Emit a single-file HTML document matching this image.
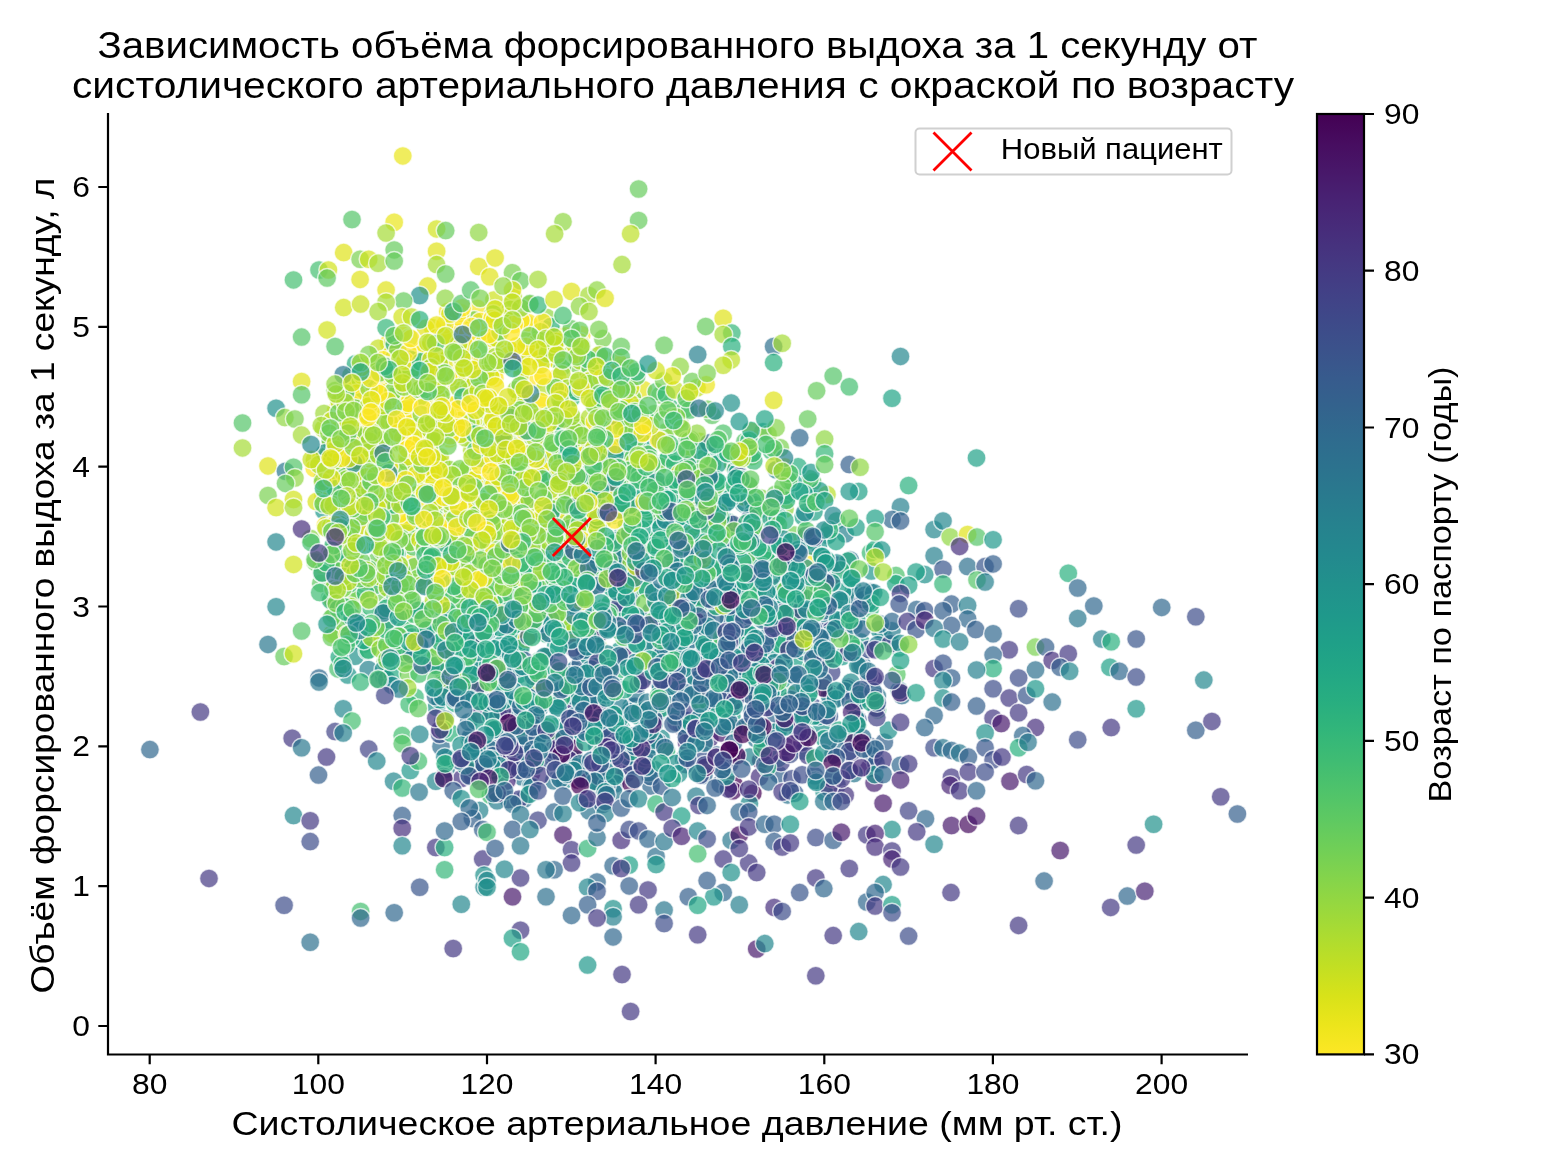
<!DOCTYPE html><html><head><meta charset="utf-8"><style>html,body{margin:0;padding:0;background:#fff}svg{display:block;will-change:transform;filter:blur(0.5px)}text{font-family:"Liberation Sans",sans-serif;fill:#000}</style></head><body>
<svg width="1560" height="1170" viewBox="0 0 1560 1170">
<rect width="1560" height="1170" fill="#fff"/>
<defs><linearGradient id="cb" x1="0" y1="0" x2="0" y2="1"><stop offset="0.0000" stop-color="#440154"/><stop offset="0.0312" stop-color="#470d60"/><stop offset="0.0625" stop-color="#48186a"/><stop offset="0.0938" stop-color="#482374"/><stop offset="0.1250" stop-color="#472d7b"/><stop offset="0.1562" stop-color="#453781"/><stop offset="0.1875" stop-color="#424086"/><stop offset="0.2188" stop-color="#3e4989"/><stop offset="0.2500" stop-color="#3b528b"/><stop offset="0.2812" stop-color="#375b8d"/><stop offset="0.3125" stop-color="#33638d"/><stop offset="0.3438" stop-color="#2f6b8e"/><stop offset="0.3750" stop-color="#2c728e"/><stop offset="0.4062" stop-color="#297a8e"/><stop offset="0.4375" stop-color="#26828e"/><stop offset="0.4688" stop-color="#23898e"/><stop offset="0.5000" stop-color="#21918c"/><stop offset="0.5312" stop-color="#1f988b"/><stop offset="0.5625" stop-color="#1fa088"/><stop offset="0.5938" stop-color="#22a785"/><stop offset="0.6250" stop-color="#28ae80"/><stop offset="0.6562" stop-color="#32b67a"/><stop offset="0.6875" stop-color="#3fbc73"/><stop offset="0.7188" stop-color="#4ec36b"/><stop offset="0.7500" stop-color="#5ec962"/><stop offset="0.7812" stop-color="#70cf57"/><stop offset="0.8125" stop-color="#84d44b"/><stop offset="0.8438" stop-color="#98d83e"/><stop offset="0.8750" stop-color="#addc30"/><stop offset="0.9062" stop-color="#c2df23"/><stop offset="0.9375" stop-color="#d8e219"/><stop offset="0.9688" stop-color="#ece51b"/><stop offset="1.0000" stop-color="#fde725"/></linearGradient></defs>
<g stroke="#fff" stroke-width="1.5" fill-opacity="0.7" stroke-opacity="0.7">
<circle cx="829.2" cy="623.2" r="9.5" fill="#287d8e"/>
<circle cx="471.2" cy="404.9" r="9.5" fill="#fde725"/>
<circle cx="560.3" cy="385.8" r="9.5" fill="#f1e51d"/>
<circle cx="597.6" cy="723.3" r="9.5" fill="#2d718e"/>
<circle cx="671.4" cy="519.4" r="9.5" fill="#21a685"/>
<circle cx="416.1" cy="442.7" r="9.5" fill="#fde725"/>
<circle cx="604.1" cy="689.0" r="9.5" fill="#2b748e"/>
<circle cx="573.5" cy="735.3" r="9.5" fill="#2c728e"/>
<circle cx="603.6" cy="607.7" r="9.5" fill="#1f988b"/>
<circle cx="592.8" cy="706.7" r="9.5" fill="#404588"/>
<circle cx="436.3" cy="522.9" r="9.5" fill="#d5e21a"/>
<circle cx="512.9" cy="652.6" r="9.5" fill="#3d4e8a"/>
<circle cx="377.9" cy="648.4" r="9.5" fill="#a5db36"/>
<circle cx="600.9" cy="704.5" r="9.5" fill="#21918c"/>
<circle cx="812.6" cy="648.5" r="9.5" fill="#297a8e"/>
<circle cx="682.4" cy="727.2" r="9.5" fill="#460a5d"/>
<circle cx="746.5" cy="609.1" r="9.5" fill="#3f4889"/>
<circle cx="599.6" cy="459.8" r="9.5" fill="#58c765"/>
<circle cx="656.4" cy="595.9" r="9.5" fill="#2cb17e"/>
<circle cx="524.2" cy="799.0" r="9.5" fill="#2d708e"/>
<circle cx="483.7" cy="454.9" r="9.5" fill="#cae11f"/>
<circle cx="519.1" cy="394.2" r="9.5" fill="#bddf26"/>
<circle cx="705.5" cy="647.4" r="9.5" fill="#20928c"/>
<circle cx="533.6" cy="470.2" r="9.5" fill="#5ec962"/>
<circle cx="341.7" cy="476.1" r="9.5" fill="#b2dd2d"/>
<circle cx="469.5" cy="739.4" r="9.5" fill="#1f998a"/>
<circle cx="829.5" cy="565.8" r="9.5" fill="#38588c"/>
<circle cx="372.3" cy="505.0" r="9.5" fill="#fde725"/>
<circle cx="627.6" cy="743.3" r="9.5" fill="#3d4d8a"/>
<circle cx="574.5" cy="577.5" r="9.5" fill="#24aa83"/>
<circle cx="624.6" cy="521.4" r="9.5" fill="#48c16e"/>
<circle cx="752.5" cy="615.2" r="9.5" fill="#1f988b"/>
<circle cx="514.5" cy="763.9" r="9.5" fill="#24868e"/>
<circle cx="358.1" cy="480.3" r="9.5" fill="#fde725"/>
<circle cx="549.7" cy="697.5" r="9.5" fill="#31668e"/>
<circle cx="651.4" cy="443.2" r="9.5" fill="#1fa088"/>
<circle cx="761.2" cy="498.2" r="9.5" fill="#84d44b"/>
<circle cx="366.8" cy="482.2" r="9.5" fill="#f6e620"/>
<circle cx="543.9" cy="526.1" r="9.5" fill="#86d549"/>
<circle cx="778.6" cy="774.4" r="9.5" fill="#33628d"/>
<circle cx="602.9" cy="376.2" r="9.5" fill="#63cb5f"/>
<circle cx="508.9" cy="705.6" r="9.5" fill="#1f9f88"/>
<circle cx="393.6" cy="414.5" r="9.5" fill="#fde725"/>
<circle cx="498.2" cy="597.1" r="9.5" fill="#4cc26c"/>
<circle cx="494.4" cy="625.9" r="9.5" fill="#52c569"/>
<circle cx="604.5" cy="502.1" r="9.5" fill="#63cb5f"/>
<circle cx="747.1" cy="616.5" r="9.5" fill="#2db27d"/>
<circle cx="539.3" cy="708.5" r="9.5" fill="#277f8e"/>
<circle cx="786.8" cy="565.7" r="9.5" fill="#2d708e"/>
<circle cx="414.6" cy="533.6" r="9.5" fill="#aadc32"/>
<circle cx="855.5" cy="727.3" r="9.5" fill="#472f7d"/>
<circle cx="351.5" cy="390.0" r="9.5" fill="#fde725"/>
<circle cx="659.9" cy="439.2" r="9.5" fill="#32b67a"/>
<circle cx="654.2" cy="769.5" r="9.5" fill="#277f8e"/>
<circle cx="694.7" cy="686.4" r="9.5" fill="#297a8e"/>
<circle cx="473.4" cy="406.9" r="9.5" fill="#fde725"/>
<circle cx="675.1" cy="517.4" r="9.5" fill="#1e9c89"/>
<circle cx="539.2" cy="702.8" r="9.5" fill="#228d8d"/>
<circle cx="439.6" cy="559.9" r="9.5" fill="#5cc863"/>
<circle cx="437.0" cy="512.9" r="9.5" fill="#aadc32"/>
<circle cx="398.7" cy="426.5" r="9.5" fill="#fde725"/>
<circle cx="636.8" cy="441.9" r="9.5" fill="#32b67a"/>
<circle cx="618.8" cy="483.9" r="9.5" fill="#26ad81"/>
<circle cx="401.0" cy="590.4" r="9.5" fill="#6ccd5a"/>
<circle cx="784.0" cy="667.9" r="9.5" fill="#228d8d"/>
<circle cx="493.5" cy="357.7" r="9.5" fill="#a5db36"/>
<circle cx="480.5" cy="365.2" r="9.5" fill="#bade28"/>
<circle cx="351.7" cy="528.6" r="9.5" fill="#d5e21a"/>
<circle cx="477.9" cy="363.1" r="9.5" fill="#fde725"/>
<circle cx="822.4" cy="561.1" r="9.5" fill="#277f8e"/>
<circle cx="641.0" cy="621.5" r="9.5" fill="#2cb17e"/>
<circle cx="681.8" cy="638.9" r="9.5" fill="#25ac82"/>
<circle cx="341.4" cy="553.3" r="9.5" fill="#7ad151"/>
<circle cx="486.3" cy="462.6" r="9.5" fill="#c0df25"/>
<circle cx="382.3" cy="554.3" r="9.5" fill="#238a8d"/>
<circle cx="689.4" cy="560.6" r="9.5" fill="#32b67a"/>
<circle cx="415.7" cy="488.4" r="9.5" fill="#c2df23"/>
<circle cx="519.0" cy="354.8" r="9.5" fill="#fde725"/>
<circle cx="439.6" cy="668.7" r="9.5" fill="#44bf70"/>
<circle cx="567.5" cy="546.6" r="9.5" fill="#b8de29"/>
<circle cx="344.4" cy="573.5" r="9.5" fill="#48c16e"/>
<circle cx="519.8" cy="767.6" r="9.5" fill="#2a768e"/>
<circle cx="517.5" cy="733.3" r="9.5" fill="#440154"/>
<circle cx="415.9" cy="472.0" r="9.5" fill="#1f9e89"/>
<circle cx="488.0" cy="454.1" r="9.5" fill="#fde725"/>
<circle cx="329.7" cy="597.8" r="9.5" fill="#2ab07f"/>
<circle cx="363.3" cy="433.9" r="9.5" fill="#54c568"/>
<circle cx="849.8" cy="580.5" r="9.5" fill="#1f948c"/>
<circle cx="450.0" cy="511.1" r="9.5" fill="#fde725"/>
<circle cx="803.6" cy="751.0" r="9.5" fill="#2a778e"/>
<circle cx="398.4" cy="442.8" r="9.5" fill="#a8db34"/>
<circle cx="727.1" cy="638.9" r="9.5" fill="#1f988b"/>
<circle cx="737.4" cy="601.6" r="9.5" fill="#306a8e"/>
<circle cx="768.2" cy="665.2" r="9.5" fill="#1fa187"/>
<circle cx="704.1" cy="588.7" r="9.5" fill="#2cb17e"/>
<circle cx="756.3" cy="534.9" r="9.5" fill="#58c765"/>
<circle cx="448.1" cy="657.2" r="9.5" fill="#75d054"/>
<circle cx="396.6" cy="554.2" r="9.5" fill="#fde725"/>
<circle cx="733.4" cy="753.7" r="9.5" fill="#355e8d"/>
<circle cx="683.4" cy="476.9" r="9.5" fill="#1f968b"/>
<circle cx="756.5" cy="700.5" r="9.5" fill="#31678e"/>
<circle cx="621.3" cy="536.0" r="9.5" fill="#1f9e89"/>
<circle cx="524.2" cy="540.7" r="9.5" fill="#2fb47c"/>
<circle cx="624.9" cy="603.4" r="9.5" fill="#21908d"/>
<circle cx="367.5" cy="508.4" r="9.5" fill="#e5e419"/>
<circle cx="758.1" cy="700.9" r="9.5" fill="#1f978b"/>
<circle cx="338.6" cy="481.0" r="9.5" fill="#6ece58"/>
<circle cx="763.6" cy="593.9" r="9.5" fill="#26818e"/>
<circle cx="477.9" cy="393.0" r="9.5" fill="#e2e418"/>
<circle cx="732.6" cy="464.8" r="9.5" fill="#9dd93b"/>
<circle cx="435.7" cy="616.8" r="9.5" fill="#77d153"/>
<circle cx="528.3" cy="668.8" r="9.5" fill="#24878e"/>
<circle cx="359.4" cy="432.2" r="9.5" fill="#95d840"/>
<circle cx="596.8" cy="746.0" r="9.5" fill="#39558c"/>
<circle cx="358.3" cy="482.8" r="9.5" fill="#8bd646"/>
<circle cx="391.6" cy="554.9" r="9.5" fill="#75d054"/>
<circle cx="447.8" cy="614.3" r="9.5" fill="#81d34d"/>
<circle cx="611.7" cy="553.6" r="9.5" fill="#7ad151"/>
<circle cx="604.9" cy="435.1" r="9.5" fill="#c0df25"/>
<circle cx="529.2" cy="534.9" r="9.5" fill="#b2dd2d"/>
<circle cx="829.1" cy="655.3" r="9.5" fill="#443983"/>
<circle cx="366.5" cy="496.1" r="9.5" fill="#24868e"/>
<circle cx="425.7" cy="655.3" r="9.5" fill="#1f958b"/>
<circle cx="429.4" cy="624.3" r="9.5" fill="#2d718e"/>
<circle cx="470.3" cy="736.6" r="9.5" fill="#34608d"/>
<circle cx="386.2" cy="576.0" r="9.5" fill="#7cd250"/>
<circle cx="385.1" cy="480.3" r="9.5" fill="#4ac16d"/>
<circle cx="378.3" cy="584.6" r="9.5" fill="#e2e418"/>
<circle cx="603.8" cy="422.0" r="9.5" fill="#31b57b"/>
<circle cx="722.0" cy="707.8" r="9.5" fill="#2f6b8e"/>
<circle cx="553.0" cy="508.8" r="9.5" fill="#bddf26"/>
<circle cx="491.3" cy="450.0" r="9.5" fill="#a5db36"/>
<circle cx="627.2" cy="452.6" r="9.5" fill="#b5de2b"/>
<circle cx="763.7" cy="670.5" r="9.5" fill="#355f8d"/>
<circle cx="575.1" cy="467.5" r="9.5" fill="#44bf70"/>
<circle cx="609.4" cy="458.3" r="9.5" fill="#93d741"/>
<circle cx="631.2" cy="706.4" r="9.5" fill="#20928c"/>
<circle cx="565.1" cy="625.4" r="9.5" fill="#1fa187"/>
<circle cx="653.3" cy="634.2" r="9.5" fill="#1f968b"/>
<circle cx="751.8" cy="543.8" r="9.5" fill="#3c4f8a"/>
<circle cx="787.4" cy="601.7" r="9.5" fill="#22a785"/>
<circle cx="706.5" cy="519.6" r="9.5" fill="#40bd72"/>
<circle cx="683.7" cy="759.0" r="9.5" fill="#2a788e"/>
<circle cx="535.8" cy="523.9" r="9.5" fill="#3fbc73"/>
<circle cx="631.3" cy="598.9" r="9.5" fill="#2b758e"/>
<circle cx="529.5" cy="551.0" r="9.5" fill="#25ac82"/>
<circle cx="519.7" cy="647.2" r="9.5" fill="#3e4c8a"/>
<circle cx="597.0" cy="489.7" r="9.5" fill="#1f998a"/>
<circle cx="493.1" cy="685.0" r="9.5" fill="#c5e021"/>
<circle cx="561.7" cy="671.6" r="9.5" fill="#228b8d"/>
<circle cx="647.2" cy="714.0" r="9.5" fill="#277e8e"/>
<circle cx="464.6" cy="361.2" r="9.5" fill="#c8e020"/>
<circle cx="502.2" cy="687.9" r="9.5" fill="#472e7c"/>
<circle cx="517.7" cy="727.8" r="9.5" fill="#3e4c8a"/>
<circle cx="762.9" cy="431.7" r="9.5" fill="#1fa188"/>
<circle cx="515.3" cy="427.4" r="9.5" fill="#eae51a"/>
<circle cx="407.3" cy="463.0" r="9.5" fill="#fde725"/>
<circle cx="479.6" cy="481.3" r="9.5" fill="#fde725"/>
<circle cx="764.5" cy="619.1" r="9.5" fill="#2d718e"/>
<circle cx="560.4" cy="544.4" r="9.5" fill="#3c4f8a"/>
<circle cx="517.3" cy="533.4" r="9.5" fill="#56c667"/>
<circle cx="680.8" cy="681.3" r="9.5" fill="#2a788e"/>
<circle cx="443.0" cy="721.0" r="9.5" fill="#2c738e"/>
<circle cx="677.0" cy="481.2" r="9.5" fill="#20928c"/>
<circle cx="462.4" cy="654.8" r="9.5" fill="#1f958b"/>
<circle cx="323.3" cy="428.8" r="9.5" fill="#b2dd2d"/>
<circle cx="546.4" cy="742.5" r="9.5" fill="#404588"/>
<circle cx="482.7" cy="544.2" r="9.5" fill="#9dd93b"/>
<circle cx="762.7" cy="655.9" r="9.5" fill="#365d8d"/>
<circle cx="751.8" cy="456.5" r="9.5" fill="#81d34d"/>
<circle cx="682.5" cy="543.1" r="9.5" fill="#23898e"/>
<circle cx="367.6" cy="443.2" r="9.5" fill="#6ece58"/>
<circle cx="384.6" cy="549.4" r="9.5" fill="#dfe318"/>
<circle cx="778.3" cy="758.0" r="9.5" fill="#25858e"/>
<circle cx="396.5" cy="487.7" r="9.5" fill="#fde725"/>
<circle cx="536.0" cy="718.1" r="9.5" fill="#26828e"/>
<circle cx="793.6" cy="568.3" r="9.5" fill="#81d34d"/>
<circle cx="700.4" cy="688.1" r="9.5" fill="#25858e"/>
<circle cx="657.7" cy="484.1" r="9.5" fill="#81d34d"/>
<circle cx="837.1" cy="785.5" r="9.5" fill="#3a548c"/>
<circle cx="478.8" cy="535.0" r="9.5" fill="#a2da37"/>
<circle cx="802.4" cy="618.2" r="9.5" fill="#482374"/>
<circle cx="665.0" cy="517.6" r="9.5" fill="#1fa287"/>
<circle cx="706.7" cy="616.4" r="9.5" fill="#25838e"/>
<circle cx="662.4" cy="647.6" r="9.5" fill="#3d4d8a"/>
<circle cx="491.7" cy="551.4" r="9.5" fill="#46c06f"/>
<circle cx="735.4" cy="700.6" r="9.5" fill="#2f6c8e"/>
<circle cx="545.2" cy="470.5" r="9.5" fill="#c2df23"/>
<circle cx="492.3" cy="592.8" r="9.5" fill="#24aa83"/>
<circle cx="364.0" cy="579.9" r="9.5" fill="#48c16e"/>
<circle cx="471.7" cy="680.5" r="9.5" fill="#95d840"/>
<circle cx="561.8" cy="766.3" r="9.5" fill="#25848e"/>
<circle cx="534.0" cy="467.8" r="9.5" fill="#90d743"/>
<circle cx="370.4" cy="576.4" r="9.5" fill="#27ad81"/>
<circle cx="870.4" cy="592.1" r="9.5" fill="#2c728e"/>
<circle cx="362.3" cy="530.8" r="9.5" fill="#50c46a"/>
<circle cx="354.8" cy="402.7" r="9.5" fill="#addc30"/>
<circle cx="626.2" cy="451.4" r="9.5" fill="#40bd72"/>
<circle cx="453.1" cy="654.1" r="9.5" fill="#29af7f"/>
<circle cx="760.8" cy="760.3" r="9.5" fill="#46085c"/>
<circle cx="464.8" cy="486.6" r="9.5" fill="#fde725"/>
<circle cx="735.9" cy="476.8" r="9.5" fill="#22a785"/>
<circle cx="524.1" cy="525.0" r="9.5" fill="#d8e219"/>
<circle cx="329.3" cy="492.1" r="9.5" fill="#cae11f"/>
<circle cx="418.7" cy="432.6" r="9.5" fill="#c8e020"/>
<circle cx="389.5" cy="639.0" r="9.5" fill="#1f9e89"/>
<circle cx="744.6" cy="641.0" r="9.5" fill="#7cd250"/>
<circle cx="452.3" cy="409.8" r="9.5" fill="#81d34d"/>
<circle cx="599.0" cy="512.0" r="9.5" fill="#9bd93c"/>
<circle cx="578.5" cy="629.6" r="9.5" fill="#1f9f88"/>
<circle cx="608.4" cy="685.3" r="9.5" fill="#3f4788"/>
<circle cx="447.2" cy="473.6" r="9.5" fill="#efe51c"/>
<circle cx="790.9" cy="694.0" r="9.5" fill="#65cb5e"/>
<circle cx="565.4" cy="334.1" r="9.5" fill="#58c765"/>
<circle cx="481.7" cy="638.8" r="9.5" fill="#32b67a"/>
<circle cx="527.1" cy="607.6" r="9.5" fill="#3dbc74"/>
<circle cx="377.2" cy="639.5" r="9.5" fill="#28ae80"/>
<circle cx="332.4" cy="530.6" r="9.5" fill="#dae319"/>
<circle cx="644.6" cy="431.5" r="9.5" fill="#20928c"/>
<circle cx="784.7" cy="710.3" r="9.5" fill="#24aa83"/>
<circle cx="405.3" cy="584.3" r="9.5" fill="#7cd250"/>
<circle cx="623.0" cy="577.2" r="9.5" fill="#48c16e"/>
<circle cx="450.5" cy="406.0" r="9.5" fill="#d5e21a"/>
<circle cx="620.9" cy="596.8" r="9.5" fill="#33638d"/>
<circle cx="794.2" cy="676.2" r="9.5" fill="#1e9b8a"/>
<circle cx="860.7" cy="641.9" r="9.5" fill="#1f9a8a"/>
<circle cx="489.6" cy="369.3" r="9.5" fill="#b8de29"/>
<circle cx="388.5" cy="343.0" r="9.5" fill="#fde725"/>
<circle cx="586.6" cy="720.4" r="9.5" fill="#2b748e"/>
<circle cx="609.8" cy="506.8" r="9.5" fill="#1f978b"/>
<circle cx="354.0" cy="462.1" r="9.5" fill="#c0df25"/>
<circle cx="476.1" cy="390.1" r="9.5" fill="#9bd93c"/>
<circle cx="827.7" cy="535.2" r="9.5" fill="#228d8d"/>
<circle cx="382.8" cy="455.1" r="9.5" fill="#fde725"/>
<circle cx="567.0" cy="527.3" r="9.5" fill="#95d840"/>
<circle cx="696.3" cy="501.7" r="9.5" fill="#2fb47c"/>
<circle cx="384.8" cy="557.3" r="9.5" fill="#b5de2b"/>
<circle cx="368.3" cy="669.4" r="9.5" fill="#26828e"/>
<circle cx="504.7" cy="557.0" r="9.5" fill="#63cb5f"/>
<circle cx="488.8" cy="646.4" r="9.5" fill="#20a386"/>
<circle cx="754.9" cy="567.9" r="9.5" fill="#4cc26c"/>
<circle cx="441.5" cy="494.4" r="9.5" fill="#fde725"/>
<circle cx="475.9" cy="524.9" r="9.5" fill="#d2e21b"/>
<circle cx="579.4" cy="568.8" r="9.5" fill="#1f958b"/>
<circle cx="717.6" cy="522.0" r="9.5" fill="#2d708e"/>
<circle cx="379.3" cy="628.8" r="9.5" fill="#5cc863"/>
<circle cx="772.5" cy="675.3" r="9.5" fill="#2e6f8e"/>
<circle cx="447.9" cy="433.3" r="9.5" fill="#f8e621"/>
<circle cx="565.2" cy="730.2" r="9.5" fill="#1f948c"/>
<circle cx="874.5" cy="756.9" r="9.5" fill="#277f8e"/>
<circle cx="516.2" cy="584.7" r="9.5" fill="#a5db36"/>
<circle cx="755.8" cy="606.0" r="9.5" fill="#9dd93b"/>
<circle cx="471.7" cy="375.5" r="9.5" fill="#fde725"/>
<circle cx="515.8" cy="482.8" r="9.5" fill="#67cc5c"/>
<circle cx="680.3" cy="678.8" r="9.5" fill="#3dbc74"/>
<circle cx="347.8" cy="675.1" r="9.5" fill="#1f958b"/>
<circle cx="755.7" cy="520.5" r="9.5" fill="#b5de2b"/>
<circle cx="467.0" cy="756.8" r="9.5" fill="#24868e"/>
<circle cx="643.7" cy="389.8" r="9.5" fill="#e5e419"/>
<circle cx="440.0" cy="565.9" r="9.5" fill="#dde318"/>
<circle cx="499.5" cy="504.5" r="9.5" fill="#86d549"/>
<circle cx="408.0" cy="368.5" r="9.5" fill="#fbe723"/>
<circle cx="440.1" cy="390.7" r="9.5" fill="#cae11f"/>
<circle cx="658.3" cy="634.6" r="9.5" fill="#b8de29"/>
<circle cx="486.8" cy="593.2" r="9.5" fill="#d5e21a"/>
<circle cx="626.2" cy="773.5" r="9.5" fill="#46327e"/>
<circle cx="408.1" cy="422.2" r="9.5" fill="#a2da37"/>
<circle cx="434.7" cy="534.3" r="9.5" fill="#d2e21b"/>
<circle cx="680.0" cy="540.6" r="9.5" fill="#29af7f"/>
<circle cx="360.2" cy="597.0" r="9.5" fill="#60ca60"/>
<circle cx="490.0" cy="549.1" r="9.5" fill="#8bd646"/>
<circle cx="705.4" cy="718.8" r="9.5" fill="#1e9c89"/>
<circle cx="624.3" cy="736.7" r="9.5" fill="#2c738e"/>
<circle cx="444.3" cy="566.9" r="9.5" fill="#20928c"/>
<circle cx="647.2" cy="715.5" r="9.5" fill="#482677"/>
<circle cx="606.6" cy="671.2" r="9.5" fill="#32658e"/>
<circle cx="362.0" cy="389.8" r="9.5" fill="#fde725"/>
<circle cx="774.6" cy="691.9" r="9.5" fill="#31678e"/>
<circle cx="434.2" cy="582.4" r="9.5" fill="#fde725"/>
<circle cx="558.8" cy="458.8" r="9.5" fill="#2cb17e"/>
<circle cx="596.4" cy="624.1" r="9.5" fill="#1f9a8a"/>
<circle cx="597.3" cy="705.4" r="9.5" fill="#2e6f8e"/>
<circle cx="341.6" cy="562.1" r="9.5" fill="#20928c"/>
<circle cx="601.8" cy="513.8" r="9.5" fill="#d0e11c"/>
<circle cx="597.3" cy="572.9" r="9.5" fill="#22a785"/>
<circle cx="672.4" cy="537.9" r="9.5" fill="#1fa287"/>
<circle cx="794.1" cy="662.9" r="9.5" fill="#1fa287"/>
<circle cx="719.3" cy="514.7" r="9.5" fill="#1fa187"/>
<circle cx="576.6" cy="382.1" r="9.5" fill="#a2da37"/>
<circle cx="695.3" cy="561.2" r="9.5" fill="#42be71"/>
<circle cx="619.9" cy="650.4" r="9.5" fill="#1f998a"/>
<circle cx="597.1" cy="576.4" r="9.5" fill="#2e6e8e"/>
<circle cx="466.6" cy="492.4" r="9.5" fill="#bddf26"/>
<circle cx="693.1" cy="653.6" r="9.5" fill="#20938c"/>
<circle cx="849.9" cy="610.7" r="9.5" fill="#32658e"/>
<circle cx="573.0" cy="389.4" r="9.5" fill="#90d743"/>
<circle cx="862.0" cy="664.5" r="9.5" fill="#2e6f8e"/>
<circle cx="787.6" cy="495.7" r="9.5" fill="#1f9f88"/>
<circle cx="518.9" cy="391.6" r="9.5" fill="#cae11f"/>
<circle cx="324.6" cy="480.2" r="9.5" fill="#75d054"/>
<circle cx="443.1" cy="422.9" r="9.5" fill="#fde725"/>
<circle cx="342.2" cy="394.0" r="9.5" fill="#a0da39"/>
<circle cx="408.2" cy="528.5" r="9.5" fill="#52c569"/>
<circle cx="671.2" cy="489.4" r="9.5" fill="#238a8d"/>
<circle cx="608.1" cy="725.0" r="9.5" fill="#3d4e8a"/>
<circle cx="463.4" cy="385.9" r="9.5" fill="#65cb5e"/>
<circle cx="360.0" cy="619.6" r="9.5" fill="#2eb37c"/>
<circle cx="446.4" cy="582.6" r="9.5" fill="#31b57b"/>
<circle cx="365.4" cy="627.3" r="9.5" fill="#77d153"/>
<circle cx="550.3" cy="752.0" r="9.5" fill="#28ae80"/>
<circle cx="531.5" cy="773.3" r="9.5" fill="#481c6e"/>
<circle cx="652.8" cy="507.4" r="9.5" fill="#31b57b"/>
<circle cx="349.2" cy="568.8" r="9.5" fill="#6ece58"/>
<circle cx="785.8" cy="612.7" r="9.5" fill="#93d741"/>
<circle cx="676.0" cy="600.4" r="9.5" fill="#443983"/>
<circle cx="601.6" cy="385.2" r="9.5" fill="#8bd646"/>
<circle cx="352.6" cy="618.3" r="9.5" fill="#44bf70"/>
<circle cx="739.9" cy="692.6" r="9.5" fill="#228b8d"/>
<circle cx="546.9" cy="317.6" r="9.5" fill="#93d741"/>
<circle cx="541.4" cy="675.0" r="9.5" fill="#23898e"/>
<circle cx="391.2" cy="530.3" r="9.5" fill="#67cc5c"/>
<circle cx="479.5" cy="810.4" r="9.5" fill="#25858e"/>
<circle cx="511.9" cy="551.9" r="9.5" fill="#54c568"/>
<circle cx="658.9" cy="595.0" r="9.5" fill="#228d8d"/>
<circle cx="487.4" cy="557.8" r="9.5" fill="#f1e51d"/>
<circle cx="826.8" cy="636.0" r="9.5" fill="#287d8e"/>
<circle cx="690.4" cy="495.4" r="9.5" fill="#4cc26c"/>
<circle cx="751.6" cy="431.2" r="9.5" fill="#fde725"/>
<circle cx="603.2" cy="615.1" r="9.5" fill="#365c8d"/>
<circle cx="467.3" cy="647.1" r="9.5" fill="#63cb5f"/>
<circle cx="625.7" cy="526.1" r="9.5" fill="#81d34d"/>
<circle cx="818.7" cy="544.7" r="9.5" fill="#1f968b"/>
<circle cx="646.2" cy="553.6" r="9.5" fill="#bddf26"/>
<circle cx="447.8" cy="636.9" r="9.5" fill="#24aa83"/>
<circle cx="675.0" cy="680.0" r="9.5" fill="#34618d"/>
<circle cx="402.4" cy="545.4" r="9.5" fill="#c5e021"/>
<circle cx="794.3" cy="534.9" r="9.5" fill="#75d054"/>
<circle cx="602.3" cy="788.5" r="9.5" fill="#482374"/>
<circle cx="692.0" cy="618.3" r="9.5" fill="#54c568"/>
<circle cx="335.7" cy="487.4" r="9.5" fill="#e7e419"/>
<circle cx="493.2" cy="520.6" r="9.5" fill="#a5db36"/>
<circle cx="537.1" cy="428.7" r="9.5" fill="#9dd93b"/>
<circle cx="666.0" cy="748.9" r="9.5" fill="#1fa088"/>
<circle cx="724.1" cy="664.5" r="9.5" fill="#1fa287"/>
<circle cx="576.5" cy="698.3" r="9.5" fill="#24868e"/>
<circle cx="792.1" cy="778.8" r="9.5" fill="#3e4a89"/>
<circle cx="585.5" cy="573.7" r="9.5" fill="#2db27d"/>
<circle cx="360.9" cy="404.0" r="9.5" fill="#77d153"/>
<circle cx="467.6" cy="475.3" r="9.5" fill="#90d743"/>
<circle cx="335.6" cy="587.2" r="9.5" fill="#48c16e"/>
<circle cx="471.1" cy="384.9" r="9.5" fill="#dde318"/>
<circle cx="582.1" cy="570.4" r="9.5" fill="#84d44b"/>
<circle cx="682.8" cy="566.0" r="9.5" fill="#375b8d"/>
<circle cx="580.5" cy="548.0" r="9.5" fill="#f6e620"/>
<circle cx="589.7" cy="643.5" r="9.5" fill="#24aa83"/>
<circle cx="901.9" cy="695.6" r="9.5" fill="#2d718e"/>
<circle cx="335.5" cy="410.9" r="9.5" fill="#fbe723"/>
<circle cx="868.6" cy="745.5" r="9.5" fill="#365d8d"/>
<circle cx="856.5" cy="744.2" r="9.5" fill="#25838e"/>
<circle cx="730.3" cy="531.8" r="9.5" fill="#20a486"/>
<circle cx="366.9" cy="365.9" r="9.5" fill="#50c46a"/>
<circle cx="522.1" cy="725.6" r="9.5" fill="#2a768e"/>
<circle cx="459.2" cy="372.9" r="9.5" fill="#c5e021"/>
<circle cx="509.3" cy="510.9" r="9.5" fill="#56c667"/>
<circle cx="360.4" cy="426.7" r="9.5" fill="#a0da39"/>
<circle cx="594.6" cy="647.2" r="9.5" fill="#27808e"/>
<circle cx="743.1" cy="585.2" r="9.5" fill="#40bd72"/>
<circle cx="667.9" cy="666.4" r="9.5" fill="#1fa188"/>
<circle cx="388.7" cy="619.6" r="9.5" fill="#2c728e"/>
<circle cx="732.0" cy="613.8" r="9.5" fill="#1f998a"/>
<circle cx="724.9" cy="769.0" r="9.5" fill="#2b748e"/>
<circle cx="767.1" cy="567.6" r="9.5" fill="#3a538b"/>
<circle cx="569.6" cy="585.0" r="9.5" fill="#228b8d"/>
<circle cx="712.3" cy="453.0" r="9.5" fill="#20a386"/>
<circle cx="527.2" cy="462.0" r="9.5" fill="#9bd93c"/>
<circle cx="510.4" cy="612.7" r="9.5" fill="#37b878"/>
<circle cx="590.6" cy="389.0" r="9.5" fill="#84d44b"/>
<circle cx="557.2" cy="335.7" r="9.5" fill="#cde11d"/>
<circle cx="465.0" cy="661.1" r="9.5" fill="#5ac864"/>
<circle cx="669.5" cy="407.2" r="9.5" fill="#35b779"/>
<circle cx="506.4" cy="744.4" r="9.5" fill="#2a768e"/>
<circle cx="559.3" cy="537.4" r="9.5" fill="#21a585"/>
<circle cx="883.3" cy="636.1" r="9.5" fill="#25838e"/>
<circle cx="446.7" cy="558.5" r="9.5" fill="#70cf57"/>
<circle cx="600.2" cy="354.1" r="9.5" fill="#fde725"/>
<circle cx="788.6" cy="587.1" r="9.5" fill="#1f968b"/>
<circle cx="482.7" cy="514.0" r="9.5" fill="#75d054"/>
<circle cx="694.0" cy="657.9" r="9.5" fill="#21918c"/>
<circle cx="696.7" cy="724.9" r="9.5" fill="#2d718e"/>
<circle cx="621.4" cy="365.0" r="9.5" fill="#fde725"/>
<circle cx="765.3" cy="698.8" r="9.5" fill="#32658e"/>
<circle cx="519.1" cy="353.2" r="9.5" fill="#d8e219"/>
<circle cx="483.1" cy="636.6" r="9.5" fill="#89d548"/>
<circle cx="613.9" cy="515.1" r="9.5" fill="#1e9d89"/>
<circle cx="522.0" cy="524.2" r="9.5" fill="#69cd5b"/>
<circle cx="497.7" cy="528.2" r="9.5" fill="#98d83e"/>
<circle cx="662.2" cy="523.9" r="9.5" fill="#38b977"/>
<circle cx="569.4" cy="357.4" r="9.5" fill="#cde11d"/>
<circle cx="523.1" cy="757.7" r="9.5" fill="#2b748e"/>
<circle cx="670.2" cy="487.5" r="9.5" fill="#2eb37c"/>
<circle cx="591.4" cy="708.4" r="9.5" fill="#25848e"/>
<circle cx="355.0" cy="553.3" r="9.5" fill="#6ece58"/>
<circle cx="481.0" cy="640.2" r="9.5" fill="#25838e"/>
<circle cx="453.7" cy="655.1" r="9.5" fill="#21a585"/>
<circle cx="728.6" cy="618.2" r="9.5" fill="#2c728e"/>
<circle cx="508.7" cy="482.5" r="9.5" fill="#67cc5c"/>
<circle cx="777.2" cy="685.0" r="9.5" fill="#297b8e"/>
<circle cx="369.1" cy="474.0" r="9.5" fill="#93d741"/>
<circle cx="461.8" cy="554.9" r="9.5" fill="#7ad151"/>
<circle cx="745.7" cy="604.5" r="9.5" fill="#1f9e89"/>
<circle cx="513.4" cy="351.4" r="9.5" fill="#f4e61e"/>
<circle cx="559.3" cy="390.8" r="9.5" fill="#1fa088"/>
<circle cx="694.9" cy="600.2" r="9.5" fill="#1f968b"/>
<circle cx="808.0" cy="601.7" r="9.5" fill="#2a768e"/>
<circle cx="687.3" cy="607.4" r="9.5" fill="#1fa088"/>
<circle cx="398.4" cy="382.7" r="9.5" fill="#fbe723"/>
<circle cx="605.6" cy="488.9" r="9.5" fill="#fbe723"/>
<circle cx="493.0" cy="456.6" r="9.5" fill="#c2df23"/>
<circle cx="486.1" cy="437.0" r="9.5" fill="#50c46a"/>
<circle cx="378.6" cy="482.2" r="9.5" fill="#aadc32"/>
<circle cx="512.4" cy="708.1" r="9.5" fill="#21a585"/>
<circle cx="545.5" cy="342.1" r="9.5" fill="#93d741"/>
<circle cx="708.6" cy="582.6" r="9.5" fill="#24868e"/>
<circle cx="417.7" cy="477.2" r="9.5" fill="#bade28"/>
<circle cx="824.1" cy="791.9" r="9.5" fill="#20938c"/>
<circle cx="781.5" cy="624.4" r="9.5" fill="#228d8d"/>
<circle cx="557.8" cy="618.6" r="9.5" fill="#25838e"/>
<circle cx="502.7" cy="693.5" r="9.5" fill="#21908d"/>
<circle cx="472.6" cy="776.2" r="9.5" fill="#482071"/>
<circle cx="491.3" cy="597.0" r="9.5" fill="#3aba76"/>
<circle cx="424.6" cy="612.3" r="9.5" fill="#69cd5b"/>
<circle cx="549.4" cy="435.0" r="9.5" fill="#9dd93b"/>
<circle cx="404.8" cy="590.6" r="9.5" fill="#27ad81"/>
<circle cx="500.1" cy="366.4" r="9.5" fill="#fde725"/>
<circle cx="536.5" cy="339.3" r="9.5" fill="#f4e61e"/>
<circle cx="372.8" cy="508.4" r="9.5" fill="#fde725"/>
<circle cx="344.9" cy="528.1" r="9.5" fill="#86d549"/>
<circle cx="442.1" cy="480.2" r="9.5" fill="#98d83e"/>
<circle cx="587.6" cy="362.7" r="9.5" fill="#a0da39"/>
<circle cx="567.9" cy="360.0" r="9.5" fill="#ece51b"/>
<circle cx="591.5" cy="567.6" r="9.5" fill="#25ac82"/>
<circle cx="748.4" cy="725.5" r="9.5" fill="#2eb37c"/>
<circle cx="479.1" cy="690.4" r="9.5" fill="#2c728e"/>
<circle cx="557.5" cy="555.7" r="9.5" fill="#73d056"/>
<circle cx="764.9" cy="552.3" r="9.5" fill="#3a538b"/>
<circle cx="328.5" cy="448.7" r="9.5" fill="#dae319"/>
<circle cx="581.6" cy="770.9" r="9.5" fill="#481a6c"/>
<circle cx="735.9" cy="469.5" r="9.5" fill="#1f9a8a"/>
<circle cx="457.8" cy="376.0" r="9.5" fill="#b5de2b"/>
<circle cx="784.9" cy="467.1" r="9.5" fill="#dfe318"/>
<circle cx="654.3" cy="413.8" r="9.5" fill="#7cd250"/>
<circle cx="503.8" cy="735.2" r="9.5" fill="#33628d"/>
<circle cx="678.5" cy="491.4" r="9.5" fill="#75d054"/>
<circle cx="400.7" cy="358.1" r="9.5" fill="#7cd250"/>
<circle cx="367.3" cy="382.6" r="9.5" fill="#f6e620"/>
<circle cx="672.9" cy="426.1" r="9.5" fill="#90d743"/>
<circle cx="780.3" cy="586.3" r="9.5" fill="#453882"/>
<circle cx="695.9" cy="668.8" r="9.5" fill="#25848e"/>
<circle cx="681.1" cy="461.5" r="9.5" fill="#8ed645"/>
<circle cx="712.6" cy="464.5" r="9.5" fill="#56c667"/>
<circle cx="564.4" cy="580.6" r="9.5" fill="#472e7c"/>
<circle cx="616.6" cy="671.6" r="9.5" fill="#31b57b"/>
<circle cx="429.5" cy="349.0" r="9.5" fill="#d5e21a"/>
<circle cx="400.7" cy="390.5" r="9.5" fill="#b0dd2f"/>
<circle cx="482.9" cy="423.9" r="9.5" fill="#cde11d"/>
<circle cx="508.5" cy="799.5" r="9.5" fill="#3e4989"/>
<circle cx="621.3" cy="728.1" r="9.5" fill="#1fa287"/>
<circle cx="420.0" cy="520.9" r="9.5" fill="#5ac864"/>
<circle cx="483.0" cy="516.9" r="9.5" fill="#75d054"/>
<circle cx="693.2" cy="548.4" r="9.5" fill="#2b748e"/>
<circle cx="782.0" cy="657.9" r="9.5" fill="#38588c"/>
<circle cx="570.4" cy="675.2" r="9.5" fill="#32648e"/>
<circle cx="491.5" cy="679.9" r="9.5" fill="#1fa287"/>
<circle cx="384.2" cy="545.0" r="9.5" fill="#6ccd5a"/>
<circle cx="521.7" cy="624.9" r="9.5" fill="#54c568"/>
<circle cx="706.0" cy="643.9" r="9.5" fill="#2c738e"/>
<circle cx="479.0" cy="637.6" r="9.5" fill="#6ccd5a"/>
<circle cx="483.8" cy="607.3" r="9.5" fill="#20a386"/>
<circle cx="425.3" cy="438.4" r="9.5" fill="#7ad151"/>
<circle cx="631.7" cy="669.6" r="9.5" fill="#22a785"/>
<circle cx="602.9" cy="358.3" r="9.5" fill="#bade28"/>
<circle cx="382.0" cy="371.1" r="9.5" fill="#e7e419"/>
<circle cx="488.8" cy="550.1" r="9.5" fill="#fde725"/>
<circle cx="562.6" cy="735.1" r="9.5" fill="#2a768e"/>
<circle cx="522.2" cy="751.8" r="9.5" fill="#28ae80"/>
<circle cx="489.6" cy="406.6" r="9.5" fill="#fde725"/>
<circle cx="517.5" cy="565.1" r="9.5" fill="#b2dd2d"/>
<circle cx="405.0" cy="408.9" r="9.5" fill="#b8de29"/>
<circle cx="780.0" cy="727.6" r="9.5" fill="#3b528b"/>
<circle cx="700.8" cy="497.4" r="9.5" fill="#22a785"/>
<circle cx="379.6" cy="364.7" r="9.5" fill="#f4e61e"/>
<circle cx="442.8" cy="474.1" r="9.5" fill="#9bd93c"/>
<circle cx="693.3" cy="556.2" r="9.5" fill="#2d708e"/>
<circle cx="402.3" cy="526.8" r="9.5" fill="#fde725"/>
<circle cx="570.9" cy="398.9" r="9.5" fill="#32b67a"/>
<circle cx="496.8" cy="516.4" r="9.5" fill="#6ece58"/>
<circle cx="692.1" cy="578.9" r="9.5" fill="#2d718e"/>
<circle cx="711.7" cy="602.2" r="9.5" fill="#1f958b"/>
<circle cx="435.6" cy="352.9" r="9.5" fill="#f4e61e"/>
<circle cx="724.7" cy="545.1" r="9.5" fill="#472a7a"/>
<circle cx="324.0" cy="510.9" r="9.5" fill="#1f9a8a"/>
<circle cx="451.9" cy="572.1" r="9.5" fill="#fde725"/>
<circle cx="553.4" cy="540.8" r="9.5" fill="#63cb5f"/>
<circle cx="605.9" cy="691.2" r="9.5" fill="#228c8d"/>
<circle cx="555.5" cy="726.8" r="9.5" fill="#26ad81"/>
<circle cx="564.8" cy="599.9" r="9.5" fill="#2ab07f"/>
<circle cx="618.3" cy="687.5" r="9.5" fill="#21918c"/>
<circle cx="505.8" cy="612.2" r="9.5" fill="#20928c"/>
<circle cx="314.5" cy="459.8" r="9.5" fill="#b5de2b"/>
<circle cx="846.3" cy="737.2" r="9.5" fill="#3f4788"/>
<circle cx="543.3" cy="551.4" r="9.5" fill="#75d054"/>
<circle cx="603.9" cy="499.1" r="9.5" fill="#8bd646"/>
<circle cx="722.0" cy="695.4" r="9.5" fill="#34618d"/>
<circle cx="808.6" cy="540.1" r="9.5" fill="#37b878"/>
<circle cx="449.5" cy="520.0" r="9.5" fill="#d5e21a"/>
<circle cx="542.3" cy="474.7" r="9.5" fill="#98d83e"/>
<circle cx="377.3" cy="429.5" r="9.5" fill="#e2e418"/>
<circle cx="404.3" cy="546.4" r="9.5" fill="#98d83e"/>
<circle cx="739.9" cy="449.9" r="9.5" fill="#26828e"/>
<circle cx="441.0" cy="468.2" r="9.5" fill="#f8e621"/>
<circle cx="581.8" cy="334.7" r="9.5" fill="#fde725"/>
<circle cx="592.9" cy="579.2" r="9.5" fill="#24868e"/>
<circle cx="586.8" cy="584.8" r="9.5" fill="#6ccd5a"/>
<circle cx="566.3" cy="623.4" r="9.5" fill="#70cf57"/>
<circle cx="436.7" cy="358.0" r="9.5" fill="#fde725"/>
<circle cx="772.2" cy="621.1" r="9.5" fill="#1e9b8a"/>
<circle cx="352.6" cy="545.3" r="9.5" fill="#58c765"/>
<circle cx="431.7" cy="581.5" r="9.5" fill="#a0da39"/>
<circle cx="596.0" cy="440.4" r="9.5" fill="#67cc5c"/>
<circle cx="704.1" cy="485.8" r="9.5" fill="#9bd93c"/>
<circle cx="564.4" cy="741.2" r="9.5" fill="#3e4a89"/>
<circle cx="541.9" cy="743.1" r="9.5" fill="#34608d"/>
<circle cx="696.4" cy="445.6" r="9.5" fill="#67cc5c"/>
<circle cx="651.0" cy="786.1" r="9.5" fill="#31688e"/>
<circle cx="868.9" cy="768.4" r="9.5" fill="#472d7b"/>
<circle cx="528.3" cy="423.2" r="9.5" fill="#b2dd2d"/>
<circle cx="836.7" cy="520.9" r="9.5" fill="#34b679"/>
<circle cx="848.2" cy="687.2" r="9.5" fill="#481d6f"/>
<circle cx="427.4" cy="378.6" r="9.5" fill="#fde725"/>
<circle cx="564.5" cy="780.3" r="9.5" fill="#23888e"/>
<circle cx="781.0" cy="762.5" r="9.5" fill="#424186"/>
<circle cx="812.6" cy="482.1" r="9.5" fill="#5cc863"/>
<circle cx="670.0" cy="515.5" r="9.5" fill="#2d708e"/>
<circle cx="498.9" cy="418.3" r="9.5" fill="#8ed645"/>
<circle cx="636.7" cy="438.1" r="9.5" fill="#70cf57"/>
<circle cx="495.7" cy="521.8" r="9.5" fill="#aadc32"/>
<circle cx="418.0" cy="354.1" r="9.5" fill="#fde725"/>
<circle cx="341.1" cy="571.3" r="9.5" fill="#63cb5f"/>
<circle cx="804.7" cy="718.9" r="9.5" fill="#22a785"/>
<circle cx="716.3" cy="592.3" r="9.5" fill="#70cf57"/>
<circle cx="432.1" cy="384.7" r="9.5" fill="#cae11f"/>
<circle cx="464.2" cy="618.8" r="9.5" fill="#f4e61e"/>
<circle cx="506.9" cy="525.6" r="9.5" fill="#b8de29"/>
<circle cx="588.6" cy="543.0" r="9.5" fill="#2fb47c"/>
<circle cx="727.1" cy="533.1" r="9.5" fill="#7fd34e"/>
<circle cx="608.3" cy="758.5" r="9.5" fill="#46c06f"/>
<circle cx="333.4" cy="603.4" r="9.5" fill="#4cc26c"/>
<circle cx="556.4" cy="384.5" r="9.5" fill="#90d743"/>
<circle cx="732.6" cy="668.5" r="9.5" fill="#46327e"/>
<circle cx="436.1" cy="358.5" r="9.5" fill="#e5e419"/>
<circle cx="803.3" cy="651.6" r="9.5" fill="#228b8d"/>
<circle cx="489.8" cy="548.8" r="9.5" fill="#dfe318"/>
<circle cx="505.2" cy="600.9" r="9.5" fill="#21a685"/>
<circle cx="786.3" cy="746.5" r="9.5" fill="#46337f"/>
<circle cx="522.3" cy="408.7" r="9.5" fill="#d8e219"/>
<circle cx="682.4" cy="508.0" r="9.5" fill="#2ab07f"/>
<circle cx="614.7" cy="774.0" r="9.5" fill="#482878"/>
<circle cx="617.9" cy="474.1" r="9.5" fill="#6ccd5a"/>
<circle cx="873.5" cy="679.4" r="9.5" fill="#414487"/>
<circle cx="552.7" cy="752.9" r="9.5" fill="#46327e"/>
<circle cx="728.5" cy="521.9" r="9.5" fill="#2ab07f"/>
<circle cx="618.6" cy="417.5" r="9.5" fill="#a5db36"/>
<circle cx="773.7" cy="567.0" r="9.5" fill="#27ad81"/>
<circle cx="538.4" cy="632.4" r="9.5" fill="#56c667"/>
<circle cx="489.0" cy="703.2" r="9.5" fill="#3f4889"/>
<circle cx="548.9" cy="471.9" r="9.5" fill="#b8de29"/>
<circle cx="637.6" cy="715.7" r="9.5" fill="#1e9b8a"/>
<circle cx="459.6" cy="608.5" r="9.5" fill="#addc30"/>
<circle cx="655.3" cy="519.5" r="9.5" fill="#5ac864"/>
<circle cx="606.7" cy="741.8" r="9.5" fill="#2b748e"/>
<circle cx="676.7" cy="558.0" r="9.5" fill="#1f998a"/>
<circle cx="747.2" cy="680.3" r="9.5" fill="#73d056"/>
<circle cx="856.3" cy="717.9" r="9.5" fill="#3e4c8a"/>
<circle cx="683.5" cy="540.7" r="9.5" fill="#1f998a"/>
<circle cx="524.6" cy="394.9" r="9.5" fill="#8ed645"/>
<circle cx="743.6" cy="503.7" r="9.5" fill="#238a8d"/>
<circle cx="571.9" cy="344.6" r="9.5" fill="#98d83e"/>
<circle cx="752.8" cy="793.2" r="9.5" fill="#440154"/>
<circle cx="574.3" cy="669.9" r="9.5" fill="#2b758e"/>
<circle cx="798.4" cy="605.5" r="9.5" fill="#31668e"/>
<circle cx="463.7" cy="698.0" r="9.5" fill="#29af7f"/>
<circle cx="587.5" cy="526.2" r="9.5" fill="#7cd250"/>
<circle cx="471.2" cy="336.8" r="9.5" fill="#60ca60"/>
<circle cx="438.0" cy="494.7" r="9.5" fill="#81d34d"/>
<circle cx="679.5" cy="419.9" r="9.5" fill="#9bd93c"/>
<circle cx="581.7" cy="487.6" r="9.5" fill="#56c667"/>
<circle cx="853.4" cy="705.6" r="9.5" fill="#37b878"/>
<circle cx="511.5" cy="756.6" r="9.5" fill="#228d8d"/>
<circle cx="560.4" cy="577.1" r="9.5" fill="#6ece58"/>
<circle cx="391.7" cy="651.7" r="9.5" fill="#b2dd2d"/>
<circle cx="576.1" cy="582.6" r="9.5" fill="#20a486"/>
<circle cx="717.8" cy="650.1" r="9.5" fill="#2fb47c"/>
<circle cx="678.7" cy="700.8" r="9.5" fill="#24868e"/>
<circle cx="844.3" cy="632.9" r="9.5" fill="#365d8d"/>
<circle cx="559.9" cy="335.2" r="9.5" fill="#9bd93c"/>
<circle cx="782.3" cy="679.5" r="9.5" fill="#1f988b"/>
<circle cx="611.5" cy="713.5" r="9.5" fill="#218e8d"/>
<circle cx="599.0" cy="446.8" r="9.5" fill="#63cb5f"/>
<circle cx="442.5" cy="670.6" r="9.5" fill="#73d056"/>
<circle cx="641.4" cy="478.1" r="9.5" fill="#3fbc73"/>
<circle cx="426.3" cy="522.7" r="9.5" fill="#90d743"/>
<circle cx="634.9" cy="706.3" r="9.5" fill="#3d4d8a"/>
<circle cx="772.1" cy="600.8" r="9.5" fill="#238a8d"/>
<circle cx="520.9" cy="367.3" r="9.5" fill="#bddf26"/>
<circle cx="582.1" cy="503.2" r="9.5" fill="#f4e61e"/>
<circle cx="412.8" cy="382.0" r="9.5" fill="#b8de29"/>
<circle cx="533.4" cy="431.7" r="9.5" fill="#6ece58"/>
<circle cx="427.8" cy="401.9" r="9.5" fill="#c2df23"/>
<circle cx="395.8" cy="499.8" r="9.5" fill="#c8e020"/>
<circle cx="477.7" cy="308.6" r="9.5" fill="#f8e621"/>
<circle cx="686.2" cy="395.0" r="9.5" fill="#a0da39"/>
<circle cx="393.6" cy="501.1" r="9.5" fill="#b5de2b"/>
<circle cx="353.8" cy="497.7" r="9.5" fill="#fde725"/>
<circle cx="450.3" cy="607.5" r="9.5" fill="#34b679"/>
<circle cx="352.8" cy="599.3" r="9.5" fill="#77d153"/>
<circle cx="347.5" cy="634.9" r="9.5" fill="#2fb47c"/>
<circle cx="746.6" cy="628.4" r="9.5" fill="#423f85"/>
<circle cx="525.6" cy="323.0" r="9.5" fill="#d5e21a"/>
<circle cx="411.3" cy="517.3" r="9.5" fill="#fde725"/>
<circle cx="462.3" cy="651.9" r="9.5" fill="#2d718e"/>
<circle cx="348.2" cy="446.0" r="9.5" fill="#73d056"/>
<circle cx="582.2" cy="572.7" r="9.5" fill="#2db27d"/>
<circle cx="811.2" cy="689.3" r="9.5" fill="#1fa187"/>
<circle cx="749.0" cy="499.8" r="9.5" fill="#2a778e"/>
<circle cx="597.2" cy="543.6" r="9.5" fill="#2cb17e"/>
<circle cx="357.0" cy="385.1" r="9.5" fill="#d0e11c"/>
<circle cx="814.9" cy="651.4" r="9.5" fill="#1f9e89"/>
<circle cx="488.2" cy="593.5" r="9.5" fill="#5ec962"/>
<circle cx="592.7" cy="721.4" r="9.5" fill="#414487"/>
<circle cx="575.8" cy="759.3" r="9.5" fill="#238a8d"/>
<circle cx="416.7" cy="429.8" r="9.5" fill="#d2e21b"/>
<circle cx="393.5" cy="356.4" r="9.5" fill="#cae11f"/>
<circle cx="573.0" cy="496.5" r="9.5" fill="#56c667"/>
<circle cx="375.2" cy="499.6" r="9.5" fill="#69cd5b"/>
<circle cx="585.3" cy="799.1" r="9.5" fill="#38588c"/>
<circle cx="443.2" cy="530.7" r="9.5" fill="#90d743"/>
<circle cx="717.7" cy="602.0" r="9.5" fill="#25838e"/>
<circle cx="753.8" cy="504.5" r="9.5" fill="#54c568"/>
<circle cx="516.3" cy="734.1" r="9.5" fill="#35b779"/>
<circle cx="731.8" cy="716.4" r="9.5" fill="#1fa287"/>
<circle cx="493.9" cy="299.9" r="9.5" fill="#cde11d"/>
<circle cx="694.6" cy="492.5" r="9.5" fill="#3dbc74"/>
<circle cx="359.3" cy="482.7" r="9.5" fill="#1f968b"/>
<circle cx="370.4" cy="466.3" r="9.5" fill="#eae51a"/>
<circle cx="433.2" cy="527.2" r="9.5" fill="#2ab07f"/>
<circle cx="759.6" cy="776.8" r="9.5" fill="#46307e"/>
<circle cx="498.1" cy="435.7" r="9.5" fill="#d2e21b"/>
<circle cx="585.7" cy="545.7" r="9.5" fill="#8ed645"/>
<circle cx="508.6" cy="322.0" r="9.5" fill="#d5e21a"/>
<circle cx="676.0" cy="709.8" r="9.5" fill="#24878e"/>
<circle cx="766.4" cy="555.5" r="9.5" fill="#1e9c89"/>
<circle cx="510.0" cy="468.3" r="9.5" fill="#9dd93b"/>
<circle cx="869.4" cy="697.5" r="9.5" fill="#21a585"/>
<circle cx="467.3" cy="325.8" r="9.5" fill="#fde725"/>
<circle cx="378.3" cy="348.2" r="9.5" fill="#c5e021"/>
<circle cx="453.9" cy="563.2" r="9.5" fill="#fde725"/>
<circle cx="640.7" cy="738.2" r="9.5" fill="#460b5e"/>
<circle cx="484.8" cy="630.4" r="9.5" fill="#3d4d8a"/>
<circle cx="583.9" cy="672.8" r="9.5" fill="#26828e"/>
<circle cx="659.3" cy="683.8" r="9.5" fill="#32658e"/>
<circle cx="814.6" cy="775.7" r="9.5" fill="#365c8d"/>
<circle cx="760.5" cy="696.3" r="9.5" fill="#297a8e"/>
<circle cx="831.5" cy="693.9" r="9.5" fill="#2f6c8e"/>
<circle cx="320.8" cy="583.4" r="9.5" fill="#5ec962"/>
<circle cx="601.9" cy="728.3" r="9.5" fill="#48186a"/>
<circle cx="879.1" cy="629.5" r="9.5" fill="#218f8d"/>
<circle cx="737.5" cy="472.4" r="9.5" fill="#1f9a8a"/>
<circle cx="776.0" cy="628.1" r="9.5" fill="#3f4788"/>
<circle cx="654.5" cy="746.2" r="9.5" fill="#39568c"/>
<circle cx="725.2" cy="497.8" r="9.5" fill="#2cb17e"/>
<circle cx="842.6" cy="656.4" r="9.5" fill="#1e9b8a"/>
<circle cx="462.1" cy="363.4" r="9.5" fill="#f4e61e"/>
<circle cx="350.3" cy="397.3" r="9.5" fill="#fde725"/>
<circle cx="400.1" cy="364.3" r="9.5" fill="#d0e11c"/>
<circle cx="401.3" cy="466.8" r="9.5" fill="#84d44b"/>
<circle cx="818.3" cy="713.6" r="9.5" fill="#2eb37c"/>
<circle cx="748.5" cy="675.9" r="9.5" fill="#2d708e"/>
<circle cx="664.9" cy="461.8" r="9.5" fill="#44bf70"/>
<circle cx="445.8" cy="556.2" r="9.5" fill="#b5de2b"/>
<circle cx="615.7" cy="758.5" r="9.5" fill="#3d4e8a"/>
<circle cx="787.7" cy="794.9" r="9.5" fill="#2b748e"/>
<circle cx="770.7" cy="507.2" r="9.5" fill="#365c8d"/>
<circle cx="632.4" cy="398.1" r="9.5" fill="#73d056"/>
<circle cx="817.7" cy="585.3" r="9.5" fill="#1e9c89"/>
<circle cx="463.9" cy="670.4" r="9.5" fill="#20928c"/>
<circle cx="547.0" cy="555.5" r="9.5" fill="#63cb5f"/>
<circle cx="599.5" cy="632.3" r="9.5" fill="#20928c"/>
<circle cx="689.2" cy="513.6" r="9.5" fill="#84d44b"/>
<circle cx="446.2" cy="769.1" r="9.5" fill="#287c8e"/>
<circle cx="330.3" cy="445.4" r="9.5" fill="#eae51a"/>
<circle cx="574.2" cy="748.2" r="9.5" fill="#440154"/>
<circle cx="541.0" cy="552.0" r="9.5" fill="#9bd93c"/>
<circle cx="366.6" cy="431.9" r="9.5" fill="#bade28"/>
<circle cx="390.4" cy="605.9" r="9.5" fill="#1f9a8a"/>
<circle cx="668.0" cy="696.4" r="9.5" fill="#46337f"/>
<circle cx="667.4" cy="595.4" r="9.5" fill="#21a585"/>
<circle cx="812.3" cy="682.4" r="9.5" fill="#297a8e"/>
<circle cx="448.9" cy="520.1" r="9.5" fill="#7fd34e"/>
<circle cx="525.0" cy="746.0" r="9.5" fill="#25838e"/>
<circle cx="439.3" cy="347.9" r="9.5" fill="#cae11f"/>
<circle cx="392.0" cy="569.4" r="9.5" fill="#b2dd2d"/>
<circle cx="758.1" cy="577.2" r="9.5" fill="#297b8e"/>
<circle cx="421.1" cy="582.6" r="9.5" fill="#c2df23"/>
<circle cx="443.1" cy="405.6" r="9.5" fill="#4ac16d"/>
<circle cx="732.7" cy="585.3" r="9.5" fill="#2fb47c"/>
<circle cx="466.4" cy="431.2" r="9.5" fill="#cae11f"/>
<circle cx="709.7" cy="738.5" r="9.5" fill="#46307e"/>
<circle cx="503.3" cy="502.2" r="9.5" fill="#8bd646"/>
<circle cx="572.8" cy="626.7" r="9.5" fill="#b5de2b"/>
<circle cx="455.8" cy="556.8" r="9.5" fill="#5ec962"/>
<circle cx="762.0" cy="725.7" r="9.5" fill="#2e6f8e"/>
<circle cx="377.2" cy="640.1" r="9.5" fill="#29af7f"/>
<circle cx="654.2" cy="542.1" r="9.5" fill="#9dd93b"/>
<circle cx="825.7" cy="658.2" r="9.5" fill="#482475"/>
<circle cx="538.6" cy="720.7" r="9.5" fill="#31b57b"/>
<circle cx="445.6" cy="637.1" r="9.5" fill="#20938c"/>
<circle cx="526.5" cy="556.6" r="9.5" fill="#c0df25"/>
<circle cx="431.8" cy="561.9" r="9.5" fill="#eae51a"/>
<circle cx="857.9" cy="720.0" r="9.5" fill="#3b528b"/>
<circle cx="520.3" cy="559.1" r="9.5" fill="#98d83e"/>
<circle cx="636.5" cy="749.2" r="9.5" fill="#470e61"/>
<circle cx="419.9" cy="374.3" r="9.5" fill="#67cc5c"/>
<circle cx="448.8" cy="696.5" r="9.5" fill="#482173"/>
<circle cx="344.1" cy="434.9" r="9.5" fill="#dde318"/>
<circle cx="390.7" cy="593.0" r="9.5" fill="#8ed645"/>
<circle cx="626.0" cy="421.0" r="9.5" fill="#5ac864"/>
<circle cx="381.4" cy="579.6" r="9.5" fill="#60ca60"/>
<circle cx="577.2" cy="702.8" r="9.5" fill="#218f8d"/>
<circle cx="720.2" cy="784.3" r="9.5" fill="#355e8d"/>
<circle cx="637.7" cy="646.8" r="9.5" fill="#23898e"/>
<circle cx="700.6" cy="566.2" r="9.5" fill="#297a8e"/>
<circle cx="815.3" cy="780.6" r="9.5" fill="#287d8e"/>
<circle cx="535.4" cy="684.3" r="9.5" fill="#228d8d"/>
<circle cx="834.0" cy="699.1" r="9.5" fill="#39568c"/>
<circle cx="612.4" cy="456.6" r="9.5" fill="#4cc26c"/>
<circle cx="389.6" cy="661.0" r="9.5" fill="#fde725"/>
<circle cx="493.0" cy="425.1" r="9.5" fill="#93d741"/>
<circle cx="603.2" cy="369.3" r="9.5" fill="#c0df25"/>
<circle cx="403.2" cy="587.5" r="9.5" fill="#37b878"/>
<circle cx="661.9" cy="598.4" r="9.5" fill="#21a685"/>
<circle cx="530.3" cy="602.7" r="9.5" fill="#7cd250"/>
<circle cx="733.9" cy="784.2" r="9.5" fill="#440154"/>
<circle cx="438.6" cy="646.2" r="9.5" fill="#73d056"/>
<circle cx="549.4" cy="740.1" r="9.5" fill="#21a685"/>
<circle cx="599.5" cy="575.7" r="9.5" fill="#28ae80"/>
<circle cx="678.9" cy="508.1" r="9.5" fill="#1f9e89"/>
<circle cx="666.2" cy="698.3" r="9.5" fill="#1f998a"/>
<circle cx="441.8" cy="583.2" r="9.5" fill="#6ccd5a"/>
<circle cx="820.4" cy="577.8" r="9.5" fill="#37b878"/>
<circle cx="662.3" cy="629.0" r="9.5" fill="#414487"/>
<circle cx="793.6" cy="581.6" r="9.5" fill="#5ec962"/>
<circle cx="559.7" cy="427.2" r="9.5" fill="#89d548"/>
<circle cx="701.8" cy="682.3" r="9.5" fill="#34b679"/>
<circle cx="416.3" cy="441.6" r="9.5" fill="#b8de29"/>
<circle cx="729.5" cy="485.1" r="9.5" fill="#37b878"/>
<circle cx="831.5" cy="672.2" r="9.5" fill="#404688"/>
<circle cx="699.9" cy="441.5" r="9.5" fill="#a5db36"/>
<circle cx="716.6" cy="485.1" r="9.5" fill="#73d056"/>
<circle cx="606.8" cy="480.7" r="9.5" fill="#fde725"/>
<circle cx="648.9" cy="665.8" r="9.5" fill="#24aa83"/>
<circle cx="424.5" cy="632.9" r="9.5" fill="#95d840"/>
<circle cx="671.4" cy="618.6" r="9.5" fill="#1fa088"/>
<circle cx="407.0" cy="477.4" r="9.5" fill="#fde725"/>
<circle cx="545.0" cy="617.9" r="9.5" fill="#20a486"/>
<circle cx="393.0" cy="342.1" r="9.5" fill="#c8e020"/>
<circle cx="602.9" cy="780.9" r="9.5" fill="#482878"/>
<circle cx="541.5" cy="330.5" r="9.5" fill="#89d548"/>
<circle cx="627.0" cy="386.0" r="9.5" fill="#a8db34"/>
<circle cx="845.3" cy="533.8" r="9.5" fill="#26828e"/>
<circle cx="518.9" cy="799.3" r="9.5" fill="#424086"/>
<circle cx="546.3" cy="359.2" r="9.5" fill="#fde725"/>
<circle cx="703.0" cy="622.5" r="9.5" fill="#38588c"/>
<circle cx="674.2" cy="662.7" r="9.5" fill="#24aa83"/>
<circle cx="522.0" cy="373.7" r="9.5" fill="#c8e020"/>
<circle cx="539.1" cy="608.9" r="9.5" fill="#24878e"/>
<circle cx="427.6" cy="434.9" r="9.5" fill="#ece51b"/>
<circle cx="661.1" cy="629.3" r="9.5" fill="#2e6f8e"/>
<circle cx="771.3" cy="648.5" r="9.5" fill="#1f998a"/>
<circle cx="666.1" cy="518.2" r="9.5" fill="#39568c"/>
<circle cx="684.2" cy="719.7" r="9.5" fill="#3e4a89"/>
<circle cx="435.5" cy="689.9" r="9.5" fill="#23a983"/>
<circle cx="488.6" cy="464.5" r="9.5" fill="#75d054"/>
<circle cx="420.7" cy="645.6" r="9.5" fill="#2b758e"/>
<circle cx="561.6" cy="405.3" r="9.5" fill="#75d054"/>
<circle cx="625.1" cy="514.9" r="9.5" fill="#29af7f"/>
<circle cx="578.5" cy="623.9" r="9.5" fill="#32b67a"/>
<circle cx="448.5" cy="758.4" r="9.5" fill="#20928c"/>
<circle cx="579.9" cy="712.0" r="9.5" fill="#2b758e"/>
<circle cx="513.3" cy="297.4" r="9.5" fill="#b5de2b"/>
<circle cx="487.1" cy="450.4" r="9.5" fill="#fde725"/>
<circle cx="477.9" cy="489.2" r="9.5" fill="#dae319"/>
<circle cx="655.3" cy="517.4" r="9.5" fill="#32b67a"/>
<circle cx="569.2" cy="457.8" r="9.5" fill="#52c569"/>
<circle cx="899.2" cy="690.2" r="9.5" fill="#26828e"/>
<circle cx="400.6" cy="333.9" r="9.5" fill="#fde725"/>
<circle cx="610.5" cy="744.9" r="9.5" fill="#2f6c8e"/>
<circle cx="495.7" cy="604.8" r="9.5" fill="#7fd34e"/>
<circle cx="648.5" cy="772.6" r="9.5" fill="#27808e"/>
<circle cx="470.1" cy="437.7" r="9.5" fill="#addc30"/>
<circle cx="475.3" cy="435.2" r="9.5" fill="#38b977"/>
<circle cx="723.4" cy="505.4" r="9.5" fill="#2d708e"/>
<circle cx="703.2" cy="623.4" r="9.5" fill="#37b878"/>
<circle cx="413.9" cy="510.4" r="9.5" fill="#2db27d"/>
<circle cx="401.8" cy="586.2" r="9.5" fill="#ece51b"/>
<circle cx="444.3" cy="478.9" r="9.5" fill="#e5e419"/>
<circle cx="551.6" cy="732.8" r="9.5" fill="#238a8d"/>
<circle cx="695.6" cy="540.9" r="9.5" fill="#287d8e"/>
<circle cx="560.4" cy="443.6" r="9.5" fill="#bade28"/>
<circle cx="786.1" cy="574.3" r="9.5" fill="#2c728e"/>
<circle cx="557.1" cy="360.4" r="9.5" fill="#d8e219"/>
<circle cx="626.4" cy="522.7" r="9.5" fill="#4ac16d"/>
<circle cx="726.5" cy="714.9" r="9.5" fill="#218e8d"/>
<circle cx="809.6" cy="561.4" r="9.5" fill="#fbe723"/>
<circle cx="661.0" cy="738.2" r="9.5" fill="#228d8d"/>
<circle cx="730.0" cy="585.4" r="9.5" fill="#414287"/>
<circle cx="868.5" cy="649.6" r="9.5" fill="#3d4e8a"/>
<circle cx="575.4" cy="711.2" r="9.5" fill="#3c508b"/>
<circle cx="539.2" cy="687.0" r="9.5" fill="#30698e"/>
<circle cx="545.4" cy="469.1" r="9.5" fill="#a8db34"/>
<circle cx="455.0" cy="636.5" r="9.5" fill="#67cc5c"/>
<circle cx="415.0" cy="697.2" r="9.5" fill="#38b977"/>
<circle cx="382.4" cy="613.8" r="9.5" fill="#d0e11c"/>
<circle cx="342.1" cy="494.5" r="9.5" fill="#bddf26"/>
<circle cx="471.7" cy="450.6" r="9.5" fill="#b2dd2d"/>
<circle cx="405.4" cy="387.3" r="9.5" fill="#fde725"/>
<circle cx="691.8" cy="521.3" r="9.5" fill="#23a983"/>
<circle cx="480.6" cy="376.3" r="9.5" fill="#c2df23"/>
<circle cx="571.8" cy="488.7" r="9.5" fill="#b0dd2f"/>
<circle cx="588.3" cy="634.3" r="9.5" fill="#4cc26c"/>
<circle cx="344.9" cy="523.0" r="9.5" fill="#8bd646"/>
<circle cx="756.0" cy="738.8" r="9.5" fill="#2c738e"/>
<circle cx="698.8" cy="489.1" r="9.5" fill="#75d054"/>
<circle cx="463.5" cy="525.0" r="9.5" fill="#fde725"/>
<circle cx="822.5" cy="632.0" r="9.5" fill="#3d4e8a"/>
<circle cx="649.5" cy="509.2" r="9.5" fill="#1fa287"/>
<circle cx="536.3" cy="512.8" r="9.5" fill="#b0dd2f"/>
<circle cx="449.5" cy="537.6" r="9.5" fill="#dae319"/>
<circle cx="430.6" cy="387.7" r="9.5" fill="#98d83e"/>
<circle cx="560.8" cy="625.7" r="9.5" fill="#77d153"/>
<circle cx="834.8" cy="599.7" r="9.5" fill="#238a8d"/>
<circle cx="522.4" cy="448.6" r="9.5" fill="#fde725"/>
<circle cx="561.0" cy="740.2" r="9.5" fill="#31678e"/>
<circle cx="444.6" cy="563.4" r="9.5" fill="#54c568"/>
<circle cx="606.4" cy="742.1" r="9.5" fill="#424086"/>
<circle cx="519.1" cy="556.7" r="9.5" fill="#4cc26c"/>
<circle cx="646.1" cy="419.1" r="9.5" fill="#3fbc73"/>
<circle cx="564.4" cy="521.4" r="9.5" fill="#58c765"/>
<circle cx="771.4" cy="451.0" r="9.5" fill="#3aba76"/>
<circle cx="465.7" cy="619.8" r="9.5" fill="#56c667"/>
<circle cx="661.7" cy="669.4" r="9.5" fill="#42be71"/>
<circle cx="532.1" cy="353.0" r="9.5" fill="#fde725"/>
<circle cx="547.3" cy="443.8" r="9.5" fill="#8bd646"/>
<circle cx="481.1" cy="601.7" r="9.5" fill="#355f8d"/>
<circle cx="519.9" cy="399.9" r="9.5" fill="#6ccd5a"/>
<circle cx="406.1" cy="533.2" r="9.5" fill="#6ece58"/>
<circle cx="591.4" cy="625.1" r="9.5" fill="#56c667"/>
<circle cx="678.7" cy="526.3" r="9.5" fill="#1f958b"/>
<circle cx="452.8" cy="626.3" r="9.5" fill="#58c765"/>
<circle cx="474.1" cy="319.9" r="9.5" fill="#6ccd5a"/>
<circle cx="790.0" cy="754.3" r="9.5" fill="#3d4e8a"/>
<circle cx="717.7" cy="464.0" r="9.5" fill="#1f9f88"/>
<circle cx="464.9" cy="557.6" r="9.5" fill="#efe51c"/>
<circle cx="598.4" cy="646.9" r="9.5" fill="#b5de2b"/>
<circle cx="805.9" cy="625.3" r="9.5" fill="#7cd250"/>
<circle cx="516.5" cy="648.7" r="9.5" fill="#1f9e89"/>
<circle cx="708.2" cy="636.0" r="9.5" fill="#2eb37c"/>
<circle cx="535.2" cy="734.6" r="9.5" fill="#453882"/>
<circle cx="542.6" cy="439.6" r="9.5" fill="#fde725"/>
<circle cx="595.3" cy="516.1" r="9.5" fill="#34b679"/>
<circle cx="847.0" cy="688.4" r="9.5" fill="#32658e"/>
<circle cx="704.5" cy="694.0" r="9.5" fill="#1f998a"/>
<circle cx="572.8" cy="632.7" r="9.5" fill="#d8e219"/>
<circle cx="507.3" cy="564.7" r="9.5" fill="#20938c"/>
<circle cx="322.0" cy="455.8" r="9.5" fill="#d0e11c"/>
<circle cx="764.1" cy="664.4" r="9.5" fill="#38588c"/>
<circle cx="383.9" cy="676.9" r="9.5" fill="#20928c"/>
<circle cx="630.0" cy="762.2" r="9.5" fill="#365d8d"/>
<circle cx="539.9" cy="403.7" r="9.5" fill="#fde725"/>
<circle cx="533.0" cy="551.2" r="9.5" fill="#90d743"/>
<circle cx="706.2" cy="712.6" r="9.5" fill="#2e6e8e"/>
<circle cx="343.1" cy="540.3" r="9.5" fill="#48c16e"/>
<circle cx="744.5" cy="628.4" r="9.5" fill="#1fa287"/>
<circle cx="615.4" cy="571.0" r="9.5" fill="#b2dd2d"/>
<circle cx="743.9" cy="496.8" r="9.5" fill="#aadc32"/>
<circle cx="407.1" cy="506.1" r="9.5" fill="#bddf26"/>
<circle cx="610.0" cy="603.2" r="9.5" fill="#46c06f"/>
<circle cx="729.6" cy="763.9" r="9.5" fill="#3d4d8a"/>
<circle cx="593.4" cy="463.8" r="9.5" fill="#58c765"/>
<circle cx="792.2" cy="612.2" r="9.5" fill="#1f9a8a"/>
<circle cx="357.3" cy="436.3" r="9.5" fill="#fde725"/>
<circle cx="613.2" cy="500.3" r="9.5" fill="#27808e"/>
<circle cx="337.0" cy="431.0" r="9.5" fill="#a0da39"/>
<circle cx="700.3" cy="642.8" r="9.5" fill="#23888e"/>
<circle cx="691.1" cy="616.1" r="9.5" fill="#2a778e"/>
<circle cx="855.3" cy="717.9" r="9.5" fill="#218f8d"/>
<circle cx="440.5" cy="396.8" r="9.5" fill="#9dd93b"/>
<circle cx="638.9" cy="629.0" r="9.5" fill="#277f8e"/>
<circle cx="735.4" cy="630.6" r="9.5" fill="#228b8d"/>
<circle cx="473.6" cy="507.8" r="9.5" fill="#bade28"/>
<circle cx="615.3" cy="590.4" r="9.5" fill="#40bd72"/>
<circle cx="675.4" cy="562.2" r="9.5" fill="#2db27d"/>
<circle cx="407.9" cy="522.4" r="9.5" fill="#ece51b"/>
<circle cx="429.5" cy="425.7" r="9.5" fill="#7cd250"/>
<circle cx="655.4" cy="491.6" r="9.5" fill="#40bd72"/>
<circle cx="524.6" cy="501.6" r="9.5" fill="#306a8e"/>
<circle cx="518.1" cy="675.1" r="9.5" fill="#1e9c89"/>
<circle cx="735.9" cy="456.4" r="9.5" fill="#1f9a8a"/>
<circle cx="471.9" cy="652.0" r="9.5" fill="#297b8e"/>
<circle cx="356.5" cy="390.8" r="9.5" fill="#6ece58"/>
<circle cx="559.1" cy="551.5" r="9.5" fill="#b8de29"/>
<circle cx="576.3" cy="363.7" r="9.5" fill="#7cd250"/>
<circle cx="721.4" cy="569.0" r="9.5" fill="#52c569"/>
<circle cx="454.4" cy="321.1" r="9.5" fill="#5cc863"/>
<circle cx="385.5" cy="361.4" r="9.5" fill="#48c16e"/>
<circle cx="561.7" cy="612.2" r="9.5" fill="#73d056"/>
<circle cx="591.2" cy="685.4" r="9.5" fill="#277f8e"/>
<circle cx="349.4" cy="423.7" r="9.5" fill="#fde725"/>
<circle cx="770.8" cy="593.0" r="9.5" fill="#23898e"/>
<circle cx="611.4" cy="541.3" r="9.5" fill="#67cc5c"/>
<circle cx="623.6" cy="656.5" r="9.5" fill="#482475"/>
<circle cx="551.0" cy="450.5" r="9.5" fill="#46c06f"/>
<circle cx="654.2" cy="539.1" r="9.5" fill="#25ac82"/>
<circle cx="459.0" cy="626.4" r="9.5" fill="#1fa187"/>
<circle cx="532.1" cy="348.8" r="9.5" fill="#a5db36"/>
<circle cx="628.0" cy="406.6" r="9.5" fill="#d2e21b"/>
<circle cx="351.0" cy="375.5" r="9.5" fill="#70cf57"/>
<circle cx="714.9" cy="617.3" r="9.5" fill="#31668e"/>
<circle cx="781.2" cy="623.9" r="9.5" fill="#34618d"/>
<circle cx="581.7" cy="431.2" r="9.5" fill="#addc30"/>
<circle cx="806.3" cy="535.0" r="9.5" fill="#38598c"/>
<circle cx="384.3" cy="459.6" r="9.5" fill="#98d83e"/>
<circle cx="588.9" cy="358.0" r="9.5" fill="#3fbc73"/>
<circle cx="631.7" cy="768.1" r="9.5" fill="#3c4f8a"/>
<circle cx="547.3" cy="754.8" r="9.5" fill="#472d7b"/>
<circle cx="752.4" cy="653.3" r="9.5" fill="#1f958b"/>
<circle cx="475.4" cy="537.1" r="9.5" fill="#a0da39"/>
<circle cx="553.3" cy="488.7" r="9.5" fill="#fde725"/>
<circle cx="740.6" cy="728.9" r="9.5" fill="#30698e"/>
<circle cx="570.4" cy="502.2" r="9.5" fill="#dde318"/>
<circle cx="621.0" cy="731.3" r="9.5" fill="#2f6b8e"/>
<circle cx="447.7" cy="311.5" r="9.5" fill="#f6e620"/>
<circle cx="600.2" cy="787.7" r="9.5" fill="#238a8d"/>
<circle cx="387.8" cy="529.7" r="9.5" fill="#c5e021"/>
<circle cx="684.2" cy="727.3" r="9.5" fill="#228d8d"/>
<circle cx="556.1" cy="504.3" r="9.5" fill="#dfe318"/>
<circle cx="831.0" cy="582.3" r="9.5" fill="#460b5e"/>
<circle cx="512.2" cy="411.3" r="9.5" fill="#fde725"/>
<circle cx="547.1" cy="576.9" r="9.5" fill="#1f9e89"/>
<circle cx="442.5" cy="608.5" r="9.5" fill="#20a386"/>
<circle cx="523.2" cy="745.3" r="9.5" fill="#3d4d8a"/>
<circle cx="488.1" cy="406.8" r="9.5" fill="#eae51a"/>
<circle cx="510.7" cy="350.4" r="9.5" fill="#fde725"/>
<circle cx="410.6" cy="562.9" r="9.5" fill="#f4e61e"/>
<circle cx="453.7" cy="685.7" r="9.5" fill="#453781"/>
<circle cx="488.5" cy="540.5" r="9.5" fill="#f4e61e"/>
<circle cx="796.4" cy="709.3" r="9.5" fill="#228d8d"/>
<circle cx="812.3" cy="498.7" r="9.5" fill="#24aa83"/>
<circle cx="545.3" cy="329.4" r="9.5" fill="#8ed645"/>
<circle cx="596.6" cy="494.6" r="9.5" fill="#cde11d"/>
<circle cx="401.6" cy="538.4" r="9.5" fill="#67cc5c"/>
<circle cx="397.6" cy="420.5" r="9.5" fill="#fde725"/>
<circle cx="699.2" cy="565.7" r="9.5" fill="#3f4788"/>
<circle cx="687.8" cy="544.7" r="9.5" fill="#277e8e"/>
<circle cx="785.1" cy="565.5" r="9.5" fill="#25838e"/>
<circle cx="588.1" cy="382.1" r="9.5" fill="#86d549"/>
<circle cx="711.2" cy="512.8" r="9.5" fill="#63cb5f"/>
<circle cx="449.7" cy="573.9" r="9.5" fill="#f8e621"/>
<circle cx="432.6" cy="327.8" r="9.5" fill="#c8e020"/>
<circle cx="797.3" cy="627.8" r="9.5" fill="#48c16e"/>
<circle cx="832.9" cy="754.9" r="9.5" fill="#3c4f8a"/>
<circle cx="544.6" cy="527.0" r="9.5" fill="#50c46a"/>
<circle cx="837.2" cy="565.2" r="9.5" fill="#3e4989"/>
<circle cx="413.5" cy="546.7" r="9.5" fill="#54c568"/>
<circle cx="629.1" cy="471.5" r="9.5" fill="#60ca60"/>
<circle cx="705.3" cy="670.7" r="9.5" fill="#2a778e"/>
<circle cx="703.3" cy="755.0" r="9.5" fill="#3b528b"/>
<circle cx="693.3" cy="675.2" r="9.5" fill="#1fa287"/>
<circle cx="382.2" cy="601.6" r="9.5" fill="#6ece58"/>
<circle cx="600.9" cy="495.4" r="9.5" fill="#b8de29"/>
<circle cx="682.8" cy="624.0" r="9.5" fill="#287d8e"/>
<circle cx="557.4" cy="506.5" r="9.5" fill="#c5e021"/>
<circle cx="485.6" cy="410.0" r="9.5" fill="#70cf57"/>
<circle cx="578.2" cy="610.9" r="9.5" fill="#24878e"/>
<circle cx="393.2" cy="638.8" r="9.5" fill="#73d056"/>
<circle cx="573.4" cy="680.5" r="9.5" fill="#440154"/>
<circle cx="584.5" cy="649.3" r="9.5" fill="#1e9b8a"/>
<circle cx="470.1" cy="671.1" r="9.5" fill="#2a768e"/>
<circle cx="574.9" cy="448.9" r="9.5" fill="#1f978b"/>
<circle cx="498.2" cy="714.9" r="9.5" fill="#414287"/>
<circle cx="731.5" cy="704.6" r="9.5" fill="#471164"/>
<circle cx="524.0" cy="423.3" r="9.5" fill="#addc30"/>
<circle cx="436.5" cy="465.8" r="9.5" fill="#bade28"/>
<circle cx="796.2" cy="712.1" r="9.5" fill="#2b758e"/>
<circle cx="588.3" cy="444.0" r="9.5" fill="#67cc5c"/>
<circle cx="482.2" cy="683.5" r="9.5" fill="#42be71"/>
<circle cx="548.4" cy="463.0" r="9.5" fill="#42be71"/>
<circle cx="528.1" cy="520.6" r="9.5" fill="#dae319"/>
<circle cx="545.1" cy="429.4" r="9.5" fill="#fde725"/>
<circle cx="475.8" cy="564.9" r="9.5" fill="#44bf70"/>
<circle cx="386.1" cy="612.1" r="9.5" fill="#22a884"/>
<circle cx="507.9" cy="415.9" r="9.5" fill="#bade28"/>
<circle cx="385.3" cy="661.7" r="9.5" fill="#5cc863"/>
<circle cx="490.5" cy="795.2" r="9.5" fill="#3dbc74"/>
<circle cx="365.7" cy="504.9" r="9.5" fill="#42be71"/>
<circle cx="641.8" cy="766.2" r="9.5" fill="#218e8d"/>
<circle cx="489.7" cy="429.7" r="9.5" fill="#addc30"/>
<circle cx="555.7" cy="703.2" r="9.5" fill="#1f948c"/>
<circle cx="342.5" cy="579.6" r="9.5" fill="#3aba76"/>
<circle cx="605.3" cy="401.3" r="9.5" fill="#c2df23"/>
<circle cx="676.1" cy="722.2" r="9.5" fill="#424086"/>
<circle cx="512.7" cy="484.5" r="9.5" fill="#1fa187"/>
<circle cx="782.6" cy="607.3" r="9.5" fill="#1f988b"/>
<circle cx="778.6" cy="730.1" r="9.5" fill="#1f948c"/>
<circle cx="595.6" cy="620.6" r="9.5" fill="#29798e"/>
<circle cx="572.3" cy="624.3" r="9.5" fill="#98d83e"/>
<circle cx="602.9" cy="668.5" r="9.5" fill="#2b758e"/>
<circle cx="340.3" cy="663.4" r="9.5" fill="#75d054"/>
<circle cx="451.2" cy="382.1" r="9.5" fill="#eae51a"/>
<circle cx="619.4" cy="557.6" r="9.5" fill="#1f948c"/>
<circle cx="702.1" cy="644.2" r="9.5" fill="#2c738e"/>
<circle cx="407.4" cy="436.8" r="9.5" fill="#86d549"/>
<circle cx="358.8" cy="408.6" r="9.5" fill="#e5e419"/>
<circle cx="445.2" cy="352.0" r="9.5" fill="#93d741"/>
<circle cx="685.8" cy="764.6" r="9.5" fill="#404688"/>
<circle cx="617.3" cy="568.2" r="9.5" fill="#218f8d"/>
<circle cx="521.8" cy="776.8" r="9.5" fill="#2a768e"/>
<circle cx="436.7" cy="421.3" r="9.5" fill="#b8de29"/>
<circle cx="853.6" cy="589.7" r="9.5" fill="#27ad81"/>
<circle cx="600.2" cy="664.9" r="9.5" fill="#228c8d"/>
<circle cx="445.6" cy="339.9" r="9.5" fill="#eae51a"/>
<circle cx="859.8" cy="697.7" r="9.5" fill="#365d8d"/>
<circle cx="676.0" cy="630.6" r="9.5" fill="#481b6d"/>
<circle cx="853.8" cy="595.2" r="9.5" fill="#2b758e"/>
<circle cx="712.8" cy="646.0" r="9.5" fill="#25ac82"/>
<circle cx="516.9" cy="636.3" r="9.5" fill="#25ac82"/>
<circle cx="630.3" cy="711.4" r="9.5" fill="#24868e"/>
<circle cx="502.4" cy="659.2" r="9.5" fill="#6ccd5a"/>
<circle cx="437.6" cy="489.6" r="9.5" fill="#fde725"/>
<circle cx="415.4" cy="513.1" r="9.5" fill="#95d840"/>
<circle cx="374.7" cy="455.7" r="9.5" fill="#fde725"/>
<circle cx="616.8" cy="540.4" r="9.5" fill="#2a788e"/>
<circle cx="451.6" cy="498.2" r="9.5" fill="#fde725"/>
<circle cx="406.0" cy="604.1" r="9.5" fill="#73d056"/>
<circle cx="337.7" cy="493.2" r="9.5" fill="#3dbc74"/>
<circle cx="669.2" cy="497.9" r="9.5" fill="#2ab07f"/>
<circle cx="535.0" cy="538.3" r="9.5" fill="#3fbc73"/>
<circle cx="538.9" cy="479.8" r="9.5" fill="#fde725"/>
<circle cx="385.0" cy="420.5" r="9.5" fill="#e5e419"/>
<circle cx="487.6" cy="572.1" r="9.5" fill="#e5e419"/>
<circle cx="469.5" cy="751.0" r="9.5" fill="#1f968b"/>
<circle cx="382.1" cy="565.4" r="9.5" fill="#fde725"/>
<circle cx="870.2" cy="608.9" r="9.5" fill="#31b57b"/>
<circle cx="533.1" cy="723.9" r="9.5" fill="#39568c"/>
<circle cx="615.8" cy="465.0" r="9.5" fill="#c0df25"/>
<circle cx="437.7" cy="559.9" r="9.5" fill="#8ed645"/>
<circle cx="456.0" cy="593.5" r="9.5" fill="#90d743"/>
<circle cx="452.8" cy="509.0" r="9.5" fill="#fde725"/>
<circle cx="545.0" cy="741.7" r="9.5" fill="#433d84"/>
<circle cx="801.1" cy="645.9" r="9.5" fill="#1f9e89"/>
<circle cx="447.9" cy="469.8" r="9.5" fill="#6ece58"/>
<circle cx="387.2" cy="370.9" r="9.5" fill="#fde725"/>
<circle cx="423.7" cy="574.0" r="9.5" fill="#d5e21a"/>
<circle cx="330.0" cy="444.8" r="9.5" fill="#fde725"/>
<circle cx="666.2" cy="548.2" r="9.5" fill="#1f988b"/>
<circle cx="556.2" cy="512.8" r="9.5" fill="#fde725"/>
<circle cx="439.5" cy="366.0" r="9.5" fill="#ece51b"/>
<circle cx="660.7" cy="687.4" r="9.5" fill="#297b8e"/>
<circle cx="561.0" cy="676.3" r="9.5" fill="#20928c"/>
<circle cx="687.2" cy="592.1" r="9.5" fill="#228b8d"/>
<circle cx="475.2" cy="528.5" r="9.5" fill="#b5de2b"/>
<circle cx="660.3" cy="395.1" r="9.5" fill="#6ece58"/>
<circle cx="387.2" cy="575.1" r="9.5" fill="#f1e51d"/>
<circle cx="632.0" cy="432.2" r="9.5" fill="#9bd93c"/>
<circle cx="628.0" cy="756.4" r="9.5" fill="#277f8e"/>
<circle cx="785.0" cy="509.0" r="9.5" fill="#93d741"/>
<circle cx="638.5" cy="410.7" r="9.5" fill="#65cb5e"/>
<circle cx="522.0" cy="502.7" r="9.5" fill="#95d840"/>
<circle cx="896.0" cy="575.6" r="9.5" fill="#4cc26c"/>
<circle cx="643.9" cy="432.5" r="9.5" fill="#7fd34e"/>
<circle cx="392.9" cy="575.5" r="9.5" fill="#6ccd5a"/>
<circle cx="718.1" cy="681.6" r="9.5" fill="#75d054"/>
<circle cx="376.6" cy="561.0" r="9.5" fill="#6ccd5a"/>
<circle cx="800.0" cy="592.0" r="9.5" fill="#277f8e"/>
<circle cx="507.8" cy="636.2" r="9.5" fill="#20a386"/>
<circle cx="544.0" cy="516.7" r="9.5" fill="#56c667"/>
<circle cx="442.5" cy="684.7" r="9.5" fill="#2b758e"/>
<circle cx="644.1" cy="575.4" r="9.5" fill="#4ac16d"/>
<circle cx="468.6" cy="557.2" r="9.5" fill="#67cc5c"/>
<circle cx="405.1" cy="412.9" r="9.5" fill="#fde725"/>
<circle cx="498.2" cy="344.3" r="9.5" fill="#fde725"/>
<circle cx="669.3" cy="551.5" r="9.5" fill="#27ad81"/>
<circle cx="495.7" cy="414.4" r="9.5" fill="#fde725"/>
<circle cx="557.4" cy="451.5" r="9.5" fill="#67cc5c"/>
<circle cx="567.8" cy="475.3" r="9.5" fill="#2cb17e"/>
<circle cx="458.8" cy="371.7" r="9.5" fill="#ece51b"/>
<circle cx="538.7" cy="736.7" r="9.5" fill="#20928c"/>
<circle cx="464.2" cy="330.3" r="9.5" fill="#b0dd2f"/>
<circle cx="657.9" cy="742.3" r="9.5" fill="#355e8d"/>
<circle cx="602.4" cy="521.0" r="9.5" fill="#37b878"/>
<circle cx="790.9" cy="637.4" r="9.5" fill="#26ad81"/>
<circle cx="688.2" cy="549.1" r="9.5" fill="#1f988b"/>
<circle cx="868.7" cy="675.2" r="9.5" fill="#3a538b"/>
<circle cx="786.5" cy="548.3" r="9.5" fill="#6ece58"/>
<circle cx="354.0" cy="390.0" r="9.5" fill="#f1e51d"/>
<circle cx="332.8" cy="457.6" r="9.5" fill="#7ad151"/>
<circle cx="497.1" cy="800.7" r="9.5" fill="#277e8e"/>
<circle cx="460.3" cy="690.5" r="9.5" fill="#7fd34e"/>
<circle cx="650.8" cy="611.2" r="9.5" fill="#2e6f8e"/>
<circle cx="349.4" cy="583.7" r="9.5" fill="#42be71"/>
<circle cx="877.8" cy="644.8" r="9.5" fill="#287c8e"/>
<circle cx="498.8" cy="459.1" r="9.5" fill="#d2e21b"/>
<circle cx="491.6" cy="676.4" r="9.5" fill="#30698e"/>
<circle cx="558.2" cy="586.1" r="9.5" fill="#86d549"/>
<circle cx="466.6" cy="353.8" r="9.5" fill="#21a685"/>
<circle cx="539.5" cy="681.9" r="9.5" fill="#cae11f"/>
<circle cx="508.0" cy="644.8" r="9.5" fill="#3c508b"/>
<circle cx="580.1" cy="360.8" r="9.5" fill="#b2dd2d"/>
<circle cx="510.5" cy="628.4" r="9.5" fill="#4ac16d"/>
<circle cx="581.0" cy="602.5" r="9.5" fill="#31668e"/>
<circle cx="399.7" cy="514.1" r="9.5" fill="#fde725"/>
<circle cx="408.5" cy="379.8" r="9.5" fill="#dde318"/>
<circle cx="821.5" cy="728.6" r="9.5" fill="#1f948c"/>
<circle cx="642.6" cy="677.9" r="9.5" fill="#2ab07f"/>
<circle cx="546.0" cy="633.7" r="9.5" fill="#2cb17e"/>
<circle cx="446.4" cy="434.4" r="9.5" fill="#ece51b"/>
<circle cx="439.2" cy="502.3" r="9.5" fill="#67cc5c"/>
<circle cx="591.4" cy="617.8" r="9.5" fill="#2d718e"/>
<circle cx="663.5" cy="441.7" r="9.5" fill="#2cb17e"/>
<circle cx="597.6" cy="558.7" r="9.5" fill="#25ab82"/>
<circle cx="795.3" cy="555.9" r="9.5" fill="#28ae80"/>
<circle cx="498.5" cy="628.0" r="9.5" fill="#56c667"/>
<circle cx="436.2" cy="518.7" r="9.5" fill="#54c568"/>
<circle cx="716.8" cy="669.4" r="9.5" fill="#2d718e"/>
<circle cx="547.0" cy="726.8" r="9.5" fill="#4ac16d"/>
<circle cx="644.5" cy="757.7" r="9.5" fill="#3d4d8a"/>
<circle cx="533.6" cy="529.2" r="9.5" fill="#277f8e"/>
<circle cx="574.0" cy="720.7" r="9.5" fill="#29798e"/>
<circle cx="831.8" cy="778.4" r="9.5" fill="#443b84"/>
<circle cx="464.3" cy="543.3" r="9.5" fill="#4ec36b"/>
<circle cx="503.8" cy="753.7" r="9.5" fill="#297b8e"/>
<circle cx="577.9" cy="523.2" r="9.5" fill="#6ccd5a"/>
<circle cx="626.3" cy="366.2" r="9.5" fill="#addc30"/>
<circle cx="340.7" cy="538.9" r="9.5" fill="#fde725"/>
<circle cx="582.6" cy="733.6" r="9.5" fill="#218e8d"/>
<circle cx="550.6" cy="522.3" r="9.5" fill="#93d741"/>
<circle cx="702.7" cy="640.6" r="9.5" fill="#25838e"/>
<circle cx="575.9" cy="459.6" r="9.5" fill="#6ece58"/>
<circle cx="582.8" cy="621.1" r="9.5" fill="#26ad81"/>
<circle cx="497.0" cy="741.9" r="9.5" fill="#2f6b8e"/>
<circle cx="812.8" cy="706.8" r="9.5" fill="#3f4889"/>
<circle cx="507.3" cy="633.4" r="9.5" fill="#29af7f"/>
<circle cx="688.1" cy="448.5" r="9.5" fill="#69cd5b"/>
<circle cx="525.9" cy="550.6" r="9.5" fill="#20a486"/>
<circle cx="412.9" cy="454.7" r="9.5" fill="#fde725"/>
<circle cx="511.9" cy="579.8" r="9.5" fill="#25ac82"/>
<circle cx="372.9" cy="449.8" r="9.5" fill="#d5e21a"/>
<circle cx="619.1" cy="408.5" r="9.5" fill="#81d34d"/>
<circle cx="694.6" cy="478.5" r="9.5" fill="#3dbc74"/>
<circle cx="443.1" cy="349.3" r="9.5" fill="#9bd93c"/>
<circle cx="395.1" cy="362.5" r="9.5" fill="#fde725"/>
<circle cx="452.9" cy="405.0" r="9.5" fill="#fde725"/>
<circle cx="384.4" cy="473.1" r="9.5" fill="#73d056"/>
<circle cx="405.5" cy="616.4" r="9.5" fill="#34b679"/>
<circle cx="593.3" cy="644.6" r="9.5" fill="#2c728e"/>
<circle cx="619.5" cy="718.3" r="9.5" fill="#218e8d"/>
<circle cx="726.6" cy="585.2" r="9.5" fill="#306a8e"/>
<circle cx="569.2" cy="696.3" r="9.5" fill="#63cb5f"/>
<circle cx="660.6" cy="637.1" r="9.5" fill="#98d83e"/>
<circle cx="321.8" cy="564.5" r="9.5" fill="#fde725"/>
<circle cx="375.1" cy="585.4" r="9.5" fill="#35b779"/>
<circle cx="653.0" cy="744.8" r="9.5" fill="#2c718e"/>
<circle cx="443.9" cy="776.6" r="9.5" fill="#31678e"/>
<circle cx="326.1" cy="484.9" r="9.5" fill="#d5e21a"/>
<circle cx="335.6" cy="632.3" r="9.5" fill="#9bd93c"/>
<circle cx="785.7" cy="495.2" r="9.5" fill="#1f978b"/>
<circle cx="574.3" cy="615.5" r="9.5" fill="#297b8e"/>
<circle cx="672.6" cy="416.9" r="9.5" fill="#86d549"/>
<circle cx="477.5" cy="666.9" r="9.5" fill="#23a983"/>
<circle cx="605.3" cy="471.5" r="9.5" fill="#24aa83"/>
<circle cx="580.4" cy="663.7" r="9.5" fill="#34618d"/>
<circle cx="315.2" cy="562.1" r="9.5" fill="#65cb5e"/>
<circle cx="367.5" cy="502.1" r="9.5" fill="#a5db36"/>
<circle cx="827.0" cy="494.5" r="9.5" fill="#b8de29"/>
<circle cx="628.6" cy="737.9" r="9.5" fill="#38598c"/>
<circle cx="383.2" cy="377.4" r="9.5" fill="#b0dd2f"/>
<circle cx="719.9" cy="677.9" r="9.5" fill="#440154"/>
<circle cx="404.7" cy="576.2" r="9.5" fill="#98d83e"/>
<circle cx="427.9" cy="578.6" r="9.5" fill="#73d056"/>
<circle cx="692.4" cy="738.2" r="9.5" fill="#365c8d"/>
<circle cx="724.4" cy="521.9" r="9.5" fill="#35b779"/>
<circle cx="334.1" cy="614.2" r="9.5" fill="#95d840"/>
<circle cx="523.6" cy="449.3" r="9.5" fill="#b2dd2d"/>
<circle cx="331.3" cy="484.7" r="9.5" fill="#b0dd2f"/>
<circle cx="654.3" cy="627.3" r="9.5" fill="#27ad81"/>
<circle cx="454.6" cy="417.8" r="9.5" fill="#fde725"/>
<circle cx="737.3" cy="631.6" r="9.5" fill="#33638d"/>
<circle cx="857.7" cy="725.4" r="9.5" fill="#3dbc74"/>
<circle cx="455.1" cy="353.3" r="9.5" fill="#7ad151"/>
<circle cx="614.2" cy="511.3" r="9.5" fill="#56c667"/>
<circle cx="344.2" cy="418.2" r="9.5" fill="#c8e020"/>
<circle cx="514.9" cy="589.4" r="9.5" fill="#67cc5c"/>
<circle cx="436.7" cy="397.6" r="9.5" fill="#ece51b"/>
<circle cx="377.9" cy="396.2" r="9.5" fill="#7ad151"/>
<circle cx="496.8" cy="317.7" r="9.5" fill="#f1e51d"/>
<circle cx="381.0" cy="361.6" r="9.5" fill="#fde725"/>
<circle cx="648.5" cy="492.8" r="9.5" fill="#2cb17e"/>
<circle cx="488.0" cy="598.1" r="9.5" fill="#e5e419"/>
<circle cx="485.7" cy="452.7" r="9.5" fill="#fde725"/>
<circle cx="742.9" cy="694.1" r="9.5" fill="#1f988b"/>
<circle cx="524.8" cy="496.7" r="9.5" fill="#3fbc73"/>
<circle cx="427.5" cy="429.9" r="9.5" fill="#b0dd2f"/>
<circle cx="431.8" cy="453.8" r="9.5" fill="#c0df25"/>
<circle cx="629.8" cy="535.0" r="9.5" fill="#1f958b"/>
<circle cx="804.7" cy="686.4" r="9.5" fill="#1f988b"/>
<circle cx="753.3" cy="547.8" r="9.5" fill="#4cc26c"/>
<circle cx="468.8" cy="722.0" r="9.5" fill="#2c718e"/>
<circle cx="626.8" cy="473.1" r="9.5" fill="#84d44b"/>
<circle cx="407.4" cy="660.1" r="9.5" fill="#24aa83"/>
<circle cx="367.4" cy="416.4" r="9.5" fill="#3dbc74"/>
<circle cx="369.4" cy="370.7" r="9.5" fill="#b8de29"/>
<circle cx="575.8" cy="478.2" r="9.5" fill="#31b57b"/>
<circle cx="803.0" cy="609.4" r="9.5" fill="#22a785"/>
<circle cx="441.7" cy="463.6" r="9.5" fill="#dde318"/>
<circle cx="594.6" cy="695.4" r="9.5" fill="#287d8e"/>
<circle cx="566.8" cy="684.8" r="9.5" fill="#3c4f8a"/>
<circle cx="867.2" cy="603.4" r="9.5" fill="#218e8d"/>
<circle cx="562.2" cy="367.1" r="9.5" fill="#58c765"/>
<circle cx="600.3" cy="632.7" r="9.5" fill="#1fa287"/>
<circle cx="561.7" cy="564.7" r="9.5" fill="#77d153"/>
<circle cx="367.1" cy="426.5" r="9.5" fill="#ece51b"/>
<circle cx="470.9" cy="422.4" r="9.5" fill="#b8de29"/>
<circle cx="658.1" cy="612.8" r="9.5" fill="#1fa187"/>
<circle cx="448.7" cy="377.8" r="9.5" fill="#fde725"/>
<circle cx="742.2" cy="485.0" r="9.5" fill="#2eb37c"/>
<circle cx="349.3" cy="427.7" r="9.5" fill="#d0e11c"/>
<circle cx="686.6" cy="742.7" r="9.5" fill="#482979"/>
<circle cx="439.4" cy="584.7" r="9.5" fill="#b2dd2d"/>
<circle cx="367.0" cy="510.1" r="9.5" fill="#4ac16d"/>
<circle cx="602.3" cy="476.4" r="9.5" fill="#35b779"/>
<circle cx="466.6" cy="422.8" r="9.5" fill="#7cd250"/>
<circle cx="752.8" cy="501.5" r="9.5" fill="#1e9b8a"/>
<circle cx="468.1" cy="431.5" r="9.5" fill="#5cc863"/>
<circle cx="612.1" cy="588.5" r="9.5" fill="#20a486"/>
<circle cx="766.9" cy="692.8" r="9.5" fill="#21908d"/>
<circle cx="623.6" cy="637.0" r="9.5" fill="#69cd5b"/>
<circle cx="623.8" cy="426.1" r="9.5" fill="#40bd72"/>
<circle cx="844.7" cy="690.9" r="9.5" fill="#39568c"/>
<circle cx="693.0" cy="657.7" r="9.5" fill="#2a788e"/>
<circle cx="698.2" cy="588.9" r="9.5" fill="#1f998a"/>
<circle cx="640.4" cy="658.8" r="9.5" fill="#29798e"/>
<circle cx="394.4" cy="423.9" r="9.5" fill="#addc30"/>
<circle cx="457.5" cy="472.6" r="9.5" fill="#fde725"/>
<circle cx="812.1" cy="602.3" r="9.5" fill="#33628d"/>
<circle cx="839.6" cy="747.2" r="9.5" fill="#2d718e"/>
<circle cx="638.1" cy="408.0" r="9.5" fill="#89d548"/>
<circle cx="410.2" cy="542.3" r="9.5" fill="#89d548"/>
<circle cx="431.0" cy="524.5" r="9.5" fill="#44bf70"/>
<circle cx="422.0" cy="578.6" r="9.5" fill="#aadc32"/>
<circle cx="438.8" cy="462.3" r="9.5" fill="#d8e219"/>
<circle cx="545.6" cy="537.9" r="9.5" fill="#90d743"/>
<circle cx="630.5" cy="387.4" r="9.5" fill="#cde11d"/>
<circle cx="391.5" cy="646.7" r="9.5" fill="#cae11f"/>
<circle cx="471.3" cy="366.2" r="9.5" fill="#a0da39"/>
<circle cx="611.8" cy="613.7" r="9.5" fill="#32b67a"/>
<circle cx="494.6" cy="434.9" r="9.5" fill="#a5db36"/>
<circle cx="711.5" cy="540.7" r="9.5" fill="#2d708e"/>
<circle cx="584.6" cy="652.3" r="9.5" fill="#21918c"/>
<circle cx="650.5" cy="776.5" r="9.5" fill="#32658e"/>
<circle cx="622.1" cy="489.3" r="9.5" fill="#95d840"/>
<circle cx="741.0" cy="612.0" r="9.5" fill="#34618d"/>
<circle cx="421.8" cy="617.5" r="9.5" fill="#b2dd2d"/>
<circle cx="557.6" cy="377.3" r="9.5" fill="#fde725"/>
<circle cx="468.0" cy="561.8" r="9.5" fill="#20a486"/>
<circle cx="524.2" cy="736.0" r="9.5" fill="#2a768e"/>
<circle cx="508.8" cy="562.5" r="9.5" fill="#90d743"/>
<circle cx="410.3" cy="424.0" r="9.5" fill="#dde318"/>
<circle cx="461.0" cy="312.7" r="9.5" fill="#fde725"/>
<circle cx="593.6" cy="770.2" r="9.5" fill="#228c8d"/>
<circle cx="537.4" cy="737.7" r="9.5" fill="#355e8d"/>
<circle cx="555.2" cy="453.2" r="9.5" fill="#60ca60"/>
<circle cx="517.2" cy="714.8" r="9.5" fill="#375a8c"/>
<circle cx="458.7" cy="387.5" r="9.5" fill="#9bd93c"/>
<circle cx="587.6" cy="730.5" r="9.5" fill="#297a8e"/>
<circle cx="658.5" cy="513.2" r="9.5" fill="#fde725"/>
<circle cx="591.5" cy="587.3" r="9.5" fill="#34b679"/>
<circle cx="614.3" cy="611.4" r="9.5" fill="#3e4989"/>
<circle cx="594.9" cy="782.3" r="9.5" fill="#1fa287"/>
<circle cx="468.5" cy="631.0" r="9.5" fill="#1f978b"/>
<circle cx="742.2" cy="579.5" r="9.5" fill="#20928c"/>
<circle cx="428.6" cy="386.1" r="9.5" fill="#f6e620"/>
<circle cx="358.1" cy="396.8" r="9.5" fill="#f1e51d"/>
<circle cx="708.8" cy="653.6" r="9.5" fill="#453581"/>
<circle cx="436.5" cy="707.3" r="9.5" fill="#20938c"/>
<circle cx="474.4" cy="534.2" r="9.5" fill="#c5e021"/>
<circle cx="564.3" cy="599.4" r="9.5" fill="#56c667"/>
<circle cx="703.8" cy="549.6" r="9.5" fill="#3bbb75"/>
<circle cx="388.1" cy="410.7" r="9.5" fill="#93d741"/>
<circle cx="611.8" cy="564.0" r="9.5" fill="#31b57b"/>
<circle cx="383.5" cy="669.5" r="9.5" fill="#218e8d"/>
<circle cx="574.4" cy="726.0" r="9.5" fill="#42be71"/>
<circle cx="396.5" cy="605.8" r="9.5" fill="#40bd72"/>
<circle cx="588.5" cy="374.4" r="9.5" fill="#a8db34"/>
<circle cx="567.6" cy="504.2" r="9.5" fill="#81d34d"/>
<circle cx="492.0" cy="535.6" r="9.5" fill="#67cc5c"/>
<circle cx="709.4" cy="511.2" r="9.5" fill="#75d054"/>
<circle cx="535.2" cy="434.5" r="9.5" fill="#c2df23"/>
<circle cx="836.1" cy="541.4" r="9.5" fill="#20a486"/>
<circle cx="603.3" cy="508.4" r="9.5" fill="#3aba76"/>
<circle cx="529.7" cy="304.6" r="9.5" fill="#d5e21a"/>
<circle cx="430.6" cy="353.7" r="9.5" fill="#d2e21b"/>
<circle cx="826.6" cy="594.1" r="9.5" fill="#67cc5c"/>
<circle cx="423.2" cy="545.4" r="9.5" fill="#bade28"/>
<circle cx="510.8" cy="597.4" r="9.5" fill="#52c569"/>
<circle cx="324.0" cy="413.5" r="9.5" fill="#a0da39"/>
<circle cx="771.1" cy="563.4" r="9.5" fill="#77d153"/>
<circle cx="353.8" cy="516.9" r="9.5" fill="#86d549"/>
<circle cx="439.8" cy="599.1" r="9.5" fill="#34b679"/>
<circle cx="366.1" cy="544.1" r="9.5" fill="#6ece58"/>
<circle cx="537.6" cy="667.9" r="9.5" fill="#228c8d"/>
<circle cx="803.2" cy="516.9" r="9.5" fill="#1fa287"/>
<circle cx="811.6" cy="604.2" r="9.5" fill="#1e9d89"/>
<circle cx="464.6" cy="628.7" r="9.5" fill="#33628d"/>
<circle cx="355.9" cy="434.5" r="9.5" fill="#eae51a"/>
<circle cx="401.3" cy="502.8" r="9.5" fill="#b8de29"/>
<circle cx="776.8" cy="559.6" r="9.5" fill="#2eb37c"/>
<circle cx="656.3" cy="391.7" r="9.5" fill="#54c568"/>
<circle cx="655.7" cy="646.5" r="9.5" fill="#297b8e"/>
<circle cx="320.9" cy="457.5" r="9.5" fill="#fde725"/>
<circle cx="500.2" cy="643.8" r="9.5" fill="#1e9b8a"/>
<circle cx="437.2" cy="470.0" r="9.5" fill="#5ac864"/>
<circle cx="393.3" cy="357.0" r="9.5" fill="#fde725"/>
<circle cx="582.2" cy="430.4" r="9.5" fill="#6ece58"/>
<circle cx="491.9" cy="421.8" r="9.5" fill="#89d548"/>
<circle cx="359.9" cy="525.8" r="9.5" fill="#f8e621"/>
<circle cx="330.2" cy="552.1" r="9.5" fill="#6ccd5a"/>
<circle cx="714.9" cy="581.2" r="9.5" fill="#297a8e"/>
<circle cx="353.9" cy="618.2" r="9.5" fill="#81d34d"/>
<circle cx="632.4" cy="736.3" r="9.5" fill="#31668e"/>
<circle cx="573.1" cy="339.3" r="9.5" fill="#a8db34"/>
<circle cx="475.7" cy="667.2" r="9.5" fill="#24878e"/>
<circle cx="687.0" cy="466.3" r="9.5" fill="#93d741"/>
<circle cx="405.1" cy="652.2" r="9.5" fill="#23a983"/>
<circle cx="863.4" cy="599.7" r="9.5" fill="#3a548c"/>
<circle cx="331.9" cy="633.9" r="9.5" fill="#c0df25"/>
<circle cx="366.1" cy="512.0" r="9.5" fill="#7fd34e"/>
<circle cx="485.0" cy="458.8" r="9.5" fill="#4ec36b"/>
<circle cx="465.5" cy="437.8" r="9.5" fill="#a2da37"/>
<circle cx="819.4" cy="490.8" r="9.5" fill="#1e9b8a"/>
<circle cx="561.0" cy="700.9" r="9.5" fill="#2f6b8e"/>
<circle cx="462.9" cy="329.1" r="9.5" fill="#fde725"/>
<circle cx="663.0" cy="675.4" r="9.5" fill="#60ca60"/>
<circle cx="663.2" cy="703.4" r="9.5" fill="#440154"/>
<circle cx="619.3" cy="606.1" r="9.5" fill="#3f4788"/>
<circle cx="811.7" cy="545.9" r="9.5" fill="#21918c"/>
<circle cx="487.0" cy="650.8" r="9.5" fill="#3fbc73"/>
<circle cx="437.3" cy="424.5" r="9.5" fill="#8ed645"/>
<circle cx="568.8" cy="759.7" r="9.5" fill="#443983"/>
<circle cx="637.9" cy="472.7" r="9.5" fill="#89d548"/>
<circle cx="459.3" cy="420.4" r="9.5" fill="#dde318"/>
<circle cx="371.6" cy="631.7" r="9.5" fill="#fde725"/>
<circle cx="502.6" cy="427.6" r="9.5" fill="#cde11d"/>
<circle cx="619.9" cy="705.8" r="9.5" fill="#277e8e"/>
<circle cx="322.5" cy="478.0" r="9.5" fill="#2eb37c"/>
<circle cx="686.4" cy="724.4" r="9.5" fill="#21908d"/>
<circle cx="331.0" cy="562.6" r="9.5" fill="#2db27d"/>
<circle cx="383.4" cy="451.4" r="9.5" fill="#8bd646"/>
<circle cx="743.2" cy="485.6" r="9.5" fill="#22a785"/>
<circle cx="492.3" cy="719.7" r="9.5" fill="#32658e"/>
<circle cx="478.0" cy="350.3" r="9.5" fill="#8ed645"/>
<circle cx="461.8" cy="632.3" r="9.5" fill="#35b779"/>
<circle cx="614.2" cy="511.3" r="9.5" fill="#24aa83"/>
<circle cx="705.2" cy="719.7" r="9.5" fill="#4ac16d"/>
<circle cx="423.7" cy="624.9" r="9.5" fill="#44bf70"/>
<circle cx="728.6" cy="536.5" r="9.5" fill="#1f9f88"/>
<circle cx="864.6" cy="595.3" r="9.5" fill="#355f8d"/>
<circle cx="464.3" cy="470.5" r="9.5" fill="#95d840"/>
<circle cx="615.4" cy="783.7" r="9.5" fill="#2e6e8e"/>
<circle cx="649.5" cy="624.5" r="9.5" fill="#22a884"/>
<circle cx="589.0" cy="810.7" r="9.5" fill="#2b748e"/>
<circle cx="500.8" cy="362.4" r="9.5" fill="#84d44b"/>
<circle cx="323.1" cy="497.2" r="9.5" fill="#cde11d"/>
<circle cx="561.7" cy="373.9" r="9.5" fill="#b2dd2d"/>
<circle cx="512.0" cy="568.1" r="9.5" fill="#f1e51d"/>
<circle cx="531.0" cy="785.9" r="9.5" fill="#25858e"/>
<circle cx="518.7" cy="554.0" r="9.5" fill="#a8db34"/>
<circle cx="614.4" cy="564.9" r="9.5" fill="#277f8e"/>
<circle cx="746.9" cy="609.9" r="9.5" fill="#23898e"/>
<circle cx="526.8" cy="707.6" r="9.5" fill="#1e9d89"/>
<circle cx="435.4" cy="496.7" r="9.5" fill="#cde11d"/>
<circle cx="510.9" cy="568.1" r="9.5" fill="#23898e"/>
<circle cx="583.3" cy="577.7" r="9.5" fill="#3aba76"/>
<circle cx="617.0" cy="448.3" r="9.5" fill="#35b779"/>
<circle cx="497.2" cy="351.5" r="9.5" fill="#fde725"/>
<circle cx="781.3" cy="591.8" r="9.5" fill="#1e9c89"/>
<circle cx="337.5" cy="535.9" r="9.5" fill="#bade28"/>
<circle cx="659.0" cy="466.0" r="9.5" fill="#86d549"/>
<circle cx="748.9" cy="484.8" r="9.5" fill="#26818e"/>
<circle cx="818.7" cy="716.5" r="9.5" fill="#23888e"/>
<circle cx="558.4" cy="430.1" r="9.5" fill="#70cf57"/>
<circle cx="806.7" cy="734.2" r="9.5" fill="#20938c"/>
<circle cx="833.2" cy="610.2" r="9.5" fill="#21a585"/>
<circle cx="675.3" cy="716.0" r="9.5" fill="#24878e"/>
<circle cx="646.8" cy="555.0" r="9.5" fill="#1e9b8a"/>
<circle cx="472.4" cy="818.5" r="9.5" fill="#34618d"/>
<circle cx="411.1" cy="654.3" r="9.5" fill="#2b748e"/>
<circle cx="338.9" cy="488.4" r="9.5" fill="#dde318"/>
<circle cx="555.9" cy="645.9" r="9.5" fill="#1e9b8a"/>
<circle cx="535.2" cy="582.6" r="9.5" fill="#32b67a"/>
<circle cx="360.0" cy="466.2" r="9.5" fill="#86d549"/>
<circle cx="704.4" cy="580.0" r="9.5" fill="#4ac16d"/>
<circle cx="572.1" cy="435.9" r="9.5" fill="#f8e621"/>
<circle cx="520.3" cy="404.9" r="9.5" fill="#aadc32"/>
<circle cx="506.9" cy="757.3" r="9.5" fill="#481b6d"/>
<circle cx="396.8" cy="554.0" r="9.5" fill="#25ab82"/>
<circle cx="550.4" cy="619.5" r="9.5" fill="#277f8e"/>
<circle cx="636.7" cy="664.0" r="9.5" fill="#21a585"/>
<circle cx="549.1" cy="602.7" r="9.5" fill="#1fa088"/>
<circle cx="459.2" cy="332.2" r="9.5" fill="#fde725"/>
<circle cx="428.8" cy="576.9" r="9.5" fill="#b8de29"/>
<circle cx="800.6" cy="594.9" r="9.5" fill="#472f7d"/>
<circle cx="526.1" cy="340.7" r="9.5" fill="#9bd93c"/>
<circle cx="491.8" cy="322.3" r="9.5" fill="#c2df23"/>
<circle cx="417.8" cy="494.0" r="9.5" fill="#c0df25"/>
<circle cx="449.0" cy="520.2" r="9.5" fill="#95d840"/>
<circle cx="549.4" cy="549.5" r="9.5" fill="#54c568"/>
<circle cx="608.6" cy="447.2" r="9.5" fill="#f4e61e"/>
<circle cx="673.8" cy="596.3" r="9.5" fill="#3a548c"/>
<circle cx="439.8" cy="699.8" r="9.5" fill="#1f978b"/>
<circle cx="431.4" cy="462.4" r="9.5" fill="#dfe318"/>
<circle cx="500.3" cy="731.6" r="9.5" fill="#1f958b"/>
<circle cx="898.7" cy="648.1" r="9.5" fill="#23a983"/>
<circle cx="360.8" cy="491.5" r="9.5" fill="#addc30"/>
<circle cx="405.8" cy="610.6" r="9.5" fill="#48c16e"/>
<circle cx="636.0" cy="629.2" r="9.5" fill="#42be71"/>
<circle cx="735.6" cy="635.8" r="9.5" fill="#23888e"/>
<circle cx="468.8" cy="683.4" r="9.5" fill="#4ac16d"/>
<circle cx="528.7" cy="537.7" r="9.5" fill="#1fa287"/>
<circle cx="543.1" cy="418.1" r="9.5" fill="#58c765"/>
<circle cx="421.2" cy="349.4" r="9.5" fill="#f1e51d"/>
<circle cx="871.3" cy="571.1" r="9.5" fill="#1f968b"/>
<circle cx="685.3" cy="408.9" r="9.5" fill="#54c568"/>
<circle cx="487.1" cy="702.6" r="9.5" fill="#2eb37c"/>
<circle cx="723.8" cy="519.7" r="9.5" fill="#26828e"/>
<circle cx="498.6" cy="406.2" r="9.5" fill="#a2da37"/>
<circle cx="491.9" cy="661.6" r="9.5" fill="#84d44b"/>
<circle cx="760.1" cy="593.6" r="9.5" fill="#1fa188"/>
<circle cx="708.0" cy="702.0" r="9.5" fill="#26828e"/>
<circle cx="547.9" cy="486.5" r="9.5" fill="#d2e21b"/>
<circle cx="855.2" cy="648.6" r="9.5" fill="#28ae80"/>
<circle cx="568.2" cy="552.8" r="9.5" fill="#90d743"/>
<circle cx="514.7" cy="503.9" r="9.5" fill="#fde725"/>
<circle cx="671.6" cy="618.7" r="9.5" fill="#30698e"/>
<circle cx="552.8" cy="336.3" r="9.5" fill="#bddf26"/>
<circle cx="767.1" cy="767.6" r="9.5" fill="#28ae80"/>
<circle cx="690.5" cy="605.4" r="9.5" fill="#2ab07f"/>
<circle cx="348.4" cy="418.7" r="9.5" fill="#c0df25"/>
<circle cx="503.8" cy="438.2" r="9.5" fill="#a8db34"/>
<circle cx="851.0" cy="754.0" r="9.5" fill="#423f85"/>
<circle cx="389.2" cy="421.6" r="9.5" fill="#b5de2b"/>
<circle cx="419.3" cy="397.5" r="9.5" fill="#6ece58"/>
<circle cx="428.1" cy="518.3" r="9.5" fill="#7cd250"/>
<circle cx="449.0" cy="564.9" r="9.5" fill="#73d056"/>
<circle cx="735.0" cy="619.9" r="9.5" fill="#20938c"/>
<circle cx="657.7" cy="673.6" r="9.5" fill="#46327e"/>
<circle cx="634.5" cy="575.0" r="9.5" fill="#1f968b"/>
<circle cx="592.1" cy="466.7" r="9.5" fill="#75d054"/>
<circle cx="716.8" cy="755.0" r="9.5" fill="#33628d"/>
<circle cx="452.3" cy="508.3" r="9.5" fill="#95d840"/>
<circle cx="458.9" cy="426.1" r="9.5" fill="#95d840"/>
<circle cx="877.3" cy="696.1" r="9.5" fill="#2b758e"/>
<circle cx="449.0" cy="521.8" r="9.5" fill="#fde725"/>
<circle cx="495.4" cy="493.1" r="9.5" fill="#90d743"/>
<circle cx="412.7" cy="589.3" r="9.5" fill="#dde318"/>
<circle cx="734.3" cy="693.9" r="9.5" fill="#34608d"/>
<circle cx="558.7" cy="571.9" r="9.5" fill="#1fa187"/>
<circle cx="424.3" cy="371.0" r="9.5" fill="#b0dd2f"/>
<circle cx="739.7" cy="590.7" r="9.5" fill="#228c8d"/>
<circle cx="483.2" cy="758.6" r="9.5" fill="#23898e"/>
<circle cx="870.5" cy="552.7" r="9.5" fill="#3bbb75"/>
<circle cx="494.8" cy="378.3" r="9.5" fill="#fde725"/>
<circle cx="702.3" cy="477.3" r="9.5" fill="#20928c"/>
<circle cx="842.2" cy="619.7" r="9.5" fill="#2d708e"/>
<circle cx="766.6" cy="602.5" r="9.5" fill="#1fa188"/>
<circle cx="536.9" cy="460.1" r="9.5" fill="#73d056"/>
<circle cx="607.3" cy="691.8" r="9.5" fill="#2d708e"/>
<circle cx="753.7" cy="461.1" r="9.5" fill="#3bbb75"/>
<circle cx="565.3" cy="335.7" r="9.5" fill="#fde725"/>
<circle cx="806.1" cy="623.2" r="9.5" fill="#29798e"/>
<circle cx="381.2" cy="470.0" r="9.5" fill="#c2df23"/>
<circle cx="386.1" cy="461.1" r="9.5" fill="#4cc26c"/>
<circle cx="756.4" cy="552.5" r="9.5" fill="#20928c"/>
<circle cx="809.9" cy="478.7" r="9.5" fill="#4cc26c"/>
<circle cx="763.0" cy="752.5" r="9.5" fill="#481f70"/>
<circle cx="464.3" cy="587.6" r="9.5" fill="#69cd5b"/>
<circle cx="525.9" cy="472.8" r="9.5" fill="#c5e021"/>
<circle cx="647.2" cy="755.4" r="9.5" fill="#287d8e"/>
<circle cx="544.4" cy="431.5" r="9.5" fill="#aadc32"/>
<circle cx="580.2" cy="716.1" r="9.5" fill="#2e6d8e"/>
<circle cx="538.0" cy="462.0" r="9.5" fill="#c5e021"/>
<circle cx="761.7" cy="738.5" r="9.5" fill="#2a768e"/>
<circle cx="665.4" cy="653.9" r="9.5" fill="#24aa83"/>
<circle cx="422.3" cy="498.9" r="9.5" fill="#fbe723"/>
<circle cx="588.6" cy="656.3" r="9.5" fill="#20928c"/>
<circle cx="621.7" cy="428.5" r="9.5" fill="#7ad151"/>
<circle cx="553.6" cy="444.5" r="9.5" fill="#89d548"/>
<circle cx="351.3" cy="528.1" r="9.5" fill="#b0dd2f"/>
<circle cx="544.2" cy="459.5" r="9.5" fill="#f1e51d"/>
<circle cx="472.3" cy="356.0" r="9.5" fill="#f1e51d"/>
<circle cx="487.5" cy="367.2" r="9.5" fill="#c2df23"/>
<circle cx="342.9" cy="553.4" r="9.5" fill="#32b67a"/>
<circle cx="672.4" cy="516.7" r="9.5" fill="#2eb37c"/>
<circle cx="799.9" cy="709.0" r="9.5" fill="#404688"/>
<circle cx="827.9" cy="706.6" r="9.5" fill="#2b758e"/>
<circle cx="846.1" cy="732.4" r="9.5" fill="#31b57b"/>
<circle cx="615.4" cy="499.4" r="9.5" fill="#3dbc74"/>
<circle cx="345.3" cy="474.4" r="9.5" fill="#fde725"/>
<circle cx="596.9" cy="556.4" r="9.5" fill="#228d8d"/>
<circle cx="584.5" cy="650.0" r="9.5" fill="#2f6c8e"/>
<circle cx="440.6" cy="417.0" r="9.5" fill="#a5db36"/>
<circle cx="409.8" cy="364.0" r="9.5" fill="#a2da37"/>
<circle cx="547.4" cy="422.0" r="9.5" fill="#d5e21a"/>
<circle cx="666.2" cy="675.0" r="9.5" fill="#2a788e"/>
<circle cx="363.5" cy="644.3" r="9.5" fill="#1e9c89"/>
<circle cx="389.2" cy="605.6" r="9.5" fill="#50c46a"/>
<circle cx="654.7" cy="740.3" r="9.5" fill="#228c8d"/>
<circle cx="850.1" cy="560.0" r="9.5" fill="#2c728e"/>
<circle cx="823.5" cy="610.7" r="9.5" fill="#2d718e"/>
<circle cx="516.6" cy="642.0" r="9.5" fill="#29af7f"/>
<circle cx="764.9" cy="704.1" r="9.5" fill="#463480"/>
<circle cx="777.1" cy="514.7" r="9.5" fill="#228b8d"/>
<circle cx="690.8" cy="439.4" r="9.5" fill="#50c46a"/>
<circle cx="797.5" cy="618.1" r="9.5" fill="#3bbb75"/>
<circle cx="390.4" cy="518.5" r="9.5" fill="#67cc5c"/>
<circle cx="350.8" cy="606.5" r="9.5" fill="#b2dd2d"/>
<circle cx="546.9" cy="561.4" r="9.5" fill="#44bf70"/>
<circle cx="564.0" cy="433.4" r="9.5" fill="#2ab07f"/>
<circle cx="538.3" cy="379.1" r="9.5" fill="#fde725"/>
<circle cx="537.8" cy="757.2" r="9.5" fill="#375b8d"/>
<circle cx="462.3" cy="539.5" r="9.5" fill="#fde725"/>
<circle cx="441.0" cy="746.5" r="9.5" fill="#2e6d8e"/>
<circle cx="386.8" cy="679.5" r="9.5" fill="#2e6e8e"/>
<circle cx="415.0" cy="586.0" r="9.5" fill="#5cc863"/>
<circle cx="704.1" cy="743.1" r="9.5" fill="#287d8e"/>
<circle cx="380.4" cy="576.7" r="9.5" fill="#c8e020"/>
<circle cx="393.0" cy="504.7" r="9.5" fill="#29af7f"/>
<circle cx="466.4" cy="496.6" r="9.5" fill="#7ad151"/>
<circle cx="679.3" cy="583.2" r="9.5" fill="#1f958b"/>
<circle cx="744.8" cy="441.7" r="9.5" fill="#56c667"/>
<circle cx="651.9" cy="504.6" r="9.5" fill="#1f958b"/>
<circle cx="683.0" cy="536.0" r="9.5" fill="#26ad81"/>
<circle cx="431.0" cy="665.6" r="9.5" fill="#35b779"/>
<circle cx="462.2" cy="591.3" r="9.5" fill="#c8e020"/>
<circle cx="714.0" cy="529.1" r="9.5" fill="#21908d"/>
<circle cx="548.2" cy="537.4" r="9.5" fill="#cde11d"/>
<circle cx="339.2" cy="401.7" r="9.5" fill="#b5de2b"/>
<circle cx="331.7" cy="420.6" r="9.5" fill="#c8e020"/>
<circle cx="532.5" cy="608.6" r="9.5" fill="#375b8d"/>
<circle cx="491.8" cy="587.9" r="9.5" fill="#1f9f88"/>
<circle cx="801.3" cy="609.7" r="9.5" fill="#423f85"/>
<circle cx="434.1" cy="476.2" r="9.5" fill="#c8e020"/>
<circle cx="612.3" cy="513.4" r="9.5" fill="#93d741"/>
<circle cx="544.2" cy="548.7" r="9.5" fill="#f6e620"/>
<circle cx="573.3" cy="647.8" r="9.5" fill="#482475"/>
<circle cx="381.9" cy="611.2" r="9.5" fill="#2eb37c"/>
<circle cx="481.4" cy="622.7" r="9.5" fill="#4ac16d"/>
<circle cx="859.9" cy="666.1" r="9.5" fill="#375a8c"/>
<circle cx="420.1" cy="539.4" r="9.5" fill="#dae319"/>
<circle cx="679.9" cy="427.3" r="9.5" fill="#3dbc74"/>
<circle cx="712.7" cy="570.5" r="9.5" fill="#24868e"/>
<circle cx="677.9" cy="589.7" r="9.5" fill="#44bf70"/>
<circle cx="555.7" cy="474.8" r="9.5" fill="#a5db36"/>
<circle cx="732.9" cy="790.8" r="9.5" fill="#460b5e"/>
<circle cx="481.3" cy="615.4" r="9.5" fill="#1fa088"/>
<circle cx="324.9" cy="492.5" r="9.5" fill="#b2dd2d"/>
<circle cx="587.9" cy="450.4" r="9.5" fill="#22a884"/>
<circle cx="761.7" cy="649.1" r="9.5" fill="#26828e"/>
<circle cx="336.0" cy="570.4" r="9.5" fill="#70cf57"/>
<circle cx="726.9" cy="634.1" r="9.5" fill="#3c508b"/>
<circle cx="667.5" cy="635.2" r="9.5" fill="#218e8d"/>
<circle cx="429.4" cy="423.1" r="9.5" fill="#90d743"/>
<circle cx="387.6" cy="587.9" r="9.5" fill="#a5db36"/>
<circle cx="425.6" cy="328.3" r="9.5" fill="#e2e418"/>
<circle cx="491.6" cy="338.3" r="9.5" fill="#eae51a"/>
<circle cx="728.4" cy="789.1" r="9.5" fill="#453781"/>
<circle cx="485.2" cy="702.9" r="9.5" fill="#3b518b"/>
<circle cx="542.8" cy="535.0" r="9.5" fill="#9bd93c"/>
<circle cx="739.2" cy="667.6" r="9.5" fill="#2c728e"/>
<circle cx="414.9" cy="360.0" r="9.5" fill="#bade28"/>
<circle cx="811.1" cy="668.3" r="9.5" fill="#37b878"/>
<circle cx="463.1" cy="645.0" r="9.5" fill="#1f968b"/>
<circle cx="392.1" cy="487.6" r="9.5" fill="#d5e21a"/>
<circle cx="507.0" cy="477.8" r="9.5" fill="#a0da39"/>
<circle cx="460.1" cy="496.3" r="9.5" fill="#fde725"/>
<circle cx="829.3" cy="716.5" r="9.5" fill="#38598c"/>
<circle cx="758.5" cy="685.2" r="9.5" fill="#31b57b"/>
<circle cx="590.2" cy="368.6" r="9.5" fill="#65cb5e"/>
<circle cx="703.7" cy="659.1" r="9.5" fill="#3d4d8a"/>
<circle cx="798.5" cy="594.2" r="9.5" fill="#20928c"/>
<circle cx="756.2" cy="700.3" r="9.5" fill="#20a386"/>
<circle cx="509.0" cy="556.2" r="9.5" fill="#2ab07f"/>
<circle cx="436.0" cy="501.1" r="9.5" fill="#d8e219"/>
<circle cx="848.1" cy="561.1" r="9.5" fill="#28ae80"/>
<circle cx="532.7" cy="552.0" r="9.5" fill="#21918c"/>
<circle cx="677.7" cy="513.2" r="9.5" fill="#6ccd5a"/>
<circle cx="603.5" cy="723.4" r="9.5" fill="#228c8d"/>
<circle cx="837.6" cy="620.1" r="9.5" fill="#20938c"/>
<circle cx="598.7" cy="633.9" r="9.5" fill="#471063"/>
<circle cx="784.3" cy="640.2" r="9.5" fill="#28ae80"/>
<circle cx="511.6" cy="672.9" r="9.5" fill="#39568c"/>
<circle cx="365.4" cy="580.5" r="9.5" fill="#f1e51d"/>
<circle cx="600.5" cy="739.3" r="9.5" fill="#228c8d"/>
<circle cx="489.8" cy="749.2" r="9.5" fill="#2e6f8e"/>
<circle cx="439.1" cy="477.4" r="9.5" fill="#b2dd2d"/>
<circle cx="469.6" cy="341.6" r="9.5" fill="#fde725"/>
<circle cx="741.9" cy="650.0" r="9.5" fill="#22a884"/>
<circle cx="428.5" cy="548.2" r="9.5" fill="#b0dd2f"/>
<circle cx="489.6" cy="610.4" r="9.5" fill="#84d44b"/>
<circle cx="424.8" cy="570.9" r="9.5" fill="#7fd34e"/>
<circle cx="644.7" cy="588.8" r="9.5" fill="#56c667"/>
<circle cx="722.8" cy="683.7" r="9.5" fill="#218f8d"/>
<circle cx="365.6" cy="593.3" r="9.5" fill="#31b57b"/>
<circle cx="431.4" cy="556.6" r="9.5" fill="#cae11f"/>
<circle cx="666.5" cy="645.9" r="9.5" fill="#31668e"/>
<circle cx="701.5" cy="674.3" r="9.5" fill="#39568c"/>
<circle cx="551.9" cy="443.0" r="9.5" fill="#67cc5c"/>
<circle cx="433.7" cy="465.5" r="9.5" fill="#cae11f"/>
<circle cx="574.3" cy="710.3" r="9.5" fill="#453882"/>
<circle cx="521.1" cy="478.9" r="9.5" fill="#f1e51d"/>
<circle cx="479.4" cy="714.5" r="9.5" fill="#463480"/>
<circle cx="631.0" cy="783.6" r="9.5" fill="#440154"/>
<circle cx="785.8" cy="590.1" r="9.5" fill="#77d153"/>
<circle cx="749.7" cy="615.0" r="9.5" fill="#39558c"/>
<circle cx="706.6" cy="577.1" r="9.5" fill="#2fb47c"/>
<circle cx="342.9" cy="538.9" r="9.5" fill="#dfe318"/>
<circle cx="665.4" cy="432.3" r="9.5" fill="#84d44b"/>
<circle cx="609.6" cy="416.2" r="9.5" fill="#2a778e"/>
<circle cx="451.4" cy="483.6" r="9.5" fill="#f1e51d"/>
<circle cx="777.0" cy="680.0" r="9.5" fill="#25ab82"/>
<circle cx="384.0" cy="377.6" r="9.5" fill="#48c16e"/>
<circle cx="688.5" cy="463.3" r="9.5" fill="#2db27d"/>
<circle cx="576.8" cy="651.2" r="9.5" fill="#34618d"/>
<circle cx="464.2" cy="641.5" r="9.5" fill="#29af7f"/>
<circle cx="478.2" cy="509.7" r="9.5" fill="#cde11d"/>
<circle cx="480.2" cy="582.4" r="9.5" fill="#60ca60"/>
<circle cx="752.1" cy="728.8" r="9.5" fill="#9bd93c"/>
<circle cx="511.4" cy="549.3" r="9.5" fill="#f1e51d"/>
<circle cx="581.6" cy="450.6" r="9.5" fill="#fde725"/>
<circle cx="768.8" cy="679.6" r="9.5" fill="#20928c"/>
<circle cx="830.9" cy="630.2" r="9.5" fill="#424086"/>
<circle cx="724.5" cy="654.4" r="9.5" fill="#2b758e"/>
<circle cx="361.6" cy="516.4" r="9.5" fill="#6ece58"/>
<circle cx="686.4" cy="737.3" r="9.5" fill="#38588c"/>
<circle cx="740.4" cy="647.3" r="9.5" fill="#27808e"/>
<circle cx="494.0" cy="679.4" r="9.5" fill="#20a486"/>
<circle cx="750.8" cy="574.6" r="9.5" fill="#46307e"/>
<circle cx="696.0" cy="621.1" r="9.5" fill="#440154"/>
<circle cx="574.6" cy="518.2" r="9.5" fill="#9dd93b"/>
<circle cx="398.6" cy="493.6" r="9.5" fill="#d8e219"/>
<circle cx="356.2" cy="399.9" r="9.5" fill="#93d741"/>
<circle cx="457.8" cy="604.5" r="9.5" fill="#95d840"/>
<circle cx="370.4" cy="606.7" r="9.5" fill="#38b977"/>
<circle cx="635.9" cy="662.2" r="9.5" fill="#277f8e"/>
<circle cx="368.6" cy="568.9" r="9.5" fill="#50c46a"/>
<circle cx="462.8" cy="612.6" r="9.5" fill="#7cd250"/>
<circle cx="566.6" cy="456.6" r="9.5" fill="#20a486"/>
<circle cx="461.3" cy="600.6" r="9.5" fill="#56c667"/>
<circle cx="588.3" cy="508.2" r="9.5" fill="#84d44b"/>
<circle cx="411.1" cy="373.8" r="9.5" fill="#5cc863"/>
<circle cx="355.0" cy="656.2" r="9.5" fill="#21918c"/>
<circle cx="424.7" cy="548.2" r="9.5" fill="#77d153"/>
<circle cx="536.6" cy="342.7" r="9.5" fill="#c2df23"/>
<circle cx="647.4" cy="589.4" r="9.5" fill="#21a685"/>
<circle cx="447.4" cy="558.2" r="9.5" fill="#89d548"/>
<circle cx="673.4" cy="647.1" r="9.5" fill="#2f6c8e"/>
<circle cx="539.2" cy="520.8" r="9.5" fill="#a2da37"/>
<circle cx="802.0" cy="742.4" r="9.5" fill="#453581"/>
<circle cx="620.8" cy="468.4" r="9.5" fill="#90d743"/>
<circle cx="414.3" cy="566.8" r="9.5" fill="#67cc5c"/>
<circle cx="347.2" cy="611.3" r="9.5" fill="#2eb37c"/>
<circle cx="751.4" cy="635.7" r="9.5" fill="#228b8d"/>
<circle cx="409.1" cy="608.5" r="9.5" fill="#35b779"/>
<circle cx="687.0" cy="720.6" r="9.5" fill="#32648e"/>
<circle cx="749.6" cy="757.1" r="9.5" fill="#25858e"/>
<circle cx="850.1" cy="770.7" r="9.5" fill="#26828e"/>
<circle cx="514.0" cy="435.9" r="9.5" fill="#b2dd2d"/>
<circle cx="353.0" cy="567.0" r="9.5" fill="#29af7f"/>
<circle cx="435.9" cy="436.4" r="9.5" fill="#54c568"/>
<circle cx="441.4" cy="364.4" r="9.5" fill="#fde725"/>
<circle cx="519.8" cy="432.3" r="9.5" fill="#a2da37"/>
<circle cx="582.5" cy="494.8" r="9.5" fill="#2db27d"/>
<circle cx="541.3" cy="416.2" r="9.5" fill="#a0da39"/>
<circle cx="461.9" cy="778.4" r="9.5" fill="#453581"/>
<circle cx="441.0" cy="433.4" r="9.5" fill="#e2e418"/>
<circle cx="553.9" cy="582.2" r="9.5" fill="#67cc5c"/>
<circle cx="361.6" cy="461.6" r="9.5" fill="#d2e21b"/>
<circle cx="373.9" cy="366.4" r="9.5" fill="#fde725"/>
<circle cx="598.3" cy="527.7" r="9.5" fill="#48c16e"/>
<circle cx="533.7" cy="552.5" r="9.5" fill="#fde725"/>
<circle cx="431.5" cy="477.6" r="9.5" fill="#fde725"/>
<circle cx="768.5" cy="781.9" r="9.5" fill="#31678e"/>
<circle cx="587.8" cy="636.8" r="9.5" fill="#24aa83"/>
<circle cx="786.7" cy="752.6" r="9.5" fill="#481a6c"/>
<circle cx="593.4" cy="520.4" r="9.5" fill="#56c667"/>
<circle cx="699.7" cy="722.1" r="9.5" fill="#24878e"/>
<circle cx="802.1" cy="774.7" r="9.5" fill="#3d4d8a"/>
<circle cx="533.5" cy="676.6" r="9.5" fill="#3a548c"/>
<circle cx="569.2" cy="422.2" r="9.5" fill="#fde725"/>
<circle cx="595.2" cy="666.7" r="9.5" fill="#1f988b"/>
<circle cx="464.0" cy="664.6" r="9.5" fill="#2db27d"/>
<circle cx="701.7" cy="458.8" r="9.5" fill="#54c568"/>
<circle cx="577.8" cy="780.0" r="9.5" fill="#440154"/>
<circle cx="359.6" cy="578.5" r="9.5" fill="#5ec962"/>
<circle cx="668.9" cy="621.8" r="9.5" fill="#46337f"/>
<circle cx="743.5" cy="608.7" r="9.5" fill="#2e6d8e"/>
<circle cx="579.6" cy="693.6" r="9.5" fill="#32b67a"/>
<circle cx="824.3" cy="738.8" r="9.5" fill="#1f9f88"/>
<circle cx="857.8" cy="665.6" r="9.5" fill="#228d8d"/>
<circle cx="607.7" cy="685.1" r="9.5" fill="#228d8d"/>
<circle cx="676.7" cy="688.9" r="9.5" fill="#1f948c"/>
<circle cx="498.3" cy="445.0" r="9.5" fill="#dfe318"/>
<circle cx="737.4" cy="675.8" r="9.5" fill="#24868e"/>
<circle cx="412.8" cy="582.5" r="9.5" fill="#70cf57"/>
<circle cx="552.5" cy="508.9" r="9.5" fill="#69cd5b"/>
<circle cx="361.1" cy="500.5" r="9.5" fill="#65cb5e"/>
<circle cx="752.5" cy="453.3" r="9.5" fill="#35b779"/>
<circle cx="610.6" cy="749.5" r="9.5" fill="#29798e"/>
<circle cx="829.4" cy="695.5" r="9.5" fill="#26828e"/>
<circle cx="384.4" cy="437.9" r="9.5" fill="#c5e021"/>
<circle cx="404.5" cy="629.3" r="9.5" fill="#4cc26c"/>
<circle cx="657.0" cy="713.2" r="9.5" fill="#2c738e"/>
<circle cx="694.9" cy="577.7" r="9.5" fill="#297a8e"/>
<circle cx="474.7" cy="644.6" r="9.5" fill="#4cc26c"/>
<circle cx="665.8" cy="604.7" r="9.5" fill="#287d8e"/>
<circle cx="409.8" cy="409.7" r="9.5" fill="#fde725"/>
<circle cx="760.8" cy="725.2" r="9.5" fill="#375b8d"/>
<circle cx="327.9" cy="454.6" r="9.5" fill="#6ece58"/>
<circle cx="502.1" cy="711.2" r="9.5" fill="#46337f"/>
<circle cx="510.4" cy="309.5" r="9.5" fill="#90d743"/>
<circle cx="440.0" cy="379.9" r="9.5" fill="#bddf26"/>
<circle cx="648.1" cy="454.3" r="9.5" fill="#5cc863"/>
<circle cx="392.4" cy="674.2" r="9.5" fill="#24aa83"/>
<circle cx="674.7" cy="613.6" r="9.5" fill="#277f8e"/>
<circle cx="637.8" cy="552.7" r="9.5" fill="#6ccd5a"/>
<circle cx="576.5" cy="681.1" r="9.5" fill="#25858e"/>
<circle cx="639.5" cy="710.6" r="9.5" fill="#25ac82"/>
<circle cx="490.8" cy="716.0" r="9.5" fill="#1e9b8a"/>
<circle cx="704.6" cy="627.4" r="9.5" fill="#2a788e"/>
<circle cx="367.9" cy="448.7" r="9.5" fill="#fde725"/>
<circle cx="436.7" cy="633.3" r="9.5" fill="#22a884"/>
<circle cx="593.7" cy="610.7" r="9.5" fill="#20938c"/>
<circle cx="725.5" cy="677.8" r="9.5" fill="#1f9e89"/>
<circle cx="473.8" cy="533.4" r="9.5" fill="#d0e11c"/>
<circle cx="499.7" cy="683.6" r="9.5" fill="#24aa83"/>
<circle cx="622.6" cy="568.5" r="9.5" fill="#2db27d"/>
<circle cx="689.6" cy="711.0" r="9.5" fill="#404588"/>
<circle cx="428.3" cy="373.4" r="9.5" fill="#50c46a"/>
<circle cx="405.8" cy="405.4" r="9.5" fill="#dfe318"/>
<circle cx="538.9" cy="556.8" r="9.5" fill="#90d743"/>
<circle cx="760.5" cy="738.5" r="9.5" fill="#23898e"/>
<circle cx="620.3" cy="368.5" r="9.5" fill="#90d743"/>
<circle cx="597.0" cy="646.5" r="9.5" fill="#1f9a8a"/>
<circle cx="793.4" cy="674.7" r="9.5" fill="#30698e"/>
<circle cx="338.0" cy="445.4" r="9.5" fill="#4ac16d"/>
<circle cx="813.9" cy="716.1" r="9.5" fill="#1f9e89"/>
<circle cx="356.0" cy="416.0" r="9.5" fill="#b5de2b"/>
<circle cx="656.2" cy="546.1" r="9.5" fill="#c8e020"/>
<circle cx="782.0" cy="547.8" r="9.5" fill="#2ab07f"/>
<circle cx="724.5" cy="633.7" r="9.5" fill="#1e9c89"/>
<circle cx="551.6" cy="546.2" r="9.5" fill="#cde11d"/>
<circle cx="584.7" cy="626.6" r="9.5" fill="#24868e"/>
<circle cx="501.9" cy="357.5" r="9.5" fill="#fde725"/>
<circle cx="821.8" cy="591.7" r="9.5" fill="#20938c"/>
<circle cx="524.3" cy="416.1" r="9.5" fill="#e7e419"/>
<circle cx="575.7" cy="583.3" r="9.5" fill="#23a983"/>
<circle cx="535.5" cy="526.9" r="9.5" fill="#b5de2b"/>
<circle cx="733.4" cy="728.0" r="9.5" fill="#2fb47c"/>
<circle cx="702.7" cy="513.8" r="9.5" fill="#23888e"/>
<circle cx="703.8" cy="775.4" r="9.5" fill="#306a8e"/>
<circle cx="417.9" cy="388.8" r="9.5" fill="#efe51c"/>
<circle cx="492.2" cy="728.7" r="9.5" fill="#404688"/>
<circle cx="531.6" cy="710.2" r="9.5" fill="#42be71"/>
<circle cx="494.2" cy="603.3" r="9.5" fill="#3bbb75"/>
<circle cx="823.8" cy="688.1" r="9.5" fill="#440154"/>
<circle cx="452.2" cy="595.4" r="9.5" fill="#50c46a"/>
<circle cx="720.3" cy="703.0" r="9.5" fill="#2f6b8e"/>
<circle cx="598.2" cy="474.3" r="9.5" fill="#c2df23"/>
<circle cx="383.7" cy="548.5" r="9.5" fill="#e2e418"/>
<circle cx="764.8" cy="603.6" r="9.5" fill="#21908d"/>
<circle cx="657.2" cy="614.8" r="9.5" fill="#21918c"/>
<circle cx="630.2" cy="614.7" r="9.5" fill="#20938c"/>
<circle cx="774.6" cy="662.8" r="9.5" fill="#23888e"/>
<circle cx="506.8" cy="780.9" r="9.5" fill="#472a7a"/>
<circle cx="707.9" cy="658.2" r="9.5" fill="#277f8e"/>
<circle cx="636.6" cy="376.3" r="9.5" fill="#5ac864"/>
<circle cx="556.7" cy="421.0" r="9.5" fill="#2ab07f"/>
<circle cx="599.8" cy="732.3" r="9.5" fill="#297a8e"/>
<circle cx="602.8" cy="338.6" r="9.5" fill="#7cd250"/>
<circle cx="368.8" cy="578.1" r="9.5" fill="#90d743"/>
<circle cx="391.1" cy="354.6" r="9.5" fill="#e5e419"/>
<circle cx="616.8" cy="558.7" r="9.5" fill="#29798e"/>
<circle cx="700.9" cy="501.5" r="9.5" fill="#3fbc73"/>
<circle cx="411.8" cy="636.9" r="9.5" fill="#228c8d"/>
<circle cx="490.4" cy="362.7" r="9.5" fill="#7fd34e"/>
<circle cx="372.5" cy="542.2" r="9.5" fill="#46c06f"/>
<circle cx="544.9" cy="471.0" r="9.5" fill="#ece51b"/>
<circle cx="416.3" cy="442.4" r="9.5" fill="#fde725"/>
<circle cx="853.4" cy="742.8" r="9.5" fill="#481769"/>
<circle cx="848.4" cy="652.6" r="9.5" fill="#472e7c"/>
<circle cx="874.8" cy="549.6" r="9.5" fill="#27ad81"/>
<circle cx="559.1" cy="339.8" r="9.5" fill="#c8e020"/>
<circle cx="753.3" cy="512.0" r="9.5" fill="#26ad81"/>
<circle cx="683.9" cy="632.1" r="9.5" fill="#50c46a"/>
<circle cx="439.6" cy="734.2" r="9.5" fill="#3b528b"/>
<circle cx="639.7" cy="461.6" r="9.5" fill="#6ece58"/>
<circle cx="596.1" cy="569.9" r="9.5" fill="#1f998a"/>
<circle cx="433.0" cy="441.9" r="9.5" fill="#56c667"/>
<circle cx="804.0" cy="493.4" r="9.5" fill="#1fa188"/>
<circle cx="677.2" cy="683.5" r="9.5" fill="#21a685"/>
<circle cx="529.1" cy="416.2" r="9.5" fill="#f4e61e"/>
<circle cx="752.3" cy="644.9" r="9.5" fill="#21908d"/>
<circle cx="468.3" cy="468.3" r="9.5" fill="#b8de29"/>
<circle cx="829.2" cy="634.5" r="9.5" fill="#25858e"/>
<circle cx="663.7" cy="380.7" r="9.5" fill="#75d054"/>
<circle cx="758.6" cy="589.5" r="9.5" fill="#31b57b"/>
<circle cx="645.0" cy="602.9" r="9.5" fill="#77d153"/>
<circle cx="614.6" cy="756.2" r="9.5" fill="#2c728e"/>
<circle cx="675.5" cy="659.4" r="9.5" fill="#20a486"/>
<circle cx="360.5" cy="429.0" r="9.5" fill="#a0da39"/>
<circle cx="351.6" cy="414.3" r="9.5" fill="#eae51a"/>
<circle cx="779.4" cy="668.2" r="9.5" fill="#228c8d"/>
<circle cx="395.3" cy="597.9" r="9.5" fill="#2eb37c"/>
<circle cx="765.4" cy="556.7" r="9.5" fill="#63cb5f"/>
<circle cx="704.6" cy="727.0" r="9.5" fill="#238a8d"/>
<circle cx="636.2" cy="537.6" r="9.5" fill="#28ae80"/>
<circle cx="321.3" cy="425.5" r="9.5" fill="#a5db36"/>
<circle cx="502.9" cy="433.4" r="9.5" fill="#efe51c"/>
<circle cx="821.9" cy="556.0" r="9.5" fill="#1fa187"/>
<circle cx="706.1" cy="537.7" r="9.5" fill="#86d549"/>
<circle cx="460.2" cy="526.0" r="9.5" fill="#42be71"/>
<circle cx="472.5" cy="508.6" r="9.5" fill="#f4e61e"/>
<circle cx="823.1" cy="681.1" r="9.5" fill="#2f6b8e"/>
<circle cx="604.0" cy="465.0" r="9.5" fill="#d0e11c"/>
<circle cx="434.9" cy="488.4" r="9.5" fill="#ece51b"/>
<circle cx="704.6" cy="646.9" r="9.5" fill="#33638d"/>
<circle cx="600.8" cy="622.5" r="9.5" fill="#3dbc74"/>
<circle cx="605.8" cy="618.1" r="9.5" fill="#40bd72"/>
<circle cx="506.3" cy="665.8" r="9.5" fill="#23898e"/>
<circle cx="798.5" cy="584.2" r="9.5" fill="#1fa287"/>
<circle cx="557.2" cy="614.0" r="9.5" fill="#7fd34e"/>
<circle cx="426.2" cy="630.1" r="9.5" fill="#20a486"/>
<circle cx="544.0" cy="659.0" r="9.5" fill="#277e8e"/>
<circle cx="573.8" cy="696.0" r="9.5" fill="#277e8e"/>
<circle cx="884.3" cy="742.3" r="9.5" fill="#33628d"/>
<circle cx="855.9" cy="527.2" r="9.5" fill="#1f9f88"/>
<circle cx="453.1" cy="528.2" r="9.5" fill="#f1e51d"/>
<circle cx="712.9" cy="701.0" r="9.5" fill="#365d8d"/>
<circle cx="792.6" cy="714.9" r="9.5" fill="#30698e"/>
<circle cx="496.6" cy="531.3" r="9.5" fill="#93d741"/>
<circle cx="367.4" cy="650.7" r="9.5" fill="#25ac82"/>
<circle cx="661.5" cy="786.3" r="9.5" fill="#365c8d"/>
<circle cx="316.3" cy="501.6" r="9.5" fill="#d8e219"/>
<circle cx="677.6" cy="484.7" r="9.5" fill="#25ac82"/>
<circle cx="729.8" cy="605.7" r="9.5" fill="#375b8d"/>
<circle cx="851.1" cy="642.6" r="9.5" fill="#40bd72"/>
<circle cx="666.4" cy="394.4" r="9.5" fill="#38b977"/>
<circle cx="696.0" cy="796.2" r="9.5" fill="#287d8e"/>
<circle cx="410.7" cy="450.1" r="9.5" fill="#cde11d"/>
<circle cx="521.8" cy="595.9" r="9.5" fill="#1e9b8a"/>
<circle cx="529.1" cy="499.5" r="9.5" fill="#9dd93b"/>
<circle cx="333.0" cy="475.7" r="9.5" fill="#93d741"/>
<circle cx="356.1" cy="552.0" r="9.5" fill="#cde11d"/>
<circle cx="749.0" cy="485.6" r="9.5" fill="#75d054"/>
<circle cx="362.8" cy="419.3" r="9.5" fill="#fde725"/>
<circle cx="410.5" cy="633.2" r="9.5" fill="#37b878"/>
<circle cx="620.1" cy="621.4" r="9.5" fill="#26ad81"/>
<circle cx="654.6" cy="723.1" r="9.5" fill="#1f948c"/>
<circle cx="485.5" cy="373.5" r="9.5" fill="#b8de29"/>
<circle cx="540.9" cy="518.1" r="9.5" fill="#eae51a"/>
<circle cx="497.2" cy="569.4" r="9.5" fill="#52c569"/>
<circle cx="585.8" cy="642.5" r="9.5" fill="#29798e"/>
<circle cx="403.0" cy="444.0" r="9.5" fill="#90d743"/>
<circle cx="858.7" cy="691.5" r="9.5" fill="#24aa83"/>
<circle cx="588.5" cy="561.7" r="9.5" fill="#2e6f8e"/>
<circle cx="506.5" cy="675.4" r="9.5" fill="#2eb37c"/>
<circle cx="499.9" cy="575.7" r="9.5" fill="#67cc5c"/>
<circle cx="410.4" cy="435.9" r="9.5" fill="#f1e51d"/>
<circle cx="671.3" cy="660.7" r="9.5" fill="#35b779"/>
<circle cx="381.6" cy="440.1" r="9.5" fill="#90d743"/>
<circle cx="439.2" cy="540.2" r="9.5" fill="#bddf26"/>
<circle cx="720.2" cy="661.4" r="9.5" fill="#2f6c8e"/>
<circle cx="392.0" cy="685.4" r="9.5" fill="#23898e"/>
<circle cx="363.0" cy="395.7" r="9.5" fill="#fde725"/>
<circle cx="532.0" cy="557.6" r="9.5" fill="#b8de29"/>
<circle cx="711.9" cy="659.5" r="9.5" fill="#1e9d89"/>
<circle cx="498.9" cy="568.1" r="9.5" fill="#65cb5e"/>
<circle cx="449.7" cy="573.1" r="9.5" fill="#c8e020"/>
<circle cx="805.5" cy="598.3" r="9.5" fill="#25858e"/>
<circle cx="599.4" cy="355.0" r="9.5" fill="#a0da39"/>
<circle cx="646.5" cy="767.1" r="9.5" fill="#297b8e"/>
<circle cx="434.1" cy="572.9" r="9.5" fill="#86d549"/>
<circle cx="378.3" cy="502.1" r="9.5" fill="#fde725"/>
<circle cx="806.3" cy="530.5" r="9.5" fill="#56c667"/>
<circle cx="644.7" cy="502.8" r="9.5" fill="#31b57b"/>
<circle cx="408.5" cy="674.1" r="9.5" fill="#77d153"/>
<circle cx="668.4" cy="458.1" r="9.5" fill="#35b779"/>
<circle cx="662.0" cy="502.6" r="9.5" fill="#31b57b"/>
<circle cx="528.7" cy="605.5" r="9.5" fill="#73d056"/>
<circle cx="528.6" cy="421.3" r="9.5" fill="#fde725"/>
<circle cx="478.6" cy="772.6" r="9.5" fill="#2a788e"/>
<circle cx="403.7" cy="390.5" r="9.5" fill="#77d153"/>
<circle cx="890.4" cy="643.8" r="9.5" fill="#424086"/>
<circle cx="569.6" cy="675.3" r="9.5" fill="#277e8e"/>
<circle cx="510.4" cy="661.6" r="9.5" fill="#25838e"/>
<circle cx="496.6" cy="666.4" r="9.5" fill="#56c667"/>
<circle cx="436.2" cy="576.5" r="9.5" fill="#1f948c"/>
<circle cx="591.7" cy="379.0" r="9.5" fill="#7fd34e"/>
<circle cx="505.5" cy="660.4" r="9.5" fill="#37b878"/>
<circle cx="682.8" cy="654.8" r="9.5" fill="#25858e"/>
<circle cx="451.7" cy="652.4" r="9.5" fill="#23898e"/>
<circle cx="637.4" cy="500.3" r="9.5" fill="#1fa187"/>
<circle cx="489.7" cy="630.1" r="9.5" fill="#2ab07f"/>
<circle cx="394.4" cy="344.0" r="9.5" fill="#22a884"/>
<circle cx="656.0" cy="601.6" r="9.5" fill="#228d8d"/>
<circle cx="430.1" cy="550.7" r="9.5" fill="#73d056"/>
<circle cx="762.7" cy="696.4" r="9.5" fill="#482071"/>
<circle cx="602.5" cy="468.3" r="9.5" fill="#fde725"/>
<circle cx="359.4" cy="546.1" r="9.5" fill="#dde318"/>
<circle cx="477.3" cy="514.5" r="9.5" fill="#69cd5b"/>
<circle cx="436.6" cy="366.4" r="9.5" fill="#46c06f"/>
<circle cx="691.6" cy="523.6" r="9.5" fill="#21908d"/>
<circle cx="475.4" cy="690.0" r="9.5" fill="#424186"/>
<circle cx="758.5" cy="654.1" r="9.5" fill="#1f998a"/>
<circle cx="436.2" cy="475.5" r="9.5" fill="#addc30"/>
<circle cx="877.5" cy="709.7" r="9.5" fill="#3dbc74"/>
<circle cx="556.0" cy="742.2" r="9.5" fill="#3e4989"/>
<circle cx="635.7" cy="694.1" r="9.5" fill="#2a788e"/>
<circle cx="704.9" cy="600.7" r="9.5" fill="#27ad81"/>
<circle cx="511.3" cy="466.4" r="9.5" fill="#fde725"/>
<circle cx="537.9" cy="587.8" r="9.5" fill="#6ccd5a"/>
<circle cx="634.5" cy="569.8" r="9.5" fill="#1fa088"/>
<circle cx="517.1" cy="487.9" r="9.5" fill="#c5e021"/>
<circle cx="504.5" cy="700.0" r="9.5" fill="#1f9a8a"/>
<circle cx="563.6" cy="589.6" r="9.5" fill="#69cd5b"/>
<circle cx="488.5" cy="452.3" r="9.5" fill="#b8de29"/>
<circle cx="688.6" cy="449.1" r="9.5" fill="#5ac864"/>
<circle cx="569.6" cy="718.1" r="9.5" fill="#277f8e"/>
<circle cx="508.6" cy="766.9" r="9.5" fill="#21a685"/>
<circle cx="599.2" cy="776.2" r="9.5" fill="#472e7c"/>
<circle cx="586.2" cy="628.4" r="9.5" fill="#52c569"/>
<circle cx="679.9" cy="635.6" r="9.5" fill="#228b8d"/>
<circle cx="852.5" cy="652.4" r="9.5" fill="#26828e"/>
<circle cx="522.2" cy="403.2" r="9.5" fill="#d2e21b"/>
<circle cx="447.9" cy="414.5" r="9.5" fill="#ece51b"/>
<circle cx="662.1" cy="667.0" r="9.5" fill="#31688e"/>
<circle cx="725.9" cy="776.3" r="9.5" fill="#1f948c"/>
<circle cx="559.0" cy="693.6" r="9.5" fill="#365c8d"/>
<circle cx="631.2" cy="563.1" r="9.5" fill="#9bd93c"/>
<circle cx="573.7" cy="483.1" r="9.5" fill="#bddf26"/>
<circle cx="403.8" cy="606.8" r="9.5" fill="#50c46a"/>
<circle cx="448.0" cy="636.5" r="9.5" fill="#20928c"/>
<circle cx="463.1" cy="397.0" r="9.5" fill="#2ab07f"/>
<circle cx="771.3" cy="623.9" r="9.5" fill="#56c667"/>
<circle cx="708.8" cy="443.1" r="9.5" fill="#31688e"/>
<circle cx="607.3" cy="654.1" r="9.5" fill="#25838e"/>
<circle cx="455.8" cy="551.7" r="9.5" fill="#52c569"/>
<circle cx="524.1" cy="762.7" r="9.5" fill="#32658e"/>
<circle cx="499.9" cy="509.0" r="9.5" fill="#34b679"/>
<circle cx="740.4" cy="666.6" r="9.5" fill="#2e6f8e"/>
<circle cx="669.1" cy="672.5" r="9.5" fill="#1fa188"/>
<circle cx="727.2" cy="683.3" r="9.5" fill="#2ab07f"/>
<circle cx="596.3" cy="383.1" r="9.5" fill="#d5e21a"/>
<circle cx="739.9" cy="659.5" r="9.5" fill="#2e6f8e"/>
<circle cx="790.5" cy="578.8" r="9.5" fill="#23898e"/>
<circle cx="803.7" cy="642.0" r="9.5" fill="#bddf26"/>
<circle cx="395.1" cy="550.4" r="9.5" fill="#a5db36"/>
<circle cx="387.1" cy="488.8" r="9.5" fill="#c5e021"/>
<circle cx="856.7" cy="620.2" r="9.5" fill="#1fa088"/>
<circle cx="516.9" cy="467.0" r="9.5" fill="#bddf26"/>
<circle cx="652.4" cy="496.5" r="9.5" fill="#d0e11c"/>
<circle cx="635.7" cy="616.2" r="9.5" fill="#21908d"/>
<circle cx="460.8" cy="681.5" r="9.5" fill="#a5db36"/>
<circle cx="449.3" cy="438.7" r="9.5" fill="#fde725"/>
<circle cx="721.1" cy="732.9" r="9.5" fill="#481b6d"/>
<circle cx="687.4" cy="457.1" r="9.5" fill="#9dd93b"/>
<circle cx="630.1" cy="403.1" r="9.5" fill="#dae319"/>
<circle cx="516.6" cy="624.4" r="9.5" fill="#21a585"/>
<circle cx="636.9" cy="430.7" r="9.5" fill="#54c568"/>
<circle cx="493.2" cy="515.0" r="9.5" fill="#2ab07f"/>
<circle cx="608.9" cy="560.3" r="9.5" fill="#5cc863"/>
<circle cx="670.2" cy="598.0" r="9.5" fill="#2e6f8e"/>
<circle cx="408.4" cy="403.2" r="9.5" fill="#fde725"/>
<circle cx="854.0" cy="625.2" r="9.5" fill="#26818e"/>
<circle cx="871.2" cy="755.2" r="9.5" fill="#355f8d"/>
<circle cx="331.4" cy="637.5" r="9.5" fill="#69cd5b"/>
<circle cx="790.6" cy="699.4" r="9.5" fill="#404688"/>
<circle cx="381.8" cy="550.4" r="9.5" fill="#7ad151"/>
<circle cx="732.9" cy="524.5" r="9.5" fill="#3d4d8a"/>
<circle cx="368.4" cy="650.0" r="9.5" fill="#35b779"/>
<circle cx="522.1" cy="709.7" r="9.5" fill="#287c8e"/>
<circle cx="487.9" cy="665.0" r="9.5" fill="#21a585"/>
<circle cx="590.8" cy="669.0" r="9.5" fill="#26828e"/>
<circle cx="807.9" cy="755.5" r="9.5" fill="#433d84"/>
<circle cx="780.3" cy="644.2" r="9.5" fill="#27ad81"/>
<circle cx="517.4" cy="699.7" r="9.5" fill="#26828e"/>
<circle cx="687.0" cy="440.2" r="9.5" fill="#54c568"/>
<circle cx="590.1" cy="572.7" r="9.5" fill="#67cc5c"/>
<circle cx="624.5" cy="475.7" r="9.5" fill="#9bd93c"/>
<circle cx="557.4" cy="739.9" r="9.5" fill="#440154"/>
<circle cx="648.9" cy="458.9" r="9.5" fill="#60ca60"/>
<circle cx="622.2" cy="478.7" r="9.5" fill="#7ad151"/>
<circle cx="859.4" cy="700.8" r="9.5" fill="#2b748e"/>
<circle cx="571.1" cy="530.0" r="9.5" fill="#28ae80"/>
<circle cx="511.9" cy="654.7" r="9.5" fill="#b2dd2d"/>
<circle cx="800.8" cy="575.7" r="9.5" fill="#44bf70"/>
<circle cx="444.8" cy="757.2" r="9.5" fill="#24878e"/>
<circle cx="688.6" cy="641.3" r="9.5" fill="#2d718e"/>
<circle cx="392.7" cy="382.5" r="9.5" fill="#84d44b"/>
<circle cx="753.9" cy="714.5" r="9.5" fill="#1fa188"/>
<circle cx="346.2" cy="425.0" r="9.5" fill="#eae51a"/>
<circle cx="551.1" cy="685.9" r="9.5" fill="#21a585"/>
<circle cx="736.7" cy="755.5" r="9.5" fill="#440154"/>
<circle cx="576.3" cy="766.9" r="9.5" fill="#1fa088"/>
<circle cx="559.5" cy="741.2" r="9.5" fill="#4ac16d"/>
<circle cx="779.5" cy="694.8" r="9.5" fill="#25ac82"/>
<circle cx="595.2" cy="514.5" r="9.5" fill="#5cc863"/>
<circle cx="653.9" cy="561.1" r="9.5" fill="#277e8e"/>
<circle cx="409.2" cy="704.3" r="9.5" fill="#3dbc74"/>
<circle cx="526.2" cy="680.8" r="9.5" fill="#1f9f88"/>
<circle cx="646.1" cy="467.9" r="9.5" fill="#c5e021"/>
<circle cx="571.4" cy="443.4" r="9.5" fill="#90d743"/>
<circle cx="695.7" cy="522.3" r="9.5" fill="#34b679"/>
<circle cx="555.2" cy="691.1" r="9.5" fill="#30698e"/>
<circle cx="373.1" cy="534.0" r="9.5" fill="#dfe318"/>
<circle cx="436.9" cy="369.4" r="9.5" fill="#fbe723"/>
<circle cx="622.1" cy="741.4" r="9.5" fill="#32648e"/>
<circle cx="750.3" cy="517.6" r="9.5" fill="#34608d"/>
<circle cx="561.9" cy="551.6" r="9.5" fill="#8bd646"/>
<circle cx="755.8" cy="732.7" r="9.5" fill="#3f4788"/>
<circle cx="755.0" cy="525.2" r="9.5" fill="#35b779"/>
<circle cx="641.3" cy="518.1" r="9.5" fill="#1fa187"/>
<circle cx="631.8" cy="751.5" r="9.5" fill="#20a386"/>
<circle cx="797.3" cy="552.3" r="9.5" fill="#21918c"/>
<circle cx="546.5" cy="657.2" r="9.5" fill="#25838e"/>
<circle cx="501.7" cy="674.8" r="9.5" fill="#50c46a"/>
<circle cx="771.4" cy="577.1" r="9.5" fill="#1e9d89"/>
<circle cx="826.2" cy="588.3" r="9.5" fill="#7ad151"/>
<circle cx="738.9" cy="476.0" r="9.5" fill="#443b84"/>
<circle cx="627.0" cy="434.9" r="9.5" fill="#8ed645"/>
<circle cx="749.3" cy="634.3" r="9.5" fill="#20a386"/>
<circle cx="716.5" cy="606.2" r="9.5" fill="#2cb17e"/>
<circle cx="541.1" cy="751.7" r="9.5" fill="#472a7a"/>
<circle cx="540.8" cy="557.6" r="9.5" fill="#4ac16d"/>
<circle cx="368.4" cy="433.8" r="9.5" fill="#218f8d"/>
<circle cx="652.8" cy="545.8" r="9.5" fill="#20a486"/>
<circle cx="437.4" cy="337.4" r="9.5" fill="#dae319"/>
<circle cx="384.5" cy="502.0" r="9.5" fill="#a2da37"/>
<circle cx="500.8" cy="440.6" r="9.5" fill="#d0e11c"/>
<circle cx="570.7" cy="463.5" r="9.5" fill="#77d153"/>
<circle cx="810.0" cy="592.4" r="9.5" fill="#5ec962"/>
<circle cx="427.2" cy="473.7" r="9.5" fill="#c8e020"/>
<circle cx="516.2" cy="389.7" r="9.5" fill="#9dd93b"/>
<circle cx="343.0" cy="588.4" r="9.5" fill="#7fd34e"/>
<circle cx="475.4" cy="643.6" r="9.5" fill="#404688"/>
<circle cx="614.0" cy="386.9" r="9.5" fill="#d5e21a"/>
<circle cx="530.7" cy="718.8" r="9.5" fill="#450457"/>
<circle cx="377.2" cy="507.8" r="9.5" fill="#d2e21b"/>
<circle cx="599.3" cy="401.8" r="9.5" fill="#52c569"/>
<circle cx="581.1" cy="601.2" r="9.5" fill="#fde725"/>
<circle cx="635.0" cy="746.5" r="9.5" fill="#365c8d"/>
<circle cx="634.3" cy="467.6" r="9.5" fill="#28ae80"/>
<circle cx="388.4" cy="377.4" r="9.5" fill="#b2dd2d"/>
<circle cx="480.8" cy="458.6" r="9.5" fill="#56c667"/>
<circle cx="512.5" cy="511.9" r="9.5" fill="#81d34d"/>
<circle cx="584.6" cy="711.0" r="9.5" fill="#355f8d"/>
<circle cx="419.4" cy="389.5" r="9.5" fill="#7cd250"/>
<circle cx="638.0" cy="460.1" r="9.5" fill="#6ece58"/>
<circle cx="469.7" cy="574.1" r="9.5" fill="#fde725"/>
<circle cx="455.3" cy="624.5" r="9.5" fill="#4ec36b"/>
<circle cx="386.4" cy="608.2" r="9.5" fill="#2ab07f"/>
<circle cx="419.1" cy="674.0" r="9.5" fill="#46c06f"/>
<circle cx="651.1" cy="563.3" r="9.5" fill="#58c765"/>
<circle cx="597.9" cy="534.0" r="9.5" fill="#98d83e"/>
<circle cx="359.0" cy="436.8" r="9.5" fill="#54c568"/>
<circle cx="747.0" cy="522.9" r="9.5" fill="#35b779"/>
<circle cx="609.2" cy="612.5" r="9.5" fill="#44bf70"/>
<circle cx="575.9" cy="489.1" r="9.5" fill="#b0dd2f"/>
<circle cx="629.9" cy="508.0" r="9.5" fill="#3bbb75"/>
<circle cx="462.4" cy="569.5" r="9.5" fill="#a0da39"/>
<circle cx="702.3" cy="729.5" r="9.5" fill="#33628d"/>
<circle cx="630.5" cy="613.9" r="9.5" fill="#24aa83"/>
<circle cx="700.0" cy="545.2" r="9.5" fill="#28ae80"/>
<circle cx="440.2" cy="456.8" r="9.5" fill="#bade28"/>
<circle cx="795.5" cy="639.9" r="9.5" fill="#3d4d8a"/>
<circle cx="492.4" cy="431.0" r="9.5" fill="#fbe723"/>
<circle cx="332.1" cy="493.1" r="9.5" fill="#fde725"/>
<circle cx="674.0" cy="514.1" r="9.5" fill="#31668e"/>
<circle cx="708.8" cy="587.5" r="9.5" fill="#31678e"/>
<circle cx="701.8" cy="507.3" r="9.5" fill="#44bf70"/>
<circle cx="653.8" cy="592.3" r="9.5" fill="#25858e"/>
<circle cx="862.5" cy="737.4" r="9.5" fill="#2f6c8e"/>
<circle cx="636.9" cy="553.5" r="9.5" fill="#1e9b8a"/>
<circle cx="413.8" cy="444.5" r="9.5" fill="#fde725"/>
<circle cx="645.5" cy="642.7" r="9.5" fill="#238a8d"/>
<circle cx="712.3" cy="600.3" r="9.5" fill="#3d4e8a"/>
<circle cx="482.0" cy="331.9" r="9.5" fill="#ece51b"/>
<circle cx="624.5" cy="689.6" r="9.5" fill="#23a983"/>
<circle cx="741.7" cy="769.1" r="9.5" fill="#365c8d"/>
<circle cx="704.3" cy="643.9" r="9.5" fill="#20a486"/>
<circle cx="361.4" cy="401.5" r="9.5" fill="#73d056"/>
<circle cx="546.3" cy="656.6" r="9.5" fill="#42be71"/>
<circle cx="457.5" cy="506.4" r="9.5" fill="#fde725"/>
<circle cx="613.4" cy="381.7" r="9.5" fill="#5ac864"/>
<circle cx="487.9" cy="631.4" r="9.5" fill="#21918c"/>
<circle cx="472.9" cy="535.0" r="9.5" fill="#4ec36b"/>
<circle cx="717.0" cy="598.5" r="9.5" fill="#25ab82"/>
<circle cx="613.5" cy="792.3" r="9.5" fill="#297a8e"/>
<circle cx="487.2" cy="702.8" r="9.5" fill="#1f9a8a"/>
<circle cx="351.3" cy="620.0" r="9.5" fill="#1e9d89"/>
<circle cx="538.9" cy="475.2" r="9.5" fill="#d5e21a"/>
<circle cx="459.6" cy="588.9" r="9.5" fill="#69cd5b"/>
<circle cx="601.9" cy="388.3" r="9.5" fill="#73d056"/>
<circle cx="575.6" cy="422.3" r="9.5" fill="#b5de2b"/>
<circle cx="660.3" cy="440.4" r="9.5" fill="#3aba76"/>
<circle cx="454.0" cy="586.2" r="9.5" fill="#37b878"/>
<circle cx="666.4" cy="751.4" r="9.5" fill="#37b878"/>
<circle cx="687.5" cy="465.2" r="9.5" fill="#1f958b"/>
<circle cx="732.4" cy="589.2" r="9.5" fill="#21908d"/>
<circle cx="619.7" cy="582.8" r="9.5" fill="#1fa188"/>
<circle cx="647.9" cy="735.1" r="9.5" fill="#433d84"/>
<circle cx="751.1" cy="538.1" r="9.5" fill="#25ab82"/>
<circle cx="393.8" cy="358.3" r="9.5" fill="#77d153"/>
<circle cx="664.8" cy="498.0" r="9.5" fill="#1f998a"/>
<circle cx="753.1" cy="527.2" r="9.5" fill="#69cd5b"/>
<circle cx="451.5" cy="647.5" r="9.5" fill="#228c8d"/>
<circle cx="478.2" cy="545.3" r="9.5" fill="#40bd72"/>
<circle cx="493.1" cy="730.1" r="9.5" fill="#2a788e"/>
<circle cx="491.8" cy="701.9" r="9.5" fill="#2a768e"/>
<circle cx="634.4" cy="411.7" r="9.5" fill="#52c569"/>
<circle cx="699.1" cy="700.7" r="9.5" fill="#54c568"/>
<circle cx="545.6" cy="417.9" r="9.5" fill="#efe51c"/>
<circle cx="343.2" cy="576.5" r="9.5" fill="#6ece58"/>
<circle cx="535.5" cy="765.4" r="9.5" fill="#23888e"/>
<circle cx="449.4" cy="469.6" r="9.5" fill="#93d741"/>
<circle cx="348.1" cy="581.5" r="9.5" fill="#c2df23"/>
<circle cx="499.8" cy="557.5" r="9.5" fill="#86d549"/>
<circle cx="888.5" cy="730.2" r="9.5" fill="#20928c"/>
<circle cx="397.8" cy="350.5" r="9.5" fill="#98d83e"/>
<circle cx="727.5" cy="585.7" r="9.5" fill="#287c8e"/>
<circle cx="413.1" cy="436.2" r="9.5" fill="#d5e21a"/>
<circle cx="348.7" cy="637.7" r="9.5" fill="#2fb47c"/>
<circle cx="435.6" cy="696.5" r="9.5" fill="#2d708e"/>
<circle cx="510.6" cy="495.2" r="9.5" fill="#b2dd2d"/>
<circle cx="435.3" cy="665.4" r="9.5" fill="#20938c"/>
<circle cx="692.5" cy="481.9" r="9.5" fill="#1f9f88"/>
<circle cx="463.8" cy="357.0" r="9.5" fill="#fde725"/>
<circle cx="743.6" cy="645.5" r="9.5" fill="#25ab82"/>
<circle cx="561.3" cy="698.0" r="9.5" fill="#32b67a"/>
<circle cx="764.9" cy="764.5" r="9.5" fill="#355f8d"/>
<circle cx="708.8" cy="677.2" r="9.5" fill="#26818e"/>
<circle cx="755.1" cy="711.1" r="9.5" fill="#472a7a"/>
<circle cx="501.0" cy="575.2" r="9.5" fill="#7cd250"/>
<circle cx="798.1" cy="549.7" r="9.5" fill="#25838e"/>
<circle cx="507.8" cy="316.7" r="9.5" fill="#cde11d"/>
<circle cx="701.3" cy="727.7" r="9.5" fill="#1f998a"/>
<circle cx="475.5" cy="479.6" r="9.5" fill="#d2e21b"/>
<circle cx="330.4" cy="440.9" r="9.5" fill="#56c667"/>
<circle cx="658.7" cy="439.9" r="9.5" fill="#fde725"/>
<circle cx="507.1" cy="456.8" r="9.5" fill="#63cb5f"/>
<circle cx="567.4" cy="727.5" r="9.5" fill="#26818e"/>
<circle cx="794.6" cy="793.3" r="9.5" fill="#355e8d"/>
<circle cx="472.8" cy="480.0" r="9.5" fill="#e7e419"/>
<circle cx="471.6" cy="396.4" r="9.5" fill="#addc30"/>
<circle cx="602.6" cy="438.2" r="9.5" fill="#6ece58"/>
<circle cx="458.1" cy="506.1" r="9.5" fill="#b5de2b"/>
<circle cx="764.9" cy="693.4" r="9.5" fill="#25838e"/>
<circle cx="446.7" cy="526.8" r="9.5" fill="#fde725"/>
<circle cx="723.1" cy="433.3" r="9.5" fill="#4ec36b"/>
<circle cx="766.7" cy="591.8" r="9.5" fill="#21918c"/>
<circle cx="407.2" cy="462.6" r="9.5" fill="#98d83e"/>
<circle cx="334.9" cy="532.7" r="9.5" fill="#42be71"/>
<circle cx="460.4" cy="434.2" r="9.5" fill="#cde11d"/>
<circle cx="479.2" cy="497.7" r="9.5" fill="#8ed645"/>
<circle cx="396.4" cy="564.2" r="9.5" fill="#67cc5c"/>
<circle cx="845.2" cy="795.2" r="9.5" fill="#463480"/>
<circle cx="333.1" cy="545.6" r="9.5" fill="#31b57b"/>
<circle cx="745.1" cy="502.8" r="9.5" fill="#238a8d"/>
<circle cx="749.9" cy="690.5" r="9.5" fill="#30698e"/>
<circle cx="678.0" cy="538.7" r="9.5" fill="#443b84"/>
<circle cx="587.9" cy="359.3" r="9.5" fill="#40bd72"/>
<circle cx="415.7" cy="516.0" r="9.5" fill="#77d153"/>
<circle cx="876.2" cy="708.0" r="9.5" fill="#443a83"/>
<circle cx="750.4" cy="660.3" r="9.5" fill="#1fa088"/>
<circle cx="555.7" cy="705.8" r="9.5" fill="#1fa088"/>
<circle cx="582.1" cy="455.5" r="9.5" fill="#ece51b"/>
<circle cx="630.1" cy="623.6" r="9.5" fill="#23888e"/>
<circle cx="407.0" cy="456.8" r="9.5" fill="#dde318"/>
<circle cx="562.8" cy="545.9" r="9.5" fill="#1e9b8a"/>
<circle cx="550.8" cy="326.5" r="9.5" fill="#2cb17e"/>
<circle cx="535.5" cy="598.8" r="9.5" fill="#22a884"/>
<circle cx="529.0" cy="709.7" r="9.5" fill="#3a538b"/>
<circle cx="707.5" cy="626.3" r="9.5" fill="#23888e"/>
<circle cx="518.5" cy="667.5" r="9.5" fill="#26828e"/>
<circle cx="450.9" cy="501.9" r="9.5" fill="#a2da37"/>
<circle cx="567.2" cy="388.2" r="9.5" fill="#a8db34"/>
<circle cx="460.2" cy="468.7" r="9.5" fill="#77d153"/>
<circle cx="482.4" cy="489.5" r="9.5" fill="#f4e61e"/>
<circle cx="477.1" cy="761.3" r="9.5" fill="#404688"/>
<circle cx="798.2" cy="731.8" r="9.5" fill="#38598c"/>
<circle cx="390.6" cy="568.7" r="9.5" fill="#3aba76"/>
<circle cx="652.6" cy="621.4" r="9.5" fill="#5cc863"/>
<circle cx="559.8" cy="547.3" r="9.5" fill="#4cc26c"/>
<circle cx="337.7" cy="512.9" r="9.5" fill="#b0dd2f"/>
<circle cx="619.1" cy="483.2" r="9.5" fill="#69cd5b"/>
<circle cx="641.6" cy="548.6" r="9.5" fill="#81d34d"/>
<circle cx="588.8" cy="380.9" r="9.5" fill="#d0e11c"/>
<circle cx="720.8" cy="517.3" r="9.5" fill="#2fb47c"/>
<circle cx="700.3" cy="775.1" r="9.5" fill="#3d4e8a"/>
<circle cx="553.7" cy="780.8" r="9.5" fill="#2a768e"/>
<circle cx="565.7" cy="533.0" r="9.5" fill="#c2df23"/>
<circle cx="805.0" cy="626.8" r="9.5" fill="#21908d"/>
<circle cx="601.0" cy="744.0" r="9.5" fill="#25838e"/>
<circle cx="549.1" cy="353.4" r="9.5" fill="#dae319"/>
<circle cx="752.1" cy="542.8" r="9.5" fill="#1e9c89"/>
<circle cx="403.1" cy="593.8" r="9.5" fill="#38b977"/>
<circle cx="634.2" cy="461.7" r="9.5" fill="#a5db36"/>
<circle cx="617.8" cy="485.3" r="9.5" fill="#42be71"/>
<circle cx="698.9" cy="450.3" r="9.5" fill="#1e9c89"/>
<circle cx="523.5" cy="578.2" r="9.5" fill="#f8e621"/>
<circle cx="454.6" cy="518.7" r="9.5" fill="#7cd250"/>
<circle cx="726.2" cy="725.2" r="9.5" fill="#24868e"/>
<circle cx="326.3" cy="482.7" r="9.5" fill="#c8e020"/>
<circle cx="592.8" cy="475.1" r="9.5" fill="#7cd250"/>
<circle cx="718.5" cy="714.2" r="9.5" fill="#1f9f88"/>
<circle cx="761.4" cy="665.6" r="9.5" fill="#20938c"/>
<circle cx="780.3" cy="447.7" r="9.5" fill="#7cd250"/>
<circle cx="514.6" cy="414.0" r="9.5" fill="#cde11d"/>
<circle cx="348.0" cy="421.9" r="9.5" fill="#b8de29"/>
<circle cx="360.2" cy="379.7" r="9.5" fill="#7fd34e"/>
<circle cx="677.2" cy="605.4" r="9.5" fill="#1e9d89"/>
<circle cx="683.6" cy="579.6" r="9.5" fill="#21a585"/>
<circle cx="477.8" cy="652.3" r="9.5" fill="#218f8d"/>
<circle cx="828.9" cy="787.4" r="9.5" fill="#46337f"/>
<circle cx="492.8" cy="419.6" r="9.5" fill="#f1e51d"/>
<circle cx="374.4" cy="491.4" r="9.5" fill="#ece51b"/>
<circle cx="449.4" cy="339.9" r="9.5" fill="#efe51c"/>
<circle cx="363.8" cy="640.4" r="9.5" fill="#22a884"/>
<circle cx="876.0" cy="763.4" r="9.5" fill="#355e8d"/>
<circle cx="614.2" cy="493.9" r="9.5" fill="#e7e419"/>
<circle cx="545.2" cy="387.1" r="9.5" fill="#b5de2b"/>
<circle cx="619.6" cy="734.9" r="9.5" fill="#26828e"/>
<circle cx="521.6" cy="513.2" r="9.5" fill="#5ec962"/>
<circle cx="604.3" cy="473.2" r="9.5" fill="#93d741"/>
<circle cx="728.1" cy="699.4" r="9.5" fill="#443b84"/>
<circle cx="549.3" cy="347.4" r="9.5" fill="#90d743"/>
<circle cx="596.9" cy="519.9" r="9.5" fill="#1fa187"/>
<circle cx="512.9" cy="766.4" r="9.5" fill="#48186a"/>
<circle cx="433.1" cy="470.9" r="9.5" fill="#dfe318"/>
<circle cx="419.4" cy="611.0" r="9.5" fill="#56c667"/>
<circle cx="431.1" cy="490.7" r="9.5" fill="#d2e21b"/>
<circle cx="357.5" cy="546.8" r="9.5" fill="#e7e419"/>
<circle cx="530.9" cy="412.7" r="9.5" fill="#77d153"/>
<circle cx="373.8" cy="377.7" r="9.5" fill="#228b8d"/>
<circle cx="541.1" cy="533.0" r="9.5" fill="#21a685"/>
<circle cx="512.3" cy="727.1" r="9.5" fill="#1f958b"/>
<circle cx="564.2" cy="439.4" r="9.5" fill="#67cc5c"/>
<circle cx="696.1" cy="679.7" r="9.5" fill="#287c8e"/>
<circle cx="370.8" cy="450.3" r="9.5" fill="#7fd34e"/>
<circle cx="456.6" cy="425.6" r="9.5" fill="#f8e621"/>
<circle cx="540.6" cy="401.4" r="9.5" fill="#fbe723"/>
<circle cx="368.9" cy="599.9" r="9.5" fill="#a5db36"/>
<circle cx="645.0" cy="423.4" r="9.5" fill="#52c569"/>
<circle cx="774.8" cy="518.1" r="9.5" fill="#a8db34"/>
<circle cx="623.6" cy="629.2" r="9.5" fill="#287c8e"/>
<circle cx="380.5" cy="389.4" r="9.5" fill="#ece51b"/>
<circle cx="513.3" cy="690.8" r="9.5" fill="#24868e"/>
<circle cx="768.2" cy="636.0" r="9.5" fill="#2b748e"/>
<circle cx="500.9" cy="580.2" r="9.5" fill="#7ad151"/>
<circle cx="487.6" cy="396.6" r="9.5" fill="#fde725"/>
<circle cx="730.7" cy="498.0" r="9.5" fill="#1f9e89"/>
<circle cx="723.6" cy="637.7" r="9.5" fill="#24868e"/>
<circle cx="692.2" cy="534.0" r="9.5" fill="#89d548"/>
<circle cx="771.5" cy="690.4" r="9.5" fill="#29798e"/>
<circle cx="650.2" cy="730.7" r="9.5" fill="#1f968b"/>
<circle cx="450.5" cy="732.9" r="9.5" fill="#2fb47c"/>
<circle cx="471.1" cy="674.3" r="9.5" fill="#1f9f88"/>
<circle cx="654.1" cy="519.9" r="9.5" fill="#1fa088"/>
<circle cx="457.2" cy="316.7" r="9.5" fill="#fde725"/>
<circle cx="588.4" cy="457.5" r="9.5" fill="#98d83e"/>
<circle cx="503.9" cy="576.0" r="9.5" fill="#52c569"/>
<circle cx="349.3" cy="474.3" r="9.5" fill="#4cc26c"/>
<circle cx="768.1" cy="434.4" r="9.5" fill="#8bd646"/>
<circle cx="612.7" cy="390.8" r="9.5" fill="#7ad151"/>
<circle cx="544.7" cy="422.1" r="9.5" fill="#c0df25"/>
<circle cx="600.8" cy="712.9" r="9.5" fill="#433e85"/>
<circle cx="392.7" cy="532.5" r="9.5" fill="#60ca60"/>
<circle cx="727.8" cy="697.6" r="9.5" fill="#38598c"/>
<circle cx="399.6" cy="565.1" r="9.5" fill="#b0dd2f"/>
<circle cx="794.6" cy="563.8" r="9.5" fill="#365c8d"/>
<circle cx="507.8" cy="611.1" r="9.5" fill="#2eb37c"/>
<circle cx="444.2" cy="497.2" r="9.5" fill="#fbe723"/>
<circle cx="528.6" cy="322.7" r="9.5" fill="#fde725"/>
<circle cx="751.9" cy="711.2" r="9.5" fill="#2d718e"/>
<circle cx="680.7" cy="608.4" r="9.5" fill="#20a486"/>
<circle cx="601.9" cy="444.8" r="9.5" fill="#50c46a"/>
<circle cx="661.0" cy="527.5" r="9.5" fill="#1f9e89"/>
<circle cx="339.8" cy="524.4" r="9.5" fill="#5cc863"/>
<circle cx="772.6" cy="683.3" r="9.5" fill="#443983"/>
<circle cx="546.9" cy="532.7" r="9.5" fill="#f4e61e"/>
<circle cx="338.0" cy="668.9" r="9.5" fill="#48c16e"/>
<circle cx="757.4" cy="696.8" r="9.5" fill="#23a983"/>
<circle cx="610.3" cy="666.8" r="9.5" fill="#2cb17e"/>
<circle cx="786.5" cy="500.2" r="9.5" fill="#32b67a"/>
<circle cx="325.3" cy="525.5" r="9.5" fill="#fde725"/>
<circle cx="516.5" cy="467.0" r="9.5" fill="#4cc26c"/>
<circle cx="352.1" cy="404.6" r="9.5" fill="#fde725"/>
<circle cx="477.3" cy="598.1" r="9.5" fill="#42be71"/>
<circle cx="648.1" cy="511.1" r="9.5" fill="#5ac864"/>
<circle cx="395.2" cy="553.0" r="9.5" fill="#29af7f"/>
<circle cx="321.8" cy="573.1" r="9.5" fill="#23888e"/>
<circle cx="575.4" cy="715.5" r="9.5" fill="#25848e"/>
<circle cx="798.1" cy="466.7" r="9.5" fill="#28ae80"/>
<circle cx="571.0" cy="640.0" r="9.5" fill="#238a8d"/>
<circle cx="895.8" cy="583.7" r="9.5" fill="#21a685"/>
<circle cx="338.7" cy="479.9" r="9.5" fill="#6ece58"/>
<circle cx="586.0" cy="620.3" r="9.5" fill="#38b977"/>
<circle cx="361.2" cy="561.2" r="9.5" fill="#69cd5b"/>
<circle cx="532.2" cy="786.9" r="9.5" fill="#2a768e"/>
<circle cx="642.0" cy="529.6" r="9.5" fill="#21a685"/>
<circle cx="645.8" cy="729.0" r="9.5" fill="#23898e"/>
<circle cx="402.6" cy="494.5" r="9.5" fill="#b2dd2d"/>
<circle cx="579.9" cy="763.8" r="9.5" fill="#2d708e"/>
<circle cx="506.8" cy="496.0" r="9.5" fill="#6ece58"/>
<circle cx="578.8" cy="684.8" r="9.5" fill="#20a386"/>
<circle cx="502.9" cy="648.4" r="9.5" fill="#1f978b"/>
<circle cx="456.2" cy="541.4" r="9.5" fill="#8ed645"/>
<circle cx="363.1" cy="485.0" r="9.5" fill="#c8e020"/>
<circle cx="579.0" cy="428.0" r="9.5" fill="#90d743"/>
<circle cx="819.7" cy="602.0" r="9.5" fill="#28ae80"/>
<circle cx="873.7" cy="592.8" r="9.5" fill="#26828e"/>
<circle cx="747.4" cy="558.2" r="9.5" fill="#69cd5b"/>
<circle cx="322.2" cy="573.0" r="9.5" fill="#44bf70"/>
<circle cx="345.8" cy="485.0" r="9.5" fill="#81d34d"/>
<circle cx="410.1" cy="359.2" r="9.5" fill="#2fb47c"/>
<circle cx="576.0" cy="391.4" r="9.5" fill="#28ae80"/>
<circle cx="467.8" cy="656.9" r="9.5" fill="#4cc26c"/>
<circle cx="819.1" cy="669.0" r="9.5" fill="#2c738e"/>
<circle cx="574.4" cy="431.1" r="9.5" fill="#8ed645"/>
<circle cx="722.1" cy="769.6" r="9.5" fill="#355f8d"/>
<circle cx="475.9" cy="720.9" r="9.5" fill="#1e9d89"/>
<circle cx="447.1" cy="610.5" r="9.5" fill="#32b67a"/>
<circle cx="555.3" cy="387.7" r="9.5" fill="#65cb5e"/>
<circle cx="520.7" cy="447.9" r="9.5" fill="#81d34d"/>
<circle cx="811.1" cy="711.7" r="9.5" fill="#2c728e"/>
<circle cx="508.3" cy="628.4" r="9.5" fill="#2ab07f"/>
<circle cx="699.2" cy="694.3" r="9.5" fill="#3d4e8a"/>
<circle cx="597.7" cy="662.3" r="9.5" fill="#424186"/>
<circle cx="720.2" cy="646.7" r="9.5" fill="#2db27d"/>
<circle cx="418.5" cy="609.3" r="9.5" fill="#56c667"/>
<circle cx="520.8" cy="706.3" r="9.5" fill="#31668e"/>
<circle cx="490.7" cy="376.9" r="9.5" fill="#d5e21a"/>
<circle cx="665.7" cy="520.0" r="9.5" fill="#24868e"/>
<circle cx="479.8" cy="465.0" r="9.5" fill="#fbe723"/>
<circle cx="396.9" cy="392.5" r="9.5" fill="#fde725"/>
<circle cx="776.2" cy="469.7" r="9.5" fill="#25838e"/>
<circle cx="494.8" cy="729.5" r="9.5" fill="#26818e"/>
<circle cx="549.8" cy="480.8" r="9.5" fill="#2ab07f"/>
<circle cx="438.8" cy="437.7" r="9.5" fill="#c0df25"/>
<circle cx="438.5" cy="525.5" r="9.5" fill="#fde725"/>
<circle cx="409.1" cy="337.7" r="9.5" fill="#a5db36"/>
<circle cx="688.7" cy="635.6" r="9.5" fill="#228c8d"/>
<circle cx="603.9" cy="612.6" r="9.5" fill="#238a8d"/>
<circle cx="763.2" cy="578.0" r="9.5" fill="#1fa088"/>
<circle cx="477.2" cy="586.2" r="9.5" fill="#65cb5e"/>
<circle cx="796.5" cy="692.6" r="9.5" fill="#27808e"/>
<circle cx="748.0" cy="685.5" r="9.5" fill="#1fa187"/>
<circle cx="486.0" cy="502.7" r="9.5" fill="#6ccd5a"/>
<circle cx="492.3" cy="772.7" r="9.5" fill="#32648e"/>
<circle cx="570.0" cy="528.3" r="9.5" fill="#25ac82"/>
<circle cx="476.5" cy="607.9" r="9.5" fill="#54c568"/>
<circle cx="388.1" cy="555.0" r="9.5" fill="#54c568"/>
<circle cx="343.5" cy="472.8" r="9.5" fill="#6ccd5a"/>
<circle cx="796.4" cy="585.4" r="9.5" fill="#21a585"/>
<circle cx="555.7" cy="590.0" r="9.5" fill="#3dbc74"/>
<circle cx="482.3" cy="499.1" r="9.5" fill="#5ac864"/>
<circle cx="324.7" cy="453.1" r="9.5" fill="#218f8d"/>
<circle cx="364.7" cy="434.1" r="9.5" fill="#a8db34"/>
<circle cx="854.0" cy="773.5" r="9.5" fill="#2a778e"/>
<circle cx="694.8" cy="581.5" r="9.5" fill="#24aa83"/>
<circle cx="540.4" cy="331.7" r="9.5" fill="#89d548"/>
<circle cx="401.9" cy="365.2" r="9.5" fill="#81d34d"/>
<circle cx="735.0" cy="630.8" r="9.5" fill="#306a8e"/>
<circle cx="590.9" cy="452.2" r="9.5" fill="#42be71"/>
<circle cx="582.4" cy="494.8" r="9.5" fill="#dae319"/>
<circle cx="543.3" cy="560.4" r="9.5" fill="#40bd72"/>
<circle cx="730.9" cy="556.0" r="9.5" fill="#4ec36b"/>
<circle cx="492.9" cy="362.3" r="9.5" fill="#90d743"/>
<circle cx="532.7" cy="583.9" r="9.5" fill="#25ac82"/>
<circle cx="713.5" cy="698.6" r="9.5" fill="#2e6f8e"/>
<circle cx="491.5" cy="516.6" r="9.5" fill="#6ccd5a"/>
<circle cx="815.0" cy="757.9" r="9.5" fill="#2fb47c"/>
<circle cx="507.7" cy="457.7" r="9.5" fill="#8bd646"/>
<circle cx="553.7" cy="754.1" r="9.5" fill="#443983"/>
<circle cx="526.5" cy="639.2" r="9.5" fill="#fde725"/>
<circle cx="369.2" cy="441.1" r="9.5" fill="#aadc32"/>
<circle cx="715.5" cy="479.4" r="9.5" fill="#21a685"/>
<circle cx="823.8" cy="638.2" r="9.5" fill="#2d718e"/>
<circle cx="331.0" cy="526.1" r="9.5" fill="#bade28"/>
<circle cx="369.8" cy="420.9" r="9.5" fill="#efe51c"/>
<circle cx="580.5" cy="389.3" r="9.5" fill="#86d549"/>
<circle cx="511.9" cy="616.8" r="9.5" fill="#44bf70"/>
<circle cx="721.9" cy="637.5" r="9.5" fill="#58c765"/>
<circle cx="489.3" cy="404.0" r="9.5" fill="#cde11d"/>
<circle cx="674.8" cy="464.0" r="9.5" fill="#34b679"/>
<circle cx="391.5" cy="396.5" r="9.5" fill="#8bd646"/>
<circle cx="410.4" cy="600.8" r="9.5" fill="#67cc5c"/>
<circle cx="683.4" cy="582.9" r="9.5" fill="#20938c"/>
<circle cx="758.3" cy="510.7" r="9.5" fill="#4ec36b"/>
<circle cx="359.8" cy="479.2" r="9.5" fill="#89d548"/>
<circle cx="373.8" cy="464.3" r="9.5" fill="#89d548"/>
<circle cx="632.7" cy="742.3" r="9.5" fill="#29798e"/>
<circle cx="585.7" cy="487.8" r="9.5" fill="#4ec36b"/>
<circle cx="716.8" cy="530.7" r="9.5" fill="#f8e621"/>
<circle cx="823.7" cy="753.4" r="9.5" fill="#21918c"/>
<circle cx="433.9" cy="440.8" r="9.5" fill="#90d743"/>
<circle cx="793.2" cy="482.5" r="9.5" fill="#1fa088"/>
<circle cx="608.0" cy="614.8" r="9.5" fill="#46c06f"/>
<circle cx="700.3" cy="596.5" r="9.5" fill="#424186"/>
<circle cx="611.5" cy="752.9" r="9.5" fill="#228d8d"/>
<circle cx="713.4" cy="630.3" r="9.5" fill="#2a788e"/>
<circle cx="529.0" cy="481.2" r="9.5" fill="#a5db36"/>
<circle cx="332.0" cy="599.9" r="9.5" fill="#f6e620"/>
<circle cx="778.0" cy="708.2" r="9.5" fill="#2a778e"/>
<circle cx="520.2" cy="385.3" r="9.5" fill="#75d054"/>
<circle cx="573.3" cy="770.4" r="9.5" fill="#24878e"/>
<circle cx="538.5" cy="550.2" r="9.5" fill="#70cf57"/>
<circle cx="703.5" cy="502.2" r="9.5" fill="#60ca60"/>
<circle cx="511.0" cy="419.4" r="9.5" fill="#fde725"/>
<circle cx="675.8" cy="763.4" r="9.5" fill="#20928c"/>
<circle cx="686.3" cy="540.8" r="9.5" fill="#1fa287"/>
<circle cx="693.1" cy="625.3" r="9.5" fill="#2d708e"/>
<circle cx="385.8" cy="532.0" r="9.5" fill="#f6e620"/>
<circle cx="681.4" cy="599.3" r="9.5" fill="#443983"/>
<circle cx="530.1" cy="356.5" r="9.5" fill="#c8e020"/>
<circle cx="870.6" cy="702.3" r="9.5" fill="#21a685"/>
<circle cx="600.7" cy="673.0" r="9.5" fill="#27ad81"/>
<circle cx="371.5" cy="637.6" r="9.5" fill="#a5db36"/>
<circle cx="598.8" cy="329.4" r="9.5" fill="#7ad151"/>
<circle cx="723.3" cy="605.5" r="9.5" fill="#bade28"/>
<circle cx="662.7" cy="699.5" r="9.5" fill="#21918c"/>
<circle cx="661.0" cy="614.3" r="9.5" fill="#20a486"/>
<circle cx="537.7" cy="572.1" r="9.5" fill="#95d840"/>
<circle cx="636.7" cy="644.0" r="9.5" fill="#20a486"/>
<circle cx="475.7" cy="410.3" r="9.5" fill="#e2e418"/>
<circle cx="384.5" cy="420.5" r="9.5" fill="#8ed645"/>
<circle cx="526.2" cy="604.4" r="9.5" fill="#1f998a"/>
<circle cx="842.4" cy="591.6" r="9.5" fill="#1f9e89"/>
<circle cx="826.7" cy="715.6" r="9.5" fill="#39568c"/>
<circle cx="526.1" cy="346.5" r="9.5" fill="#fde725"/>
<circle cx="813.6" cy="629.1" r="9.5" fill="#38598c"/>
<circle cx="794.0" cy="575.6" r="9.5" fill="#24868e"/>
<circle cx="438.1" cy="587.1" r="9.5" fill="#b2dd2d"/>
<circle cx="603.2" cy="553.7" r="9.5" fill="#b5de2b"/>
<circle cx="849.3" cy="751.4" r="9.5" fill="#3c4f8a"/>
<circle cx="699.2" cy="522.9" r="9.5" fill="#355e8d"/>
<circle cx="474.7" cy="433.9" r="9.5" fill="#3dbc74"/>
<circle cx="778.0" cy="667.6" r="9.5" fill="#472d7b"/>
<circle cx="380.3" cy="648.9" r="9.5" fill="#98d83e"/>
<circle cx="520.8" cy="648.3" r="9.5" fill="#20a486"/>
<circle cx="704.4" cy="540.7" r="9.5" fill="#3bbb75"/>
<circle cx="339.3" cy="657.1" r="9.5" fill="#24aa83"/>
<circle cx="513.5" cy="411.9" r="9.5" fill="#d2e21b"/>
<circle cx="835.6" cy="699.0" r="9.5" fill="#25848e"/>
<circle cx="532.6" cy="749.4" r="9.5" fill="#2f6b8e"/>
<circle cx="537.5" cy="458.3" r="9.5" fill="#3aba76"/>
<circle cx="705.5" cy="767.2" r="9.5" fill="#440154"/>
<circle cx="424.6" cy="389.5" r="9.5" fill="#73d056"/>
<circle cx="823.0" cy="602.5" r="9.5" fill="#1f9f88"/>
<circle cx="492.0" cy="523.4" r="9.5" fill="#90d743"/>
<circle cx="767.1" cy="560.4" r="9.5" fill="#29af7f"/>
<circle cx="432.7" cy="384.3" r="9.5" fill="#d2e21b"/>
<circle cx="554.5" cy="667.5" r="9.5" fill="#23a983"/>
<circle cx="733.4" cy="742.9" r="9.5" fill="#306a8e"/>
<circle cx="462.2" cy="307.7" r="9.5" fill="#fde725"/>
<circle cx="484.8" cy="579.3" r="9.5" fill="#60ca60"/>
<circle cx="330.7" cy="600.3" r="9.5" fill="#28ae80"/>
<circle cx="402.9" cy="438.2" r="9.5" fill="#fde725"/>
<circle cx="850.8" cy="578.7" r="9.5" fill="#1fa187"/>
<circle cx="597.7" cy="516.8" r="9.5" fill="#3fbc73"/>
<circle cx="716.8" cy="535.3" r="9.5" fill="#23a983"/>
<circle cx="496.3" cy="564.6" r="9.5" fill="#4ac16d"/>
<circle cx="351.1" cy="638.0" r="9.5" fill="#35b779"/>
<circle cx="451.4" cy="566.6" r="9.5" fill="#9dd93b"/>
<circle cx="589.7" cy="701.9" r="9.5" fill="#2c718e"/>
<circle cx="475.7" cy="450.7" r="9.5" fill="#40bd72"/>
<circle cx="647.3" cy="702.3" r="9.5" fill="#297b8e"/>
<circle cx="524.9" cy="552.1" r="9.5" fill="#40bd72"/>
<circle cx="771.2" cy="518.6" r="9.5" fill="#1e9d89"/>
<circle cx="571.7" cy="416.2" r="9.5" fill="#a0da39"/>
<circle cx="850.8" cy="682.3" r="9.5" fill="#228b8d"/>
<circle cx="443.2" cy="687.0" r="9.5" fill="#9dd93b"/>
<circle cx="563.0" cy="439.1" r="9.5" fill="#46c06f"/>
<circle cx="342.7" cy="622.5" r="9.5" fill="#6ece58"/>
<circle cx="532.9" cy="727.0" r="9.5" fill="#33628d"/>
<circle cx="460.8" cy="618.2" r="9.5" fill="#95d840"/>
<circle cx="521.5" cy="452.3" r="9.5" fill="#d5e21a"/>
<circle cx="868.2" cy="671.2" r="9.5" fill="#297a8e"/>
<circle cx="611.6" cy="464.9" r="9.5" fill="#5cc863"/>
<circle cx="637.0" cy="488.4" r="9.5" fill="#22a785"/>
<circle cx="540.3" cy="358.3" r="9.5" fill="#fde725"/>
<circle cx="840.5" cy="570.1" r="9.5" fill="#2eb37c"/>
<circle cx="499.4" cy="627.2" r="9.5" fill="#1e9d89"/>
<circle cx="434.6" cy="342.1" r="9.5" fill="#fde725"/>
<circle cx="618.5" cy="510.5" r="9.5" fill="#25ab82"/>
<circle cx="494.0" cy="648.8" r="9.5" fill="#1f9a8a"/>
<circle cx="841.2" cy="600.9" r="9.5" fill="#21a685"/>
<circle cx="451.6" cy="542.4" r="9.5" fill="#d5e21a"/>
<circle cx="777.3" cy="518.2" r="9.5" fill="#22a785"/>
<circle cx="370.8" cy="473.5" r="9.5" fill="#efe51c"/>
<circle cx="628.1" cy="470.4" r="9.5" fill="#4ac16d"/>
<circle cx="407.5" cy="448.8" r="9.5" fill="#fde725"/>
<circle cx="528.8" cy="636.4" r="9.5" fill="#375a8c"/>
<circle cx="836.8" cy="563.0" r="9.5" fill="#228c8d"/>
<circle cx="682.3" cy="516.4" r="9.5" fill="#2ab07f"/>
<circle cx="531.0" cy="452.8" r="9.5" fill="#7ad151"/>
<circle cx="397.7" cy="433.0" r="9.5" fill="#d0e11c"/>
<circle cx="514.5" cy="752.6" r="9.5" fill="#424086"/>
<circle cx="619.1" cy="630.6" r="9.5" fill="#2fb47c"/>
<circle cx="704.6" cy="765.1" r="9.5" fill="#3e4989"/>
<circle cx="398.9" cy="645.5" r="9.5" fill="#3fbc73"/>
<circle cx="469.8" cy="546.5" r="9.5" fill="#fde725"/>
<circle cx="506.5" cy="624.8" r="9.5" fill="#2c738e"/>
<circle cx="404.9" cy="663.5" r="9.5" fill="#75d054"/>
<circle cx="626.7" cy="389.6" r="9.5" fill="#7ad151"/>
<circle cx="827.3" cy="709.5" r="9.5" fill="#228c8d"/>
<circle cx="434.1" cy="483.1" r="9.5" fill="#eae51a"/>
<circle cx="574.7" cy="506.5" r="9.5" fill="#2f6c8e"/>
<circle cx="725.9" cy="452.3" r="9.5" fill="#26ad81"/>
<circle cx="486.1" cy="529.9" r="9.5" fill="#fde725"/>
<circle cx="493.0" cy="457.8" r="9.5" fill="#fde725"/>
<circle cx="404.6" cy="604.1" r="9.5" fill="#75d054"/>
<circle cx="416.6" cy="474.3" r="9.5" fill="#e5e419"/>
<circle cx="335.1" cy="524.5" r="9.5" fill="#fde725"/>
<circle cx="362.5" cy="375.8" r="9.5" fill="#e5e419"/>
<circle cx="652.7" cy="494.2" r="9.5" fill="#58c765"/>
<circle cx="534.4" cy="621.8" r="9.5" fill="#26ad81"/>
<circle cx="601.5" cy="378.3" r="9.5" fill="#fde725"/>
<circle cx="496.0" cy="337.9" r="9.5" fill="#c5e021"/>
<circle cx="559.3" cy="671.0" r="9.5" fill="#3aba76"/>
<circle cx="683.6" cy="668.5" r="9.5" fill="#23888e"/>
<circle cx="755.6" cy="671.7" r="9.5" fill="#277f8e"/>
<circle cx="839.9" cy="638.8" r="9.5" fill="#6ece58"/>
<circle cx="808.8" cy="693.7" r="9.5" fill="#21a585"/>
<circle cx="775.5" cy="494.2" r="9.5" fill="#6ece58"/>
<circle cx="383.0" cy="359.7" r="9.5" fill="#fde725"/>
<circle cx="768.6" cy="688.9" r="9.5" fill="#3a538b"/>
<circle cx="636.8" cy="507.8" r="9.5" fill="#90d743"/>
<circle cx="512.1" cy="493.4" r="9.5" fill="#a5db36"/>
<circle cx="366.6" cy="570.2" r="9.5" fill="#b2dd2d"/>
<circle cx="458.6" cy="506.5" r="9.5" fill="#fde725"/>
<circle cx="503.2" cy="672.8" r="9.5" fill="#24868e"/>
<circle cx="506.1" cy="459.7" r="9.5" fill="#b8de29"/>
<circle cx="778.4" cy="525.1" r="9.5" fill="#6ccd5a"/>
<circle cx="487.7" cy="594.2" r="9.5" fill="#7ad151"/>
<circle cx="783.3" cy="612.3" r="9.5" fill="#414287"/>
<circle cx="524.3" cy="608.7" r="9.5" fill="#8bd646"/>
<circle cx="492.8" cy="755.7" r="9.5" fill="#355f8d"/>
<circle cx="447.1" cy="359.3" r="9.5" fill="#dfe318"/>
<circle cx="464.6" cy="485.8" r="9.5" fill="#7cd250"/>
<circle cx="638.4" cy="683.8" r="9.5" fill="#3a538b"/>
<circle cx="579.9" cy="341.9" r="9.5" fill="#fde725"/>
<circle cx="492.6" cy="484.3" r="9.5" fill="#89d548"/>
<circle cx="646.5" cy="507.8" r="9.5" fill="#37b878"/>
<circle cx="694.8" cy="537.0" r="9.5" fill="#5ec962"/>
<circle cx="513.4" cy="568.9" r="9.5" fill="#2eb37c"/>
<circle cx="650.3" cy="425.8" r="9.5" fill="#c8e020"/>
<circle cx="613.6" cy="543.1" r="9.5" fill="#37b878"/>
<circle cx="768.2" cy="674.3" r="9.5" fill="#23888e"/>
<circle cx="631.5" cy="583.5" r="9.5" fill="#c5e021"/>
<circle cx="699.7" cy="718.1" r="9.5" fill="#287d8e"/>
<circle cx="534.8" cy="437.7" r="9.5" fill="#a8db34"/>
<circle cx="863.5" cy="749.1" r="9.5" fill="#33628d"/>
<circle cx="538.5" cy="661.1" r="9.5" fill="#3bbb75"/>
<circle cx="767.8" cy="672.7" r="9.5" fill="#21918c"/>
<circle cx="506.3" cy="323.5" r="9.5" fill="#addc30"/>
<circle cx="465.9" cy="729.5" r="9.5" fill="#2d708e"/>
<circle cx="602.8" cy="582.5" r="9.5" fill="#20938c"/>
<circle cx="421.4" cy="414.5" r="9.5" fill="#86d549"/>
<circle cx="618.5" cy="473.6" r="9.5" fill="#b2dd2d"/>
<circle cx="726.2" cy="603.5" r="9.5" fill="#1fa088"/>
<circle cx="729.4" cy="540.7" r="9.5" fill="#26ad81"/>
<circle cx="662.4" cy="420.0" r="9.5" fill="#5ac864"/>
<circle cx="452.0" cy="475.1" r="9.5" fill="#a8db34"/>
<circle cx="547.6" cy="353.5" r="9.5" fill="#86d549"/>
<circle cx="728.8" cy="721.7" r="9.5" fill="#2f6c8e"/>
<circle cx="761.9" cy="566.7" r="9.5" fill="#1f978b"/>
<circle cx="691.4" cy="723.5" r="9.5" fill="#1f9f88"/>
<circle cx="494.3" cy="770.8" r="9.5" fill="#2e6e8e"/>
<circle cx="678.7" cy="773.8" r="9.5" fill="#20928c"/>
<circle cx="498.3" cy="357.4" r="9.5" fill="#fde725"/>
<circle cx="755.7" cy="497.5" r="9.5" fill="#50c46a"/>
<circle cx="836.2" cy="757.3" r="9.5" fill="#365d8d"/>
<circle cx="661.5" cy="631.7" r="9.5" fill="#32648e"/>
<circle cx="696.0" cy="604.0" r="9.5" fill="#32b67a"/>
<circle cx="589.3" cy="477.9" r="9.5" fill="#c5e021"/>
<circle cx="786.7" cy="722.5" r="9.5" fill="#472d7b"/>
<circle cx="614.9" cy="454.6" r="9.5" fill="#20928c"/>
<circle cx="382.8" cy="405.6" r="9.5" fill="#c5e021"/>
<circle cx="516.3" cy="725.8" r="9.5" fill="#375b8d"/>
<circle cx="644.5" cy="505.5" r="9.5" fill="#20a486"/>
<circle cx="617.0" cy="591.5" r="9.5" fill="#20928c"/>
<circle cx="589.0" cy="491.2" r="9.5" fill="#9bd93c"/>
<circle cx="570.6" cy="557.3" r="9.5" fill="#2eb37c"/>
<circle cx="494.7" cy="668.6" r="9.5" fill="#22a785"/>
<circle cx="461.1" cy="745.3" r="9.5" fill="#20928c"/>
<circle cx="460.9" cy="486.1" r="9.5" fill="#6ece58"/>
<circle cx="559.0" cy="595.1" r="9.5" fill="#3fbc73"/>
<circle cx="730.5" cy="640.3" r="9.5" fill="#228d8d"/>
<circle cx="444.8" cy="324.6" r="9.5" fill="#fde725"/>
<circle cx="727.8" cy="453.5" r="9.5" fill="#2ab07f"/>
<circle cx="570.6" cy="523.4" r="9.5" fill="#89d548"/>
<circle cx="586.5" cy="673.2" r="9.5" fill="#20928c"/>
<circle cx="626.2" cy="597.6" r="9.5" fill="#1fa287"/>
<circle cx="480.7" cy="615.8" r="9.5" fill="#3fbc73"/>
<circle cx="700.6" cy="508.7" r="9.5" fill="#482173"/>
<circle cx="449.4" cy="538.5" r="9.5" fill="#9bd93c"/>
<circle cx="497.1" cy="453.6" r="9.5" fill="#c0df25"/>
<circle cx="610.3" cy="411.2" r="9.5" fill="#dae319"/>
<circle cx="542.1" cy="623.3" r="9.5" fill="#218f8d"/>
<circle cx="560.2" cy="779.1" r="9.5" fill="#2b748e"/>
<circle cx="580.6" cy="701.7" r="9.5" fill="#238a8d"/>
<circle cx="508.6" cy="722.7" r="9.5" fill="#440154"/>
<circle cx="829.3" cy="529.7" r="9.5" fill="#31b57b"/>
<circle cx="450.4" cy="435.7" r="9.5" fill="#f6e620"/>
<circle cx="494.3" cy="586.3" r="9.5" fill="#60ca60"/>
<circle cx="445.9" cy="622.9" r="9.5" fill="#218f8d"/>
<circle cx="784.8" cy="520.5" r="9.5" fill="#28ae80"/>
<circle cx="314.3" cy="468.4" r="9.5" fill="#fde725"/>
<circle cx="600.8" cy="751.0" r="9.5" fill="#3e4989"/>
<circle cx="448.2" cy="428.9" r="9.5" fill="#7ad151"/>
<circle cx="356.7" cy="393.3" r="9.5" fill="#fde725"/>
<circle cx="383.6" cy="477.1" r="9.5" fill="#fde725"/>
<circle cx="765.5" cy="643.7" r="9.5" fill="#34608d"/>
<circle cx="373.8" cy="532.8" r="9.5" fill="#b2dd2d"/>
<circle cx="642.3" cy="433.2" r="9.5" fill="#fde725"/>
<circle cx="874.7" cy="698.3" r="9.5" fill="#3c4f8a"/>
<circle cx="655.0" cy="564.1" r="9.5" fill="#7ad151"/>
<circle cx="639.8" cy="473.7" r="9.5" fill="#35b779"/>
<circle cx="335.4" cy="488.8" r="9.5" fill="#38b977"/>
<circle cx="664.9" cy="747.5" r="9.5" fill="#306a8e"/>
<circle cx="681.3" cy="641.1" r="9.5" fill="#1f9a8a"/>
<circle cx="663.8" cy="511.6" r="9.5" fill="#69cd5b"/>
<circle cx="804.2" cy="717.2" r="9.5" fill="#27ad81"/>
<circle cx="503.3" cy="440.8" r="9.5" fill="#23898e"/>
<circle cx="417.7" cy="454.2" r="9.5" fill="#ece51b"/>
<circle cx="750.9" cy="676.1" r="9.5" fill="#22a884"/>
<circle cx="729.3" cy="675.8" r="9.5" fill="#2d708e"/>
<circle cx="621.0" cy="759.5" r="9.5" fill="#433d84"/>
<circle cx="532.7" cy="431.3" r="9.5" fill="#e2e418"/>
<circle cx="839.4" cy="599.7" r="9.5" fill="#25838e"/>
<circle cx="618.0" cy="361.7" r="9.5" fill="#fde725"/>
<circle cx="318.9" cy="464.6" r="9.5" fill="#aadc32"/>
<circle cx="788.5" cy="480.6" r="9.5" fill="#60ca60"/>
<circle cx="618.4" cy="626.1" r="9.5" fill="#38588c"/>
<circle cx="524.2" cy="701.1" r="9.5" fill="#1fa187"/>
<circle cx="343.9" cy="440.9" r="9.5" fill="#93d741"/>
<circle cx="672.7" cy="579.3" r="9.5" fill="#2a768e"/>
<circle cx="482.7" cy="600.5" r="9.5" fill="#b5de2b"/>
<circle cx="762.2" cy="619.9" r="9.5" fill="#2a778e"/>
<circle cx="745.0" cy="727.0" r="9.5" fill="#32658e"/>
<circle cx="770.8" cy="693.4" r="9.5" fill="#20938c"/>
<circle cx="398.6" cy="471.1" r="9.5" fill="#7fd34e"/>
<circle cx="357.5" cy="471.5" r="9.5" fill="#4ec36b"/>
<circle cx="594.6" cy="511.8" r="9.5" fill="#eae51a"/>
<circle cx="645.4" cy="477.4" r="9.5" fill="#58c765"/>
<circle cx="717.7" cy="481.8" r="9.5" fill="#28ae80"/>
<circle cx="559.4" cy="478.1" r="9.5" fill="#228c8d"/>
<circle cx="457.0" cy="527.0" r="9.5" fill="#fde725"/>
<circle cx="476.9" cy="748.7" r="9.5" fill="#25848e"/>
<circle cx="489.8" cy="604.0" r="9.5" fill="#c0df25"/>
<circle cx="565.3" cy="489.9" r="9.5" fill="#8bd646"/>
<circle cx="850.3" cy="701.3" r="9.5" fill="#33628d"/>
<circle cx="549.0" cy="633.3" r="9.5" fill="#2c718e"/>
<circle cx="385.5" cy="365.6" r="9.5" fill="#f1e51d"/>
<circle cx="355.2" cy="573.4" r="9.5" fill="#63cb5f"/>
<circle cx="537.3" cy="707.2" r="9.5" fill="#287d8e"/>
<circle cx="722.6" cy="726.8" r="9.5" fill="#287c8e"/>
<circle cx="634.7" cy="577.8" r="9.5" fill="#25848e"/>
<circle cx="715.1" cy="567.9" r="9.5" fill="#2eb37c"/>
<circle cx="774.3" cy="713.4" r="9.5" fill="#31678e"/>
<circle cx="581.5" cy="723.7" r="9.5" fill="#424186"/>
<circle cx="639.0" cy="480.0" r="9.5" fill="#3dbc74"/>
<circle cx="438.3" cy="579.1" r="9.5" fill="#efe51c"/>
<circle cx="611.6" cy="482.1" r="9.5" fill="#2e6d8e"/>
<circle cx="581.7" cy="621.1" r="9.5" fill="#21908d"/>
<circle cx="532.3" cy="554.0" r="9.5" fill="#efe51c"/>
<circle cx="333.1" cy="588.9" r="9.5" fill="#90d743"/>
<circle cx="580.6" cy="628.4" r="9.5" fill="#2db27d"/>
<circle cx="503.5" cy="587.3" r="9.5" fill="#93d741"/>
<circle cx="695.9" cy="487.6" r="9.5" fill="#20a486"/>
<circle cx="386.9" cy="645.0" r="9.5" fill="#67cc5c"/>
<circle cx="532.8" cy="623.8" r="9.5" fill="#1e9c89"/>
<circle cx="891.9" cy="630.8" r="9.5" fill="#277e8e"/>
<circle cx="355.5" cy="472.8" r="9.5" fill="#6ccd5a"/>
<circle cx="638.3" cy="623.9" r="9.5" fill="#287c8e"/>
<circle cx="761.1" cy="609.1" r="9.5" fill="#1e9c89"/>
<circle cx="485.5" cy="630.3" r="9.5" fill="#84d44b"/>
<circle cx="814.1" cy="537.3" r="9.5" fill="#443a83"/>
<circle cx="729.5" cy="640.3" r="9.5" fill="#3e4c8a"/>
<circle cx="592.4" cy="477.1" r="9.5" fill="#52c569"/>
<circle cx="396.3" cy="640.2" r="9.5" fill="#4ec36b"/>
<circle cx="355.4" cy="408.2" r="9.5" fill="#56c667"/>
<circle cx="805.3" cy="568.1" r="9.5" fill="#20928c"/>
<circle cx="602.8" cy="804.4" r="9.5" fill="#365c8d"/>
<circle cx="634.8" cy="634.4" r="9.5" fill="#3e4c8a"/>
<circle cx="857.0" cy="724.7" r="9.5" fill="#218f8d"/>
<circle cx="385.3" cy="575.7" r="9.5" fill="#89d548"/>
<circle cx="766.7" cy="681.9" r="9.5" fill="#39558c"/>
<circle cx="653.0" cy="564.2" r="9.5" fill="#25ac82"/>
<circle cx="831.6" cy="582.9" r="9.5" fill="#1f958b"/>
<circle cx="495.8" cy="490.3" r="9.5" fill="#aadc32"/>
<circle cx="533.5" cy="621.4" r="9.5" fill="#2a778e"/>
<circle cx="606.1" cy="728.4" r="9.5" fill="#228c8d"/>
<circle cx="603.1" cy="738.9" r="9.5" fill="#463480"/>
<circle cx="608.2" cy="628.3" r="9.5" fill="#1f958b"/>
<circle cx="762.1" cy="748.3" r="9.5" fill="#2ab07f"/>
<circle cx="478.2" cy="390.9" r="9.5" fill="#c2df23"/>
<circle cx="735.8" cy="690.4" r="9.5" fill="#424186"/>
<circle cx="413.6" cy="445.1" r="9.5" fill="#fde725"/>
<circle cx="599.1" cy="461.4" r="9.5" fill="#25ac82"/>
<circle cx="544.4" cy="656.4" r="9.5" fill="#277f8e"/>
<circle cx="472.2" cy="457.2" r="9.5" fill="#b0dd2f"/>
<circle cx="456.8" cy="617.8" r="9.5" fill="#4cc26c"/>
<circle cx="661.3" cy="708.3" r="9.5" fill="#25ab82"/>
<circle cx="470.0" cy="573.2" r="9.5" fill="#95d840"/>
<circle cx="397.8" cy="487.8" r="9.5" fill="#a5db36"/>
<circle cx="517.4" cy="426.9" r="9.5" fill="#95d840"/>
<circle cx="721.3" cy="533.9" r="9.5" fill="#a2da37"/>
<circle cx="681.8" cy="547.0" r="9.5" fill="#37b878"/>
<circle cx="680.7" cy="539.0" r="9.5" fill="#38b977"/>
<circle cx="689.8" cy="410.0" r="9.5" fill="#4ec36b"/>
<circle cx="491.4" cy="759.2" r="9.5" fill="#1f968b"/>
<circle cx="689.8" cy="491.2" r="9.5" fill="#4ac16d"/>
<circle cx="679.6" cy="473.4" r="9.5" fill="#d8e219"/>
<circle cx="629.5" cy="505.0" r="9.5" fill="#1f958b"/>
<circle cx="725.3" cy="661.3" r="9.5" fill="#27808e"/>
<circle cx="701.3" cy="485.8" r="9.5" fill="#31b57b"/>
<circle cx="777.4" cy="545.1" r="9.5" fill="#1e9d89"/>
<circle cx="426.2" cy="609.6" r="9.5" fill="#75d054"/>
<circle cx="483.7" cy="578.0" r="9.5" fill="#dfe318"/>
<circle cx="641.5" cy="748.5" r="9.5" fill="#482878"/>
<circle cx="556.8" cy="341.6" r="9.5" fill="#d8e219"/>
<circle cx="597.8" cy="720.5" r="9.5" fill="#23888e"/>
<circle cx="745.1" cy="581.2" r="9.5" fill="#21a685"/>
<circle cx="399.2" cy="539.4" r="9.5" fill="#7ad151"/>
<circle cx="520.8" cy="320.4" r="9.5" fill="#f8e621"/>
<circle cx="606.9" cy="784.9" r="9.5" fill="#2f6b8e"/>
<circle cx="695.6" cy="729.0" r="9.5" fill="#453882"/>
<circle cx="512.5" cy="611.8" r="9.5" fill="#21a585"/>
<circle cx="410.9" cy="370.8" r="9.5" fill="#8bd646"/>
<circle cx="446.4" cy="653.7" r="9.5" fill="#86d549"/>
<circle cx="515.7" cy="609.6" r="9.5" fill="#1e9d89"/>
<circle cx="469.2" cy="698.5" r="9.5" fill="#238a8d"/>
<circle cx="590.5" cy="718.7" r="9.5" fill="#31688e"/>
<circle cx="616.6" cy="744.8" r="9.5" fill="#38598c"/>
<circle cx="533.8" cy="619.8" r="9.5" fill="#56c667"/>
<circle cx="508.7" cy="565.6" r="9.5" fill="#6ece58"/>
<circle cx="649.0" cy="625.0" r="9.5" fill="#3a538b"/>
<circle cx="789.0" cy="650.0" r="9.5" fill="#46307e"/>
<circle cx="478.6" cy="579.7" r="9.5" fill="#fde725"/>
<circle cx="636.4" cy="566.6" r="9.5" fill="#dfe318"/>
<circle cx="425.2" cy="555.1" r="9.5" fill="#35b779"/>
<circle cx="762.9" cy="552.3" r="9.5" fill="#32b67a"/>
<circle cx="789.4" cy="473.5" r="9.5" fill="#4ec36b"/>
<circle cx="660.6" cy="656.1" r="9.5" fill="#2a768e"/>
<circle cx="618.0" cy="467.8" r="9.5" fill="#50c46a"/>
<circle cx="719.0" cy="511.9" r="9.5" fill="#75d054"/>
<circle cx="573.9" cy="550.5" r="9.5" fill="#3b528b"/>
<circle cx="563.7" cy="419.0" r="9.5" fill="#8bd646"/>
<circle cx="407.6" cy="687.9" r="9.5" fill="#a2da37"/>
<circle cx="525.8" cy="517.8" r="9.5" fill="#c5e021"/>
<circle cx="366.5" cy="573.0" r="9.5" fill="#5ec962"/>
<circle cx="677.1" cy="671.3" r="9.5" fill="#31678e"/>
<circle cx="548.5" cy="541.5" r="9.5" fill="#a5db36"/>
<circle cx="881.6" cy="550.1" r="9.5" fill="#1f968b"/>
<circle cx="502.0" cy="575.0" r="9.5" fill="#6ccd5a"/>
<circle cx="576.8" cy="568.1" r="9.5" fill="#8bd646"/>
<circle cx="373.5" cy="363.8" r="9.5" fill="#a5db36"/>
<circle cx="851.7" cy="712.2" r="9.5" fill="#482173"/>
<circle cx="497.7" cy="703.6" r="9.5" fill="#218e8d"/>
<circle cx="696.1" cy="510.5" r="9.5" fill="#93d741"/>
<circle cx="470.1" cy="589.6" r="9.5" fill="#cae11f"/>
<circle cx="546.6" cy="418.3" r="9.5" fill="#9bd93c"/>
<circle cx="589.5" cy="417.8" r="9.5" fill="#b0dd2f"/>
<circle cx="546.3" cy="730.2" r="9.5" fill="#433e85"/>
<circle cx="727.5" cy="641.5" r="9.5" fill="#30698e"/>
<circle cx="433.4" cy="420.8" r="9.5" fill="#a8db34"/>
<circle cx="656.0" cy="547.4" r="9.5" fill="#23a983"/>
<circle cx="450.9" cy="693.9" r="9.5" fill="#228c8d"/>
<circle cx="687.5" cy="599.8" r="9.5" fill="#23a983"/>
<circle cx="718.0" cy="657.1" r="9.5" fill="#287d8e"/>
<circle cx="512.6" cy="479.8" r="9.5" fill="#50c46a"/>
<circle cx="606.6" cy="512.4" r="9.5" fill="#20928c"/>
<circle cx="402.3" cy="613.4" r="9.5" fill="#1f998a"/>
<circle cx="572.3" cy="476.0" r="9.5" fill="#b5de2b"/>
<circle cx="398.9" cy="636.3" r="9.5" fill="#95d840"/>
<circle cx="503.4" cy="567.3" r="9.5" fill="#7fd34e"/>
<circle cx="549.2" cy="415.8" r="9.5" fill="#75d054"/>
<circle cx="346.8" cy="479.0" r="9.5" fill="#98d83e"/>
<circle cx="778.6" cy="673.3" r="9.5" fill="#2b748e"/>
<circle cx="667.6" cy="511.3" r="9.5" fill="#23898e"/>
<circle cx="484.6" cy="631.2" r="9.5" fill="#70cf57"/>
<circle cx="375.9" cy="371.6" r="9.5" fill="#8ed645"/>
<circle cx="810.4" cy="576.7" r="9.5" fill="#1f998a"/>
<circle cx="351.6" cy="443.8" r="9.5" fill="#fde725"/>
<circle cx="783.5" cy="539.3" r="9.5" fill="#228b8d"/>
<circle cx="405.1" cy="361.0" r="9.5" fill="#fde725"/>
<circle cx="414.2" cy="585.9" r="9.5" fill="#73d056"/>
<circle cx="379.6" cy="391.5" r="9.5" fill="#fbe723"/>
<circle cx="537.8" cy="417.3" r="9.5" fill="#f8e621"/>
<circle cx="393.0" cy="391.4" r="9.5" fill="#7ad151"/>
<circle cx="764.3" cy="612.9" r="9.5" fill="#1f998a"/>
<circle cx="440.8" cy="580.6" r="9.5" fill="#2ab07f"/>
<circle cx="537.3" cy="613.4" r="9.5" fill="#65cb5e"/>
<circle cx="462.6" cy="363.7" r="9.5" fill="#ece51b"/>
<circle cx="550.0" cy="490.0" r="9.5" fill="#b0dd2f"/>
<circle cx="644.0" cy="518.7" r="9.5" fill="#29af7f"/>
<circle cx="481.3" cy="444.8" r="9.5" fill="#fde725"/>
<circle cx="508.7" cy="354.9" r="9.5" fill="#f1e51d"/>
<circle cx="596.5" cy="527.9" r="9.5" fill="#cde11d"/>
<circle cx="585.2" cy="742.3" r="9.5" fill="#1fa188"/>
<circle cx="425.0" cy="536.8" r="9.5" fill="#5cc863"/>
<circle cx="367.6" cy="415.5" r="9.5" fill="#c2df23"/>
<circle cx="629.6" cy="532.8" r="9.5" fill="#218f8d"/>
<circle cx="338.4" cy="608.8" r="9.5" fill="#1e9b8a"/>
<circle cx="590.0" cy="383.5" r="9.5" fill="#86d549"/>
<circle cx="395.2" cy="482.6" r="9.5" fill="#cae11f"/>
<circle cx="653.5" cy="718.9" r="9.5" fill="#3c4f8a"/>
<circle cx="334.5" cy="531.7" r="9.5" fill="#89d548"/>
<circle cx="344.7" cy="607.0" r="9.5" fill="#2fb47c"/>
<circle cx="420.7" cy="361.8" r="9.5" fill="#2fb47c"/>
<circle cx="778.0" cy="681.6" r="9.5" fill="#5cc863"/>
<circle cx="763.3" cy="582.0" r="9.5" fill="#23888e"/>
<circle cx="674.8" cy="389.9" r="9.5" fill="#c0df25"/>
<circle cx="522.7" cy="666.5" r="9.5" fill="#228d8d"/>
<circle cx="579.4" cy="523.7" r="9.5" fill="#50c46a"/>
<circle cx="439.3" cy="363.7" r="9.5" fill="#aadc32"/>
<circle cx="371.7" cy="483.3" r="9.5" fill="#a5db36"/>
<circle cx="463.3" cy="698.9" r="9.5" fill="#24878e"/>
<circle cx="695.9" cy="743.4" r="9.5" fill="#277f8e"/>
<circle cx="543.2" cy="497.9" r="9.5" fill="#58c765"/>
<circle cx="429.5" cy="493.0" r="9.5" fill="#bade28"/>
<circle cx="492.8" cy="727.7" r="9.5" fill="#22a884"/>
<circle cx="385.9" cy="457.6" r="9.5" fill="#cde11d"/>
<circle cx="422.1" cy="464.0" r="9.5" fill="#73d056"/>
<circle cx="509.2" cy="743.9" r="9.5" fill="#33638d"/>
<circle cx="408.1" cy="596.4" r="9.5" fill="#3fbc73"/>
<circle cx="385.3" cy="629.2" r="9.5" fill="#34b679"/>
<circle cx="740.8" cy="479.3" r="9.5" fill="#65cb5e"/>
<circle cx="578.8" cy="476.8" r="9.5" fill="#1fa187"/>
<circle cx="369.9" cy="490.3" r="9.5" fill="#89d548"/>
<circle cx="619.3" cy="509.9" r="9.5" fill="#20928c"/>
<circle cx="658.6" cy="695.9" r="9.5" fill="#34b679"/>
<circle cx="418.2" cy="708.5" r="9.5" fill="#63cb5f"/>
<circle cx="379.9" cy="547.1" r="9.5" fill="#aadc32"/>
<circle cx="874.1" cy="783.1" r="9.5" fill="#482374"/>
<circle cx="743.9" cy="619.5" r="9.5" fill="#39558c"/>
<circle cx="427.5" cy="577.0" r="9.5" fill="#44bf70"/>
<circle cx="369.0" cy="388.2" r="9.5" fill="#84d44b"/>
<circle cx="413.9" cy="614.2" r="9.5" fill="#46c06f"/>
<circle cx="667.9" cy="617.0" r="9.5" fill="#20a486"/>
<circle cx="524.9" cy="572.7" r="9.5" fill="#40bd72"/>
<circle cx="418.1" cy="578.3" r="9.5" fill="#84d44b"/>
<circle cx="599.9" cy="393.5" r="9.5" fill="#67cc5c"/>
<circle cx="400.1" cy="599.9" r="9.5" fill="#3bbb75"/>
<circle cx="498.7" cy="765.5" r="9.5" fill="#24868e"/>
<circle cx="684.8" cy="627.0" r="9.5" fill="#1fa088"/>
<circle cx="825.5" cy="582.5" r="9.5" fill="#38598c"/>
<circle cx="431.7" cy="557.4" r="9.5" fill="#24aa83"/>
<circle cx="615.0" cy="411.4" r="9.5" fill="#6ccd5a"/>
<circle cx="389.3" cy="466.4" r="9.5" fill="#fde725"/>
<circle cx="784.9" cy="627.6" r="9.5" fill="#26828e"/>
<circle cx="605.5" cy="536.2" r="9.5" fill="#27ad81"/>
<circle cx="558.7" cy="647.5" r="9.5" fill="#1fa187"/>
<circle cx="633.8" cy="473.0" r="9.5" fill="#54c568"/>
<circle cx="564.5" cy="688.1" r="9.5" fill="#287c8e"/>
<circle cx="613.4" cy="714.4" r="9.5" fill="#1f9f88"/>
<circle cx="568.6" cy="448.9" r="9.5" fill="#2eb37c"/>
<circle cx="350.3" cy="536.4" r="9.5" fill="#93d741"/>
<circle cx="513.4" cy="559.3" r="9.5" fill="#1fa187"/>
<circle cx="630.7" cy="553.3" r="9.5" fill="#89d548"/>
<circle cx="707.0" cy="573.4" r="9.5" fill="#5cc863"/>
<circle cx="709.7" cy="529.1" r="9.5" fill="#35b779"/>
<circle cx="404.0" cy="386.9" r="9.5" fill="#89d548"/>
<circle cx="585.8" cy="732.1" r="9.5" fill="#31678e"/>
<circle cx="656.9" cy="480.7" r="9.5" fill="#228c8d"/>
<circle cx="826.1" cy="559.6" r="9.5" fill="#20a386"/>
<circle cx="604.6" cy="545.9" r="9.5" fill="#3fbc73"/>
<circle cx="684.6" cy="692.5" r="9.5" fill="#306a8e"/>
<circle cx="841.5" cy="778.9" r="9.5" fill="#443983"/>
<circle cx="436.7" cy="409.8" r="9.5" fill="#d5e21a"/>
<circle cx="699.7" cy="472.5" r="9.5" fill="#65cb5e"/>
<circle cx="835.4" cy="628.8" r="9.5" fill="#238a8d"/>
<circle cx="500.1" cy="332.1" r="9.5" fill="#60ca60"/>
<circle cx="561.0" cy="689.8" r="9.5" fill="#34618d"/>
<circle cx="539.9" cy="704.7" r="9.5" fill="#287d8e"/>
<circle cx="469.5" cy="620.6" r="9.5" fill="#86d549"/>
<circle cx="634.5" cy="779.4" r="9.5" fill="#355f8d"/>
<circle cx="732.9" cy="550.0" r="9.5" fill="#34608d"/>
<circle cx="462.1" cy="354.1" r="9.5" fill="#fde725"/>
<circle cx="644.3" cy="501.6" r="9.5" fill="#fde725"/>
<circle cx="750.2" cy="646.1" r="9.5" fill="#404688"/>
<circle cx="631.2" cy="738.5" r="9.5" fill="#1e9d89"/>
<circle cx="734.5" cy="485.4" r="9.5" fill="#32b67a"/>
<circle cx="602.8" cy="728.2" r="9.5" fill="#287c8e"/>
<circle cx="692.1" cy="694.7" r="9.5" fill="#2a778e"/>
<circle cx="435.4" cy="656.6" r="9.5" fill="#77d153"/>
<circle cx="365.6" cy="476.9" r="9.5" fill="#dfe318"/>
<circle cx="467.8" cy="333.4" r="9.5" fill="#fde725"/>
<circle cx="642.3" cy="766.1" r="9.5" fill="#472e7c"/>
<circle cx="550.1" cy="603.7" r="9.5" fill="#5ac864"/>
<circle cx="769.4" cy="612.8" r="9.5" fill="#3fbc73"/>
<circle cx="660.1" cy="703.3" r="9.5" fill="#2eb37c"/>
<circle cx="680.7" cy="701.0" r="9.5" fill="#32648e"/>
<circle cx="495.4" cy="556.0" r="9.5" fill="#60ca60"/>
<circle cx="544.8" cy="687.8" r="9.5" fill="#77d153"/>
<circle cx="512.0" cy="528.9" r="9.5" fill="#d2e21b"/>
<circle cx="557.4" cy="475.6" r="9.5" fill="#a5db36"/>
<circle cx="773.0" cy="628.5" r="9.5" fill="#424186"/>
<circle cx="560.0" cy="399.7" r="9.5" fill="#8bd646"/>
<circle cx="651.5" cy="463.9" r="9.5" fill="#52c569"/>
<circle cx="493.2" cy="314.0" r="9.5" fill="#69cd5b"/>
<circle cx="381.7" cy="517.1" r="9.5" fill="#3bbb75"/>
<circle cx="824.2" cy="529.9" r="9.5" fill="#228b8d"/>
<circle cx="422.2" cy="665.2" r="9.5" fill="#34608d"/>
<circle cx="359.0" cy="568.3" r="9.5" fill="#54c568"/>
<circle cx="813.9" cy="511.8" r="9.5" fill="#20a386"/>
<circle cx="552.9" cy="750.0" r="9.5" fill="#46327e"/>
<circle cx="793.6" cy="743.7" r="9.5" fill="#482173"/>
<circle cx="590.9" cy="760.6" r="9.5" fill="#2e6d8e"/>
<circle cx="619.2" cy="655.8" r="9.5" fill="#2d718e"/>
<circle cx="352.2" cy="617.2" r="9.5" fill="#21918c"/>
<circle cx="354.4" cy="545.9" r="9.5" fill="#95d840"/>
<circle cx="439.1" cy="470.4" r="9.5" fill="#e2e418"/>
<circle cx="383.8" cy="466.2" r="9.5" fill="#84d44b"/>
<circle cx="442.7" cy="696.9" r="9.5" fill="#24878e"/>
<circle cx="820.0" cy="637.5" r="9.5" fill="#2d708e"/>
<circle cx="795.5" cy="583.0" r="9.5" fill="#228d8d"/>
<circle cx="620.6" cy="503.2" r="9.5" fill="#63cb5f"/>
<circle cx="310.7" cy="538.5" r="9.5" fill="#89d548"/>
<circle cx="364.1" cy="489.9" r="9.5" fill="#a8db34"/>
<circle cx="693.1" cy="574.3" r="9.5" fill="#75d054"/>
<circle cx="683.7" cy="516.5" r="9.5" fill="#1fa188"/>
<circle cx="652.8" cy="724.3" r="9.5" fill="#482374"/>
<circle cx="519.6" cy="606.0" r="9.5" fill="#56c667"/>
<circle cx="727.7" cy="556.2" r="9.5" fill="#4ac16d"/>
<circle cx="479.2" cy="378.4" r="9.5" fill="#67cc5c"/>
<circle cx="483.0" cy="393.5" r="9.5" fill="#93d741"/>
<circle cx="635.9" cy="561.5" r="9.5" fill="#1e9b8a"/>
<circle cx="580.2" cy="492.1" r="9.5" fill="#b8de29"/>
<circle cx="741.3" cy="658.7" r="9.5" fill="#24aa83"/>
<circle cx="610.6" cy="467.6" r="9.5" fill="#84d44b"/>
<circle cx="789.2" cy="565.4" r="9.5" fill="#2c718e"/>
<circle cx="581.8" cy="686.6" r="9.5" fill="#2e6d8e"/>
<circle cx="394.5" cy="575.6" r="9.5" fill="#4ac16d"/>
<circle cx="701.7" cy="683.3" r="9.5" fill="#355f8d"/>
<circle cx="772.8" cy="616.4" r="9.5" fill="#26828e"/>
<circle cx="491.9" cy="766.7" r="9.5" fill="#23898e"/>
<circle cx="484.3" cy="501.8" r="9.5" fill="#cde11d"/>
<circle cx="350.2" cy="565.3" r="9.5" fill="#c8e020"/>
<circle cx="601.8" cy="752.5" r="9.5" fill="#3aba76"/>
<circle cx="642.3" cy="680.5" r="9.5" fill="#453882"/>
<circle cx="669.6" cy="686.2" r="9.5" fill="#297a8e"/>
<circle cx="739.9" cy="547.7" r="9.5" fill="#238a8d"/>
<circle cx="658.2" cy="505.1" r="9.5" fill="#60ca60"/>
<circle cx="690.7" cy="591.6" r="9.5" fill="#1f9a8a"/>
<circle cx="592.6" cy="496.9" r="9.5" fill="#1fa088"/>
<circle cx="426.2" cy="448.9" r="9.5" fill="#b8de29"/>
<circle cx="862.1" cy="628.9" r="9.5" fill="#31688e"/>
<circle cx="812.4" cy="536.2" r="9.5" fill="#2e6e8e"/>
<circle cx="463.6" cy="577.1" r="9.5" fill="#c8e020"/>
<circle cx="323.2" cy="503.9" r="9.5" fill="#5ac864"/>
<circle cx="519.9" cy="409.9" r="9.5" fill="#6ccd5a"/>
<circle cx="545.8" cy="594.7" r="9.5" fill="#21a585"/>
<circle cx="785.0" cy="613.6" r="9.5" fill="#25ac82"/>
<circle cx="609.8" cy="736.9" r="9.5" fill="#3e4a89"/>
<circle cx="380.8" cy="373.8" r="9.5" fill="#fde725"/>
<circle cx="529.1" cy="700.4" r="9.5" fill="#1e9c89"/>
<circle cx="812.9" cy="658.7" r="9.5" fill="#34608d"/>
<circle cx="813.3" cy="667.9" r="9.5" fill="#218f8d"/>
<circle cx="342.8" cy="535.3" r="9.5" fill="#a0da39"/>
<circle cx="662.4" cy="680.2" r="9.5" fill="#355e8d"/>
<circle cx="621.9" cy="495.5" r="9.5" fill="#2fb47c"/>
<circle cx="757.8" cy="547.4" r="9.5" fill="#25ab82"/>
<circle cx="495.7" cy="356.8" r="9.5" fill="#9dd93b"/>
<circle cx="358.3" cy="621.9" r="9.5" fill="#28ae80"/>
<circle cx="554.4" cy="574.4" r="9.5" fill="#44bf70"/>
<circle cx="529.9" cy="411.3" r="9.5" fill="#90d743"/>
<circle cx="519.7" cy="770.4" r="9.5" fill="#3a538b"/>
<circle cx="759.3" cy="724.8" r="9.5" fill="#34618d"/>
<circle cx="750.7" cy="695.4" r="9.5" fill="#39558c"/>
<circle cx="692.7" cy="554.5" r="9.5" fill="#2e6f8e"/>
<circle cx="322.5" cy="481.8" r="9.5" fill="#a2da37"/>
<circle cx="347.8" cy="433.3" r="9.5" fill="#4ac16d"/>
<circle cx="602.7" cy="429.2" r="9.5" fill="#50c46a"/>
<circle cx="600.1" cy="717.4" r="9.5" fill="#23898e"/>
<circle cx="806.8" cy="609.2" r="9.5" fill="#21908d"/>
<circle cx="379.4" cy="372.8" r="9.5" fill="#7cd250"/>
<circle cx="621.4" cy="503.6" r="9.5" fill="#23a983"/>
<circle cx="473.4" cy="768.0" r="9.5" fill="#481c6e"/>
<circle cx="510.6" cy="417.4" r="9.5" fill="#25838e"/>
<circle cx="784.0" cy="662.7" r="9.5" fill="#23898e"/>
<circle cx="874.8" cy="774.6" r="9.5" fill="#1f948c"/>
<circle cx="669.5" cy="585.9" r="9.5" fill="#1f978b"/>
<circle cx="490.8" cy="663.8" r="9.5" fill="#34b679"/>
<circle cx="673.0" cy="724.0" r="9.5" fill="#355f8d"/>
<circle cx="485.1" cy="735.1" r="9.5" fill="#20938c"/>
<circle cx="646.0" cy="466.8" r="9.5" fill="#38b977"/>
<circle cx="387.9" cy="401.1" r="9.5" fill="#e7e419"/>
<circle cx="557.8" cy="708.0" r="9.5" fill="#228b8d"/>
<circle cx="735.0" cy="700.7" r="9.5" fill="#414487"/>
<circle cx="528.7" cy="477.5" r="9.5" fill="#70cf57"/>
<circle cx="755.5" cy="638.6" r="9.5" fill="#238a8d"/>
<circle cx="338.8" cy="412.7" r="9.5" fill="#63cb5f"/>
<circle cx="559.5" cy="468.3" r="9.5" fill="#d8e219"/>
<circle cx="751.9" cy="522.6" r="9.5" fill="#1fa188"/>
<circle cx="727.9" cy="639.2" r="9.5" fill="#27ad81"/>
<circle cx="670.8" cy="562.3" r="9.5" fill="#26828e"/>
<circle cx="811.0" cy="472.5" r="9.5" fill="#1f988b"/>
<circle cx="398.3" cy="636.1" r="9.5" fill="#54c568"/>
<circle cx="331.4" cy="618.1" r="9.5" fill="#63cb5f"/>
<circle cx="558.3" cy="747.4" r="9.5" fill="#46337f"/>
<circle cx="672.8" cy="598.1" r="9.5" fill="#b5de2b"/>
<circle cx="375.8" cy="627.3" r="9.5" fill="#7fd34e"/>
<circle cx="816.1" cy="612.9" r="9.5" fill="#46c06f"/>
<circle cx="419.7" cy="645.6" r="9.5" fill="#20928c"/>
<circle cx="542.5" cy="479.1" r="9.5" fill="#3dbc74"/>
<circle cx="508.9" cy="769.7" r="9.5" fill="#453882"/>
<circle cx="676.1" cy="451.9" r="9.5" fill="#32b67a"/>
<circle cx="703.9" cy="542.4" r="9.5" fill="#1f9e89"/>
<circle cx="489.0" cy="447.7" r="9.5" fill="#cae11f"/>
<circle cx="605.4" cy="771.0" r="9.5" fill="#25838e"/>
<circle cx="593.4" cy="466.2" r="9.5" fill="#48c16e"/>
<circle cx="437.1" cy="385.7" r="9.5" fill="#cde11d"/>
<circle cx="808.1" cy="631.8" r="9.5" fill="#2c718e"/>
<circle cx="506.3" cy="425.9" r="9.5" fill="#b5de2b"/>
<circle cx="464.0" cy="545.8" r="9.5" fill="#8bd646"/>
<circle cx="392.8" cy="375.2" r="9.5" fill="#84d44b"/>
<circle cx="460.1" cy="648.0" r="9.5" fill="#25ab82"/>
<circle cx="742.6" cy="734.2" r="9.5" fill="#440154"/>
<circle cx="750.2" cy="541.4" r="9.5" fill="#2c738e"/>
<circle cx="446.6" cy="424.0" r="9.5" fill="#d8e219"/>
<circle cx="455.7" cy="664.9" r="9.5" fill="#1fa287"/>
<circle cx="698.0" cy="616.2" r="9.5" fill="#375b8d"/>
<circle cx="684.5" cy="637.4" r="9.5" fill="#21a585"/>
<circle cx="493.7" cy="552.5" r="9.5" fill="#e2e418"/>
<circle cx="773.2" cy="739.1" r="9.5" fill="#2e6e8e"/>
<circle cx="580.8" cy="387.4" r="9.5" fill="#fde725"/>
<circle cx="711.9" cy="504.5" r="9.5" fill="#22a884"/>
<circle cx="700.1" cy="704.0" r="9.5" fill="#26818e"/>
<circle cx="576.8" cy="476.2" r="9.5" fill="#6ccd5a"/>
<circle cx="469.7" cy="607.7" r="9.5" fill="#22a785"/>
<circle cx="509.2" cy="492.6" r="9.5" fill="#f8e621"/>
<circle cx="326.0" cy="527.9" r="9.5" fill="#b2dd2d"/>
<circle cx="401.4" cy="570.2" r="9.5" fill="#70cf57"/>
<circle cx="437.3" cy="371.8" r="9.5" fill="#e7e419"/>
<circle cx="397.1" cy="594.1" r="9.5" fill="#8ed645"/>
<circle cx="749.4" cy="803.6" r="9.5" fill="#228c8d"/>
<circle cx="489.2" cy="334.4" r="9.5" fill="#fde725"/>
<circle cx="660.4" cy="540.1" r="9.5" fill="#29af7f"/>
<circle cx="781.6" cy="564.6" r="9.5" fill="#365d8d"/>
<circle cx="516.9" cy="619.5" r="9.5" fill="#277e8e"/>
<circle cx="442.7" cy="542.9" r="9.5" fill="#20a386"/>
<circle cx="408.9" cy="641.7" r="9.5" fill="#1f9e89"/>
<circle cx="655.3" cy="490.4" r="9.5" fill="#50c46a"/>
<circle cx="510.4" cy="496.0" r="9.5" fill="#fde725"/>
<circle cx="516.1" cy="446.8" r="9.5" fill="#98d83e"/>
<circle cx="653.4" cy="671.5" r="9.5" fill="#1e9c89"/>
<circle cx="744.8" cy="609.6" r="9.5" fill="#1f978b"/>
<circle cx="720.8" cy="537.4" r="9.5" fill="#63cb5f"/>
<circle cx="551.0" cy="512.4" r="9.5" fill="#1e9b8a"/>
<circle cx="352.6" cy="508.5" r="9.5" fill="#69cd5b"/>
<circle cx="742.6" cy="561.7" r="9.5" fill="#24aa83"/>
<circle cx="687.5" cy="469.2" r="9.5" fill="#58c765"/>
<circle cx="669.6" cy="444.1" r="9.5" fill="#44bf70"/>
<circle cx="591.0" cy="687.2" r="9.5" fill="#38598c"/>
<circle cx="574.7" cy="354.7" r="9.5" fill="#fbe723"/>
<circle cx="345.5" cy="393.0" r="9.5" fill="#46c06f"/>
<circle cx="822.0" cy="556.5" r="9.5" fill="#1f998a"/>
<circle cx="409.5" cy="590.8" r="9.5" fill="#89d548"/>
<circle cx="533.3" cy="456.2" r="9.5" fill="#89d548"/>
<circle cx="405.6" cy="479.7" r="9.5" fill="#fde725"/>
<circle cx="383.3" cy="613.0" r="9.5" fill="#297a8e"/>
<circle cx="564.2" cy="738.2" r="9.5" fill="#2f6b8e"/>
<circle cx="356.2" cy="460.8" r="9.5" fill="#d0e11c"/>
<circle cx="786.6" cy="594.4" r="9.5" fill="#21a685"/>
<circle cx="598.5" cy="562.2" r="9.5" fill="#20938c"/>
<circle cx="528.0" cy="457.7" r="9.5" fill="#a5db36"/>
<circle cx="676.3" cy="416.9" r="9.5" fill="#89d548"/>
<circle cx="666.9" cy="632.0" r="9.5" fill="#1fa187"/>
<circle cx="540.8" cy="364.8" r="9.5" fill="#c8e020"/>
<circle cx="767.9" cy="617.3" r="9.5" fill="#1f9f88"/>
<circle cx="597.1" cy="548.4" r="9.5" fill="#1f988b"/>
<circle cx="795.1" cy="648.8" r="9.5" fill="#2f6b8e"/>
<circle cx="422.2" cy="407.6" r="9.5" fill="#fde725"/>
<circle cx="379.0" cy="679.9" r="9.5" fill="#31678e"/>
<circle cx="700.6" cy="478.0" r="9.5" fill="#93d741"/>
<circle cx="493.1" cy="613.7" r="9.5" fill="#25ac82"/>
<circle cx="487.4" cy="564.9" r="9.5" fill="#54c568"/>
<circle cx="574.8" cy="344.6" r="9.5" fill="#bddf26"/>
<circle cx="648.7" cy="710.1" r="9.5" fill="#287d8e"/>
<circle cx="600.1" cy="763.8" r="9.5" fill="#3a538b"/>
<circle cx="335.3" cy="460.9" r="9.5" fill="#a2da37"/>
<circle cx="729.9" cy="643.2" r="9.5" fill="#3c508b"/>
<circle cx="480.5" cy="559.9" r="9.5" fill="#81d34d"/>
<circle cx="673.6" cy="663.5" r="9.5" fill="#33638d"/>
<circle cx="524.3" cy="660.6" r="9.5" fill="#38598c"/>
<circle cx="493.6" cy="485.5" r="9.5" fill="#fde725"/>
<circle cx="649.8" cy="659.2" r="9.5" fill="#21a685"/>
<circle cx="537.7" cy="602.9" r="9.5" fill="#89d548"/>
<circle cx="695.7" cy="514.1" r="9.5" fill="#2c718e"/>
<circle cx="450.0" cy="314.1" r="9.5" fill="#d5e21a"/>
<circle cx="496.0" cy="556.5" r="9.5" fill="#5ec962"/>
<circle cx="741.7" cy="458.3" r="9.5" fill="#b8de29"/>
<circle cx="400.1" cy="504.5" r="9.5" fill="#bade28"/>
<circle cx="496.6" cy="426.1" r="9.5" fill="#d5e21a"/>
<circle cx="680.3" cy="481.1" r="9.5" fill="#1fa187"/>
<circle cx="783.0" cy="486.5" r="9.5" fill="#69cd5b"/>
<circle cx="442.2" cy="412.7" r="9.5" fill="#b2dd2d"/>
<circle cx="636.7" cy="371.8" r="9.5" fill="#34b679"/>
<circle cx="704.9" cy="489.1" r="9.5" fill="#25ab82"/>
<circle cx="378.5" cy="455.0" r="9.5" fill="#a5db36"/>
<circle cx="386.9" cy="659.7" r="9.5" fill="#7fd34e"/>
<circle cx="697.2" cy="773.4" r="9.5" fill="#238a8d"/>
<circle cx="717.4" cy="521.3" r="9.5" fill="#8ed645"/>
<circle cx="716.2" cy="757.2" r="9.5" fill="#482475"/>
<circle cx="561.1" cy="754.4" r="9.5" fill="#440154"/>
<circle cx="559.6" cy="481.4" r="9.5" fill="#6ece58"/>
<circle cx="607.3" cy="622.3" r="9.5" fill="#2a778e"/>
<circle cx="600.3" cy="489.4" r="9.5" fill="#20a486"/>
<circle cx="333.3" cy="504.7" r="9.5" fill="#b0dd2f"/>
<circle cx="689.1" cy="597.6" r="9.5" fill="#26818e"/>
<circle cx="331.4" cy="478.1" r="9.5" fill="#ece51b"/>
<circle cx="509.9" cy="746.6" r="9.5" fill="#453581"/>
<circle cx="605.2" cy="356.2" r="9.5" fill="#3fbc73"/>
<circle cx="664.3" cy="558.6" r="9.5" fill="#5cc863"/>
<circle cx="336.3" cy="603.4" r="9.5" fill="#7cd250"/>
<circle cx="499.9" cy="613.4" r="9.5" fill="#dfe318"/>
<circle cx="535.8" cy="459.1" r="9.5" fill="#efe51c"/>
<circle cx="828.8" cy="740.8" r="9.5" fill="#2b748e"/>
<circle cx="422.5" cy="584.8" r="9.5" fill="#9bd93c"/>
<circle cx="445.6" cy="413.3" r="9.5" fill="#d2e21b"/>
<circle cx="522.6" cy="479.8" r="9.5" fill="#c2df23"/>
<circle cx="682.8" cy="607.6" r="9.5" fill="#443983"/>
<circle cx="564.3" cy="577.6" r="9.5" fill="#37b878"/>
<circle cx="660.7" cy="763.3" r="9.5" fill="#1f9f88"/>
<circle cx="454.2" cy="495.1" r="9.5" fill="#f6e620"/>
<circle cx="495.3" cy="385.9" r="9.5" fill="#f1e51d"/>
<circle cx="769.2" cy="607.6" r="9.5" fill="#29798e"/>
<circle cx="592.8" cy="401.9" r="9.5" fill="#86d549"/>
<circle cx="709.3" cy="669.6" r="9.5" fill="#1f968b"/>
<circle cx="353.7" cy="463.3" r="9.5" fill="#24868e"/>
<circle cx="749.7" cy="649.0" r="9.5" fill="#31688e"/>
<circle cx="484.9" cy="632.9" r="9.5" fill="#23898e"/>
<circle cx="342.4" cy="664.7" r="9.5" fill="#32b67a"/>
<circle cx="676.1" cy="577.0" r="9.5" fill="#32b67a"/>
<circle cx="588.6" cy="568.3" r="9.5" fill="#30698e"/>
<circle cx="418.6" cy="610.2" r="9.5" fill="#1e9c89"/>
<circle cx="527.5" cy="454.2" r="9.5" fill="#d5e21a"/>
<circle cx="507.1" cy="742.0" r="9.5" fill="#31668e"/>
<circle cx="859.5" cy="694.5" r="9.5" fill="#1fa088"/>
<circle cx="467.9" cy="518.8" r="9.5" fill="#b0dd2f"/>
<circle cx="525.2" cy="487.5" r="9.5" fill="#6ece58"/>
<circle cx="662.7" cy="662.7" r="9.5" fill="#277e8e"/>
<circle cx="748.0" cy="573.5" r="9.5" fill="#365c8d"/>
<circle cx="639.8" cy="733.8" r="9.5" fill="#26828e"/>
<circle cx="472.5" cy="369.4" r="9.5" fill="#e5e419"/>
<circle cx="528.4" cy="535.5" r="9.5" fill="#5ac864"/>
<circle cx="433.5" cy="600.6" r="9.5" fill="#b8de29"/>
<circle cx="900.4" cy="643.5" r="9.5" fill="#218f8d"/>
<circle cx="593.0" cy="762.9" r="9.5" fill="#453781"/>
<circle cx="644.0" cy="570.9" r="9.5" fill="#453781"/>
<circle cx="686.8" cy="611.0" r="9.5" fill="#25838e"/>
<circle cx="876.8" cy="717.6" r="9.5" fill="#424186"/>
<circle cx="378.4" cy="532.0" r="9.5" fill="#7cd250"/>
<circle cx="717.1" cy="514.2" r="9.5" fill="#1f9a8a"/>
<circle cx="390.1" cy="658.0" r="9.5" fill="#277e8e"/>
<circle cx="601.6" cy="611.4" r="9.5" fill="#3bbb75"/>
<circle cx="510.7" cy="654.7" r="9.5" fill="#24868e"/>
<circle cx="859.0" cy="569.0" r="9.5" fill="#73d056"/>
<circle cx="480.2" cy="321.4" r="9.5" fill="#fde725"/>
<circle cx="503.9" cy="438.0" r="9.5" fill="#b8de29"/>
<circle cx="421.7" cy="656.2" r="9.5" fill="#2ab07f"/>
<circle cx="571.2" cy="328.8" r="9.5" fill="#63cb5f"/>
<circle cx="345.1" cy="402.2" r="9.5" fill="#b0dd2f"/>
<circle cx="384.6" cy="366.3" r="9.5" fill="#23a983"/>
<circle cx="442.8" cy="336.4" r="9.5" fill="#f8e621"/>
<circle cx="438.5" cy="538.6" r="9.5" fill="#a0da39"/>
<circle cx="802.3" cy="717.1" r="9.5" fill="#24868e"/>
<circle cx="347.5" cy="634.3" r="9.5" fill="#e7e419"/>
<circle cx="797.0" cy="569.2" r="9.5" fill="#1fa287"/>
<circle cx="594.3" cy="404.9" r="9.5" fill="#84d44b"/>
<circle cx="567.1" cy="774.2" r="9.5" fill="#297b8e"/>
<circle cx="666.1" cy="444.9" r="9.5" fill="#95d840"/>
<circle cx="709.8" cy="650.7" r="9.5" fill="#1e9c89"/>
<circle cx="559.6" cy="391.3" r="9.5" fill="#ece51b"/>
<circle cx="488.7" cy="623.7" r="9.5" fill="#54c568"/>
<circle cx="839.2" cy="730.2" r="9.5" fill="#23a983"/>
<circle cx="604.7" cy="562.5" r="9.5" fill="#29af7f"/>
<circle cx="614.7" cy="519.9" r="9.5" fill="#fde725"/>
<circle cx="616.2" cy="444.6" r="9.5" fill="#fde725"/>
<circle cx="628.0" cy="668.0" r="9.5" fill="#1f978b"/>
<circle cx="550.7" cy="762.1" r="9.5" fill="#38588c"/>
<circle cx="516.3" cy="346.1" r="9.5" fill="#e2e418"/>
<circle cx="529.4" cy="794.3" r="9.5" fill="#1f998a"/>
<circle cx="498.1" cy="476.8" r="9.5" fill="#cae11f"/>
<circle cx="734.0" cy="531.0" r="9.5" fill="#73d056"/>
<circle cx="504.9" cy="364.6" r="9.5" fill="#b0dd2f"/>
<circle cx="628.3" cy="441.9" r="9.5" fill="#23a983"/>
<circle cx="429.9" cy="512.6" r="9.5" fill="#a2da37"/>
<circle cx="337.2" cy="590.0" r="9.5" fill="#b0dd2f"/>
<circle cx="667.2" cy="499.5" r="9.5" fill="#26ad81"/>
<circle cx="526.5" cy="564.7" r="9.5" fill="#23a983"/>
<circle cx="697.1" cy="387.8" r="9.5" fill="#bddf26"/>
<circle cx="469.1" cy="491.9" r="9.5" fill="#89d548"/>
<circle cx="555.6" cy="403.0" r="9.5" fill="#c5e021"/>
<circle cx="440.3" cy="641.9" r="9.5" fill="#26ad81"/>
<circle cx="329.0" cy="433.3" r="9.5" fill="#89d548"/>
<circle cx="587.3" cy="580.5" r="9.5" fill="#65cb5e"/>
<circle cx="577.5" cy="530.0" r="9.5" fill="#c0df25"/>
<circle cx="597.1" cy="585.8" r="9.5" fill="#32648e"/>
<circle cx="371.1" cy="482.0" r="9.5" fill="#52c569"/>
<circle cx="393.2" cy="407.0" r="9.5" fill="#67cc5c"/>
<circle cx="691.1" cy="531.3" r="9.5" fill="#1f9e89"/>
<circle cx="371.8" cy="432.2" r="9.5" fill="#addc30"/>
<circle cx="702.6" cy="559.2" r="9.5" fill="#ece51b"/>
<circle cx="473.2" cy="743.1" r="9.5" fill="#24868e"/>
<circle cx="514.3" cy="458.1" r="9.5" fill="#b8de29"/>
<circle cx="520.8" cy="563.3" r="9.5" fill="#44bf70"/>
<circle cx="674.2" cy="480.1" r="9.5" fill="#2fb47c"/>
<circle cx="825.5" cy="563.1" r="9.5" fill="#1e9d89"/>
<circle cx="311.3" cy="459.5" r="9.5" fill="#c8e020"/>
<circle cx="606.7" cy="747.0" r="9.5" fill="#472a7a"/>
<circle cx="728.5" cy="594.8" r="9.5" fill="#1f998a"/>
<circle cx="734.1" cy="706.6" r="9.5" fill="#21918c"/>
<circle cx="597.1" cy="686.5" r="9.5" fill="#26828e"/>
<circle cx="403.8" cy="578.3" r="9.5" fill="#a0da39"/>
<circle cx="535.1" cy="760.7" r="9.5" fill="#25ac82"/>
<circle cx="660.6" cy="640.4" r="9.5" fill="#3aba76"/>
<circle cx="642.7" cy="661.0" r="9.5" fill="#a5db36"/>
<circle cx="706.2" cy="384.7" r="9.5" fill="#ece51b"/>
<circle cx="764.2" cy="604.9" r="9.5" fill="#31678e"/>
<circle cx="779.9" cy="546.3" r="9.5" fill="#22a785"/>
<circle cx="543.0" cy="376.3" r="9.5" fill="#fde725"/>
<circle cx="769.5" cy="685.7" r="9.5" fill="#1f958b"/>
<circle cx="502.0" cy="615.1" r="9.5" fill="#1f948c"/>
<circle cx="689.0" cy="620.7" r="9.5" fill="#4ac16d"/>
<circle cx="540.4" cy="775.6" r="9.5" fill="#443b84"/>
<circle cx="684.8" cy="542.6" r="9.5" fill="#63cb5f"/>
<circle cx="455.0" cy="703.4" r="9.5" fill="#22a884"/>
<circle cx="766.6" cy="614.0" r="9.5" fill="#1e9c89"/>
<circle cx="465.9" cy="638.1" r="9.5" fill="#1fa187"/>
<circle cx="784.5" cy="727.1" r="9.5" fill="#218f8d"/>
<circle cx="399.1" cy="565.0" r="9.5" fill="#a8db34"/>
<circle cx="833.6" cy="659.1" r="9.5" fill="#23a983"/>
<circle cx="694.2" cy="591.8" r="9.5" fill="#29798e"/>
<circle cx="731.7" cy="639.9" r="9.5" fill="#26818e"/>
<circle cx="707.9" cy="543.8" r="9.5" fill="#6ece58"/>
<circle cx="507.0" cy="682.0" r="9.5" fill="#2fb47c"/>
<circle cx="556.6" cy="629.8" r="9.5" fill="#32b67a"/>
<circle cx="393.7" cy="532.0" r="9.5" fill="#c2df23"/>
<circle cx="329.1" cy="505.8" r="9.5" fill="#b0dd2f"/>
<circle cx="497.5" cy="668.1" r="9.5" fill="#32648e"/>
<circle cx="648.7" cy="719.7" r="9.5" fill="#26828e"/>
<circle cx="600.9" cy="398.1" r="9.5" fill="#50c46a"/>
<circle cx="615.2" cy="723.1" r="9.5" fill="#1e9d89"/>
<circle cx="706.1" cy="560.0" r="9.5" fill="#1f968b"/>
<circle cx="696.0" cy="728.6" r="9.5" fill="#414287"/>
<circle cx="373.6" cy="435.0" r="9.5" fill="#98d83e"/>
<circle cx="508.7" cy="413.8" r="9.5" fill="#95d840"/>
<circle cx="431.7" cy="456.8" r="9.5" fill="#dfe318"/>
<circle cx="436.0" cy="679.5" r="9.5" fill="#54c568"/>
<circle cx="594.6" cy="421.9" r="9.5" fill="#fde725"/>
<circle cx="542.6" cy="322.2" r="9.5" fill="#fde725"/>
<circle cx="616.5" cy="390.2" r="9.5" fill="#c8e020"/>
<circle cx="774.5" cy="498.5" r="9.5" fill="#238a8d"/>
<circle cx="625.0" cy="536.0" r="9.5" fill="#89d548"/>
<circle cx="553.4" cy="628.6" r="9.5" fill="#1f978b"/>
<circle cx="691.7" cy="515.4" r="9.5" fill="#28ae80"/>
<circle cx="450.3" cy="676.6" r="9.5" fill="#31688e"/>
<circle cx="484.2" cy="596.6" r="9.5" fill="#a0da39"/>
<circle cx="603.3" cy="615.7" r="9.5" fill="#2b758e"/>
<circle cx="567.9" cy="685.6" r="9.5" fill="#38b977"/>
<circle cx="873.2" cy="691.5" r="9.5" fill="#31688e"/>
<circle cx="447.8" cy="446.0" r="9.5" fill="#6ece58"/>
<circle cx="548.7" cy="423.1" r="9.5" fill="#d2e21b"/>
<circle cx="388.5" cy="473.1" r="9.5" fill="#25848e"/>
<circle cx="536.4" cy="433.2" r="9.5" fill="#6ccd5a"/>
<circle cx="565.1" cy="601.5" r="9.5" fill="#56c667"/>
<circle cx="518.8" cy="660.5" r="9.5" fill="#40bd72"/>
<circle cx="614.7" cy="429.0" r="9.5" fill="#ece51b"/>
<circle cx="375.8" cy="527.7" r="9.5" fill="#a8db34"/>
<circle cx="604.9" cy="500.9" r="9.5" fill="#addc30"/>
<circle cx="612.1" cy="569.6" r="9.5" fill="#287c8e"/>
<circle cx="402.7" cy="382.9" r="9.5" fill="#c8e020"/>
<circle cx="804.8" cy="512.6" r="9.5" fill="#24878e"/>
<circle cx="581.6" cy="435.4" r="9.5" fill="#89d548"/>
<circle cx="814.4" cy="574.6" r="9.5" fill="#3e4989"/>
<circle cx="677.7" cy="571.2" r="9.5" fill="#2b748e"/>
<circle cx="474.4" cy="753.3" r="9.5" fill="#26828e"/>
<circle cx="400.0" cy="585.4" r="9.5" fill="#75d054"/>
<circle cx="471.5" cy="326.4" r="9.5" fill="#fde725"/>
<circle cx="435.3" cy="437.0" r="9.5" fill="#b8de29"/>
<circle cx="461.9" cy="685.4" r="9.5" fill="#40bd72"/>
<circle cx="345.9" cy="411.4" r="9.5" fill="#86d549"/>
<circle cx="504.8" cy="745.7" r="9.5" fill="#424086"/>
<circle cx="568.6" cy="409.0" r="9.5" fill="#dae319"/>
<circle cx="335.2" cy="390.6" r="9.5" fill="#7fd34e"/>
<circle cx="408.2" cy="352.7" r="9.5" fill="#fde725"/>
<circle cx="771.0" cy="507.3" r="9.5" fill="#5ac864"/>
<circle cx="414.8" cy="641.8" r="9.5" fill="#d0e11c"/>
<circle cx="836.3" cy="690.7" r="9.5" fill="#1f948c"/>
<circle cx="589.5" cy="398.2" r="9.5" fill="#cde11d"/>
<circle cx="583.7" cy="710.4" r="9.5" fill="#30698e"/>
<circle cx="555.0" cy="416.1" r="9.5" fill="#a5db36"/>
<circle cx="505.8" cy="449.6" r="9.5" fill="#d5e21a"/>
<circle cx="441.2" cy="394.6" r="9.5" fill="#89d548"/>
<circle cx="424.6" cy="537.1" r="9.5" fill="#58c765"/>
<circle cx="681.4" cy="549.0" r="9.5" fill="#2c738e"/>
<circle cx="531.8" cy="545.9" r="9.5" fill="#8ed645"/>
<circle cx="718.6" cy="550.4" r="9.5" fill="#24aa83"/>
<circle cx="473.7" cy="486.9" r="9.5" fill="#50c46a"/>
<circle cx="688.3" cy="493.4" r="9.5" fill="#22a785"/>
<circle cx="726.9" cy="683.2" r="9.5" fill="#2c738e"/>
<circle cx="350.1" cy="506.4" r="9.5" fill="#d5e21a"/>
<circle cx="607.6" cy="629.8" r="9.5" fill="#228c8d"/>
<circle cx="454.6" cy="698.9" r="9.5" fill="#2f6c8e"/>
<circle cx="598.0" cy="619.7" r="9.5" fill="#21a585"/>
<circle cx="739.9" cy="545.6" r="9.5" fill="#4ac16d"/>
<circle cx="671.0" cy="511.6" r="9.5" fill="#39558c"/>
<circle cx="758.9" cy="615.9" r="9.5" fill="#44bf70"/>
<circle cx="507.8" cy="397.0" r="9.5" fill="#dae319"/>
<circle cx="383.3" cy="453.2" r="9.5" fill="#2c738e"/>
<circle cx="536.0" cy="670.6" r="9.5" fill="#2eb37c"/>
<circle cx="632.3" cy="524.8" r="9.5" fill="#46c06f"/>
<circle cx="396.6" cy="419.2" r="9.5" fill="#fde725"/>
<circle cx="455.8" cy="698.0" r="9.5" fill="#34608d"/>
<circle cx="419.6" cy="456.7" r="9.5" fill="#d0e11c"/>
<circle cx="620.8" cy="409.5" r="9.5" fill="#5cc863"/>
<circle cx="729.4" cy="750.0" r="9.5" fill="#440154"/>
<circle cx="636.1" cy="623.2" r="9.5" fill="#39568c"/>
<circle cx="709.3" cy="599.0" r="9.5" fill="#34618d"/>
<circle cx="705.5" cy="511.2" r="9.5" fill="#3d4d8a"/>
<circle cx="430.7" cy="342.8" r="9.5" fill="#aadc32"/>
<circle cx="543.6" cy="700.1" r="9.5" fill="#42be71"/>
<circle cx="407.7" cy="584.2" r="9.5" fill="#69cd5b"/>
<circle cx="569.9" cy="718.4" r="9.5" fill="#404688"/>
<circle cx="393.4" cy="563.6" r="9.5" fill="#b2dd2d"/>
<circle cx="632.4" cy="418.6" r="9.5" fill="#8ed645"/>
<circle cx="635.1" cy="666.1" r="9.5" fill="#1e9b8a"/>
<circle cx="350.1" cy="480.5" r="9.5" fill="#93d741"/>
<circle cx="484.6" cy="766.7" r="9.5" fill="#30698e"/>
<circle cx="437.7" cy="569.7" r="9.5" fill="#fde725"/>
<circle cx="582.5" cy="554.6" r="9.5" fill="#27808e"/>
<circle cx="498.1" cy="504.2" r="9.5" fill="#cae11f"/>
<circle cx="325.7" cy="470.0" r="9.5" fill="#b0dd2f"/>
<circle cx="638.2" cy="455.3" r="9.5" fill="#89d548"/>
<circle cx="594.8" cy="781.2" r="9.5" fill="#297b8e"/>
<circle cx="714.9" cy="597.1" r="9.5" fill="#228b8d"/>
<circle cx="492.1" cy="318.7" r="9.5" fill="#fde725"/>
<circle cx="673.8" cy="660.0" r="9.5" fill="#3aba76"/>
<circle cx="640.3" cy="413.6" r="9.5" fill="#86d549"/>
<circle cx="610.3" cy="669.4" r="9.5" fill="#31678e"/>
<circle cx="490.3" cy="624.0" r="9.5" fill="#4cc26c"/>
<circle cx="539.1" cy="751.6" r="9.5" fill="#2a788e"/>
<circle cx="861.4" cy="742.7" r="9.5" fill="#440154"/>
<circle cx="475.3" cy="614.7" r="9.5" fill="#44bf70"/>
<circle cx="348.6" cy="458.5" r="9.5" fill="#d8e219"/>
<circle cx="450.5" cy="495.8" r="9.5" fill="#60ca60"/>
<circle cx="336.2" cy="394.1" r="9.5" fill="#aadc32"/>
<circle cx="530.4" cy="393.7" r="9.5" fill="#287d8e"/>
<circle cx="554.8" cy="682.5" r="9.5" fill="#277e8e"/>
<circle cx="577.1" cy="356.8" r="9.5" fill="#7fd34e"/>
<circle cx="615.8" cy="477.1" r="9.5" fill="#20a486"/>
<circle cx="346.9" cy="496.0" r="9.5" fill="#b2dd2d"/>
<circle cx="649.0" cy="487.3" r="9.5" fill="#48c16e"/>
<circle cx="512.8" cy="659.0" r="9.5" fill="#1f958b"/>
<circle cx="683.3" cy="471.4" r="9.5" fill="#77d153"/>
<circle cx="741.4" cy="687.4" r="9.5" fill="#20928c"/>
<circle cx="597.0" cy="418.0" r="9.5" fill="#95d840"/>
<circle cx="557.2" cy="462.9" r="9.5" fill="#7cd250"/>
<circle cx="351.9" cy="551.0" r="9.5" fill="#8bd646"/>
<circle cx="642.9" cy="425.2" r="9.5" fill="#fde725"/>
<circle cx="632.2" cy="516.5" r="9.5" fill="#95d840"/>
<circle cx="434.9" cy="520.2" r="9.5" fill="#aadc32"/>
<circle cx="672.2" cy="778.6" r="9.5" fill="#22a884"/>
<circle cx="368.6" cy="405.9" r="9.5" fill="#c5e021"/>
<circle cx="738.7" cy="543.5" r="9.5" fill="#2eb37c"/>
<circle cx="604.5" cy="439.0" r="9.5" fill="#3fbc73"/>
<circle cx="687.5" cy="758.3" r="9.5" fill="#375b8d"/>
<circle cx="353.6" cy="410.5" r="9.5" fill="#8ed645"/>
<circle cx="686.0" cy="509.5" r="9.5" fill="#81d34d"/>
<circle cx="705.7" cy="726.9" r="9.5" fill="#3e4a89"/>
<circle cx="607.8" cy="658.2" r="9.5" fill="#23a983"/>
<circle cx="409.4" cy="502.4" r="9.5" fill="#48c16e"/>
<circle cx="451.5" cy="495.9" r="9.5" fill="#dde318"/>
<circle cx="376.8" cy="516.0" r="9.5" fill="#b8de29"/>
<circle cx="597.2" cy="620.5" r="9.5" fill="#86d549"/>
<circle cx="537.1" cy="561.6" r="9.5" fill="#4ec36b"/>
<circle cx="487.4" cy="534.2" r="9.5" fill="#dae319"/>
<circle cx="532.0" cy="477.8" r="9.5" fill="#d8e219"/>
<circle cx="445.2" cy="719.3" r="9.5" fill="#2c738e"/>
<circle cx="323.5" cy="488.5" r="9.5" fill="#29af7f"/>
<circle cx="528.7" cy="366.6" r="9.5" fill="#eae51a"/>
<circle cx="667.8" cy="773.5" r="9.5" fill="#1f978b"/>
<circle cx="786.9" cy="626.2" r="9.5" fill="#482677"/>
<circle cx="660.8" cy="634.9" r="9.5" fill="#22a785"/>
<circle cx="849.5" cy="613.4" r="9.5" fill="#24878e"/>
<circle cx="822.5" cy="591.0" r="9.5" fill="#48c16e"/>
<circle cx="624.3" cy="735.1" r="9.5" fill="#1e9b8a"/>
<circle cx="398.4" cy="617.2" r="9.5" fill="#20a386"/>
<circle cx="700.5" cy="671.1" r="9.5" fill="#375b8d"/>
<circle cx="607.3" cy="578.7" r="9.5" fill="#98d83e"/>
<circle cx="443.2" cy="729.8" r="9.5" fill="#28ae80"/>
<circle cx="593.6" cy="726.6" r="9.5" fill="#1f948c"/>
<circle cx="816.3" cy="782.3" r="9.5" fill="#218e8d"/>
<circle cx="335.3" cy="449.6" r="9.5" fill="#d0e11c"/>
<circle cx="706.4" cy="497.5" r="9.5" fill="#46c06f"/>
<circle cx="508.8" cy="644.4" r="9.5" fill="#1f9a8a"/>
<circle cx="555.4" cy="769.7" r="9.5" fill="#3e4989"/>
<circle cx="351.6" cy="527.7" r="9.5" fill="#73d056"/>
<circle cx="729.4" cy="749.9" r="9.5" fill="#440154"/>
<circle cx="627.0" cy="492.4" r="9.5" fill="#29af7f"/>
<circle cx="441.1" cy="624.8" r="9.5" fill="#5cc863"/>
<circle cx="424.7" cy="493.0" r="9.5" fill="#d8e219"/>
<circle cx="511.4" cy="577.8" r="9.5" fill="#8ed645"/>
<circle cx="428.1" cy="391.5" r="9.5" fill="#4ac16d"/>
<circle cx="851.6" cy="578.2" r="9.5" fill="#1e9d89"/>
<circle cx="816.9" cy="577.2" r="9.5" fill="#2db27d"/>
<circle cx="747.9" cy="542.8" r="9.5" fill="#35b779"/>
<circle cx="443.6" cy="563.9" r="9.5" fill="#aadc32"/>
<circle cx="772.2" cy="529.6" r="9.5" fill="#21a685"/>
<circle cx="582.0" cy="779.1" r="9.5" fill="#31678e"/>
<circle cx="692.2" cy="381.5" r="9.5" fill="#70cf57"/>
<circle cx="680.7" cy="608.3" r="9.5" fill="#375a8c"/>
<circle cx="356.3" cy="543.0" r="9.5" fill="#c0df25"/>
<circle cx="483.6" cy="631.9" r="9.5" fill="#2db27d"/>
<circle cx="657.1" cy="667.0" r="9.5" fill="#375b8d"/>
<circle cx="762.2" cy="673.0" r="9.5" fill="#27ad81"/>
<circle cx="709.0" cy="720.4" r="9.5" fill="#1e9d89"/>
<circle cx="555.0" cy="535.4" r="9.5" fill="#2eb37c"/>
<circle cx="638.9" cy="459.3" r="9.5" fill="#b8de29"/>
<circle cx="538.4" cy="491.0" r="9.5" fill="#7fd34e"/>
<circle cx="675.0" cy="532.2" r="9.5" fill="#5ac864"/>
<circle cx="752.5" cy="716.0" r="9.5" fill="#39568c"/>
<circle cx="603.0" cy="395.0" r="9.5" fill="#2ab07f"/>
<circle cx="514.1" cy="324.6" r="9.5" fill="#fde725"/>
<circle cx="341.6" cy="458.2" r="9.5" fill="#f6e620"/>
<circle cx="689.3" cy="440.7" r="9.5" fill="#5ac864"/>
<circle cx="593.9" cy="448.2" r="9.5" fill="#cde11d"/>
<circle cx="522.8" cy="621.5" r="9.5" fill="#77d153"/>
<circle cx="436.1" cy="585.4" r="9.5" fill="#b2dd2d"/>
<circle cx="734.3" cy="657.1" r="9.5" fill="#228b8d"/>
<circle cx="488.8" cy="494.1" r="9.5" fill="#50c46a"/>
<circle cx="415.4" cy="386.5" r="9.5" fill="#93d741"/>
<circle cx="392.5" cy="437.1" r="9.5" fill="#7cd250"/>
<circle cx="488.4" cy="608.8" r="9.5" fill="#21a585"/>
<circle cx="559.8" cy="636.7" r="9.5" fill="#23a983"/>
<circle cx="541.6" cy="571.1" r="9.5" fill="#9dd93b"/>
<circle cx="568.4" cy="438.7" r="9.5" fill="#65cb5e"/>
<circle cx="511.2" cy="332.1" r="9.5" fill="#fde725"/>
<circle cx="575.0" cy="602.7" r="9.5" fill="#26828e"/>
<circle cx="431.0" cy="359.5" r="9.5" fill="#e2e418"/>
<circle cx="697.0" cy="433.3" r="9.5" fill="#93d741"/>
<circle cx="534.5" cy="557.3" r="9.5" fill="#44bf70"/>
<circle cx="564.7" cy="504.7" r="9.5" fill="#67cc5c"/>
<circle cx="749.1" cy="440.5" r="9.5" fill="#2eb37c"/>
<circle cx="698.1" cy="519.5" r="9.5" fill="#42be71"/>
<circle cx="400.0" cy="358.5" r="9.5" fill="#b0dd2f"/>
<circle cx="538.2" cy="673.7" r="9.5" fill="#44bf70"/>
<circle cx="472.2" cy="518.2" r="9.5" fill="#8bd646"/>
<circle cx="458.0" cy="409.1" r="9.5" fill="#fde725"/>
<circle cx="651.5" cy="632.9" r="9.5" fill="#23898e"/>
<circle cx="433.6" cy="687.9" r="9.5" fill="#1f958b"/>
<circle cx="726.9" cy="502.3" r="9.5" fill="#20928c"/>
<circle cx="480.2" cy="616.9" r="9.5" fill="#2ab07f"/>
<circle cx="610.5" cy="402.4" r="9.5" fill="#cde11d"/>
<circle cx="762.7" cy="727.0" r="9.5" fill="#440154"/>
<circle cx="553.8" cy="594.3" r="9.5" fill="#1e9d89"/>
<circle cx="393.7" cy="493.1" r="9.5" fill="#84d44b"/>
<circle cx="870.9" cy="603.4" r="9.5" fill="#21a685"/>
<circle cx="601.1" cy="602.9" r="9.5" fill="#1f9f88"/>
<circle cx="767.0" cy="707.5" r="9.5" fill="#443983"/>
<circle cx="441.8" cy="406.6" r="9.5" fill="#f8e621"/>
<circle cx="581.7" cy="345.8" r="9.5" fill="#8ed645"/>
<circle cx="723.0" cy="760.6" r="9.5" fill="#3a538b"/>
<circle cx="346.2" cy="645.1" r="9.5" fill="#44bf70"/>
<circle cx="767.7" cy="693.2" r="9.5" fill="#2f6c8e"/>
<circle cx="828.2" cy="605.8" r="9.5" fill="#355e8d"/>
<circle cx="497.3" cy="360.3" r="9.5" fill="#aadc32"/>
<circle cx="426.6" cy="423.7" r="9.5" fill="#bade28"/>
<circle cx="385.8" cy="565.5" r="9.5" fill="#8bd646"/>
<circle cx="606.3" cy="698.0" r="9.5" fill="#218e8d"/>
<circle cx="450.5" cy="562.1" r="9.5" fill="#e2e418"/>
<circle cx="543.2" cy="505.9" r="9.5" fill="#dae319"/>
<circle cx="762.0" cy="695.0" r="9.5" fill="#27ad81"/>
<circle cx="704.4" cy="731.2" r="9.5" fill="#287d8e"/>
<circle cx="550.0" cy="724.0" r="9.5" fill="#1f9a8a"/>
<circle cx="378.7" cy="393.5" r="9.5" fill="#fde725"/>
<circle cx="427.5" cy="494.2" r="9.5" fill="#2eb37c"/>
<circle cx="492.3" cy="568.2" r="9.5" fill="#81d34d"/>
<circle cx="861.1" cy="689.5" r="9.5" fill="#375a8c"/>
<circle cx="407.7" cy="484.5" r="9.5" fill="#69cd5b"/>
<circle cx="432.2" cy="556.2" r="9.5" fill="#3aba76"/>
<circle cx="764.1" cy="674.7" r="9.5" fill="#471063"/>
<circle cx="581.4" cy="540.0" r="9.5" fill="#fde725"/>
<circle cx="483.5" cy="764.0" r="9.5" fill="#355f8d"/>
<circle cx="739.4" cy="689.9" r="9.5" fill="#440154"/>
<circle cx="739.3" cy="457.4" r="9.5" fill="#b0dd2f"/>
<circle cx="511.8" cy="564.2" r="9.5" fill="#fde725"/>
<circle cx="340.5" cy="527.7" r="9.5" fill="#4ec36b"/>
<circle cx="520.8" cy="307.9" r="9.5" fill="#8ed645"/>
<circle cx="661.4" cy="580.1" r="9.5" fill="#2b748e"/>
<circle cx="798.9" cy="553.0" r="9.5" fill="#306a8e"/>
<circle cx="578.3" cy="510.0" r="9.5" fill="#2cb17e"/>
<circle cx="319.7" cy="592.6" r="9.5" fill="#3fbc73"/>
<circle cx="504.0" cy="509.2" r="9.5" fill="#89d548"/>
<circle cx="326.1" cy="562.6" r="9.5" fill="#38b977"/>
<circle cx="730.6" cy="599.9" r="9.5" fill="#440256"/>
<circle cx="479.9" cy="435.5" r="9.5" fill="#bade28"/>
<circle cx="376.4" cy="493.6" r="9.5" fill="#89d548"/>
<circle cx="371.3" cy="399.8" r="9.5" fill="#e2e418"/>
<circle cx="795.7" cy="599.1" r="9.5" fill="#23a983"/>
<circle cx="729.1" cy="642.0" r="9.5" fill="#453581"/>
<circle cx="359.2" cy="630.6" r="9.5" fill="#26828e"/>
<circle cx="496.8" cy="699.7" r="9.5" fill="#355e8d"/>
<circle cx="681.9" cy="428.4" r="9.5" fill="#98d83e"/>
<circle cx="488.5" cy="398.0" r="9.5" fill="#dde318"/>
<circle cx="751.0" cy="430.4" r="9.5" fill="#21a685"/>
<circle cx="578.5" cy="722.3" r="9.5" fill="#33628d"/>
<circle cx="584.2" cy="597.5" r="9.5" fill="#28ae80"/>
<circle cx="451.6" cy="554.5" r="9.5" fill="#2db27d"/>
<circle cx="791.4" cy="541.5" r="9.5" fill="#1e9b8a"/>
<circle cx="371.4" cy="623.6" r="9.5" fill="#4cc26c"/>
<circle cx="607.5" cy="377.4" r="9.5" fill="#8ed645"/>
<circle cx="481.8" cy="540.1" r="9.5" fill="#c0df25"/>
<circle cx="368.0" cy="627.4" r="9.5" fill="#22a884"/>
<circle cx="441.2" cy="604.8" r="9.5" fill="#dae319"/>
<circle cx="670.8" cy="641.8" r="9.5" fill="#23898e"/>
<circle cx="522.8" cy="518.6" r="9.5" fill="#5ec962"/>
<circle cx="709.1" cy="476.8" r="9.5" fill="#2e6f8e"/>
<circle cx="641.0" cy="559.9" r="9.5" fill="#1f958b"/>
<circle cx="370.6" cy="378.5" r="9.5" fill="#fde725"/>
<circle cx="540.8" cy="601.5" r="9.5" fill="#1e9b8a"/>
<circle cx="503.3" cy="473.0" r="9.5" fill="#7cd250"/>
<circle cx="551.4" cy="571.6" r="9.5" fill="#3dbc74"/>
<circle cx="756.9" cy="734.6" r="9.5" fill="#26828e"/>
<circle cx="524.6" cy="431.3" r="9.5" fill="#fde725"/>
<circle cx="335.4" cy="443.7" r="9.5" fill="#c8e020"/>
<circle cx="603.1" cy="417.9" r="9.5" fill="#73d056"/>
<circle cx="769.6" cy="535.1" r="9.5" fill="#414287"/>
<circle cx="574.8" cy="675.1" r="9.5" fill="#2a778e"/>
<circle cx="637.1" cy="542.1" r="9.5" fill="#26ad81"/>
<circle cx="423.8" cy="519.4" r="9.5" fill="#fde725"/>
<circle cx="849.8" cy="620.4" r="9.5" fill="#32b67a"/>
<circle cx="880.3" cy="597.2" r="9.5" fill="#22a884"/>
<circle cx="686.8" cy="449.2" r="9.5" fill="#5ec962"/>
<circle cx="554.8" cy="344.1" r="9.5" fill="#c5e021"/>
<circle cx="817.8" cy="571.9" r="9.5" fill="#2d708e"/>
<circle cx="369.7" cy="502.1" r="9.5" fill="#4ac16d"/>
<circle cx="437.1" cy="536.9" r="9.5" fill="#52c569"/>
<circle cx="529.1" cy="582.0" r="9.5" fill="#73d056"/>
<circle cx="469.4" cy="493.3" r="9.5" fill="#d5e21a"/>
<circle cx="527.3" cy="430.7" r="9.5" fill="#22a884"/>
<circle cx="476.9" cy="522.4" r="9.5" fill="#fde725"/>
<circle cx="446.5" cy="630.9" r="9.5" fill="#98d83e"/>
<circle cx="725.7" cy="582.0" r="9.5" fill="#25858e"/>
<circle cx="572.7" cy="464.0" r="9.5" fill="#c0df25"/>
<circle cx="345.4" cy="611.9" r="9.5" fill="#32b67a"/>
<circle cx="586.6" cy="583.4" r="9.5" fill="#37b878"/>
<circle cx="524.3" cy="389.3" r="9.5" fill="#dde318"/>
<circle cx="518.6" cy="426.4" r="9.5" fill="#b0dd2f"/>
<circle cx="331.5" cy="554.5" r="9.5" fill="#70cf57"/>
<circle cx="424.5" cy="586.4" r="9.5" fill="#23888e"/>
<circle cx="687.5" cy="751.7" r="9.5" fill="#24868e"/>
<circle cx="666.9" cy="595.8" r="9.5" fill="#228d8d"/>
<circle cx="605.3" cy="791.8" r="9.5" fill="#20928c"/>
<circle cx="554.6" cy="537.8" r="9.5" fill="#7fd34e"/>
<circle cx="859.7" cy="608.4" r="9.5" fill="#355f8d"/>
<circle cx="430.7" cy="367.6" r="9.5" fill="#9dd93b"/>
<circle cx="385.3" cy="461.7" r="9.5" fill="#4ac16d"/>
<circle cx="488.4" cy="682.2" r="9.5" fill="#63cb5f"/>
<circle cx="744.0" cy="573.2" r="9.5" fill="#2cb17e"/>
<circle cx="822.4" cy="648.1" r="9.5" fill="#27808e"/>
<circle cx="742.1" cy="541.2" r="9.5" fill="#4ac16d"/>
<circle cx="683.7" cy="584.1" r="9.5" fill="#48c16e"/>
<circle cx="749.5" cy="599.6" r="9.5" fill="#3aba76"/>
<circle cx="397.9" cy="571.0" r="9.5" fill="#228c8d"/>
<circle cx="667.0" cy="577.8" r="9.5" fill="#25ab82"/>
<circle cx="393.9" cy="638.5" r="9.5" fill="#46c06f"/>
<circle cx="648.7" cy="462.3" r="9.5" fill="#c0df25"/>
<circle cx="576.4" cy="538.8" r="9.5" fill="#25858e"/>
<circle cx="661.5" cy="680.3" r="9.5" fill="#404688"/>
<circle cx="487.7" cy="362.5" r="9.5" fill="#95d840"/>
<circle cx="467.2" cy="483.4" r="9.5" fill="#bddf26"/>
<circle cx="763.0" cy="692.4" r="9.5" fill="#1f978b"/>
<circle cx="686.4" cy="478.9" r="9.5" fill="#3b518b"/>
<circle cx="625.5" cy="585.2" r="9.5" fill="#20a386"/>
<circle cx="558.5" cy="661.9" r="9.5" fill="#3d4e8a"/>
<circle cx="375.8" cy="475.4" r="9.5" fill="#aadc32"/>
<circle cx="726.4" cy="631.7" r="9.5" fill="#424186"/>
<circle cx="547.0" cy="519.1" r="9.5" fill="#8bd646"/>
<circle cx="531.1" cy="665.6" r="9.5" fill="#37b878"/>
<circle cx="526.2" cy="769.5" r="9.5" fill="#365d8d"/>
<circle cx="593.6" cy="713.1" r="9.5" fill="#471063"/>
<circle cx="604.0" cy="559.1" r="9.5" fill="#5cc863"/>
<circle cx="423.0" cy="619.1" r="9.5" fill="#6ccd5a"/>
<circle cx="808.2" cy="737.6" r="9.5" fill="#450559"/>
<circle cx="446.1" cy="649.9" r="9.5" fill="#287d8e"/>
<circle cx="790.6" cy="580.7" r="9.5" fill="#1f988b"/>
<circle cx="603.5" cy="674.4" r="9.5" fill="#2e6d8e"/>
<circle cx="426.1" cy="639.3" r="9.5" fill="#2d708e"/>
<circle cx="340.2" cy="519.6" r="9.5" fill="#238a8d"/>
<circle cx="412.1" cy="600.2" r="9.5" fill="#69cd5b"/>
<circle cx="611.7" cy="684.6" r="9.5" fill="#2f6b8e"/>
<circle cx="591.4" cy="455.1" r="9.5" fill="#23a983"/>
<circle cx="667.8" cy="410.0" r="9.5" fill="#6ece58"/>
<circle cx="802.2" cy="731.9" r="9.5" fill="#453581"/>
<circle cx="609.5" cy="399.2" r="9.5" fill="#84d44b"/>
<circle cx="826.4" cy="650.4" r="9.5" fill="#26818e"/>
<circle cx="851.1" cy="723.7" r="9.5" fill="#1f988b"/>
<circle cx="331.9" cy="531.5" r="9.5" fill="#5ec962"/>
<circle cx="598.3" cy="452.6" r="9.5" fill="#b0dd2f"/>
<circle cx="658.9" cy="671.4" r="9.5" fill="#1fa188"/>
<circle cx="659.0" cy="698.3" r="9.5" fill="#40bd72"/>
<circle cx="365.2" cy="544.9" r="9.5" fill="#1fa287"/>
<circle cx="587.2" cy="646.7" r="9.5" fill="#23898e"/>
<circle cx="802.5" cy="706.2" r="9.5" fill="#414287"/>
<circle cx="529.7" cy="532.5" r="9.5" fill="#54c568"/>
<circle cx="578.6" cy="380.8" r="9.5" fill="#b2dd2d"/>
<circle cx="367.9" cy="417.3" r="9.5" fill="#fde725"/>
<circle cx="596.6" cy="541.0" r="9.5" fill="#84d44b"/>
<circle cx="523.0" cy="695.8" r="9.5" fill="#4ec36b"/>
<circle cx="440.3" cy="535.8" r="9.5" fill="#84d44b"/>
<circle cx="689.2" cy="657.7" r="9.5" fill="#24868e"/>
<circle cx="784.4" cy="458.1" r="9.5" fill="#26828e"/>
<circle cx="786.0" cy="707.6" r="9.5" fill="#34608d"/>
<circle cx="706.2" cy="668.7" r="9.5" fill="#472f7d"/>
<circle cx="647.4" cy="501.3" r="9.5" fill="#54c568"/>
<circle cx="756.7" cy="724.3" r="9.5" fill="#32648e"/>
<circle cx="468.9" cy="699.5" r="9.5" fill="#277e8e"/>
<circle cx="353.5" cy="447.4" r="9.5" fill="#81d34d"/>
<circle cx="331.8" cy="459.2" r="9.5" fill="#bade28"/>
<circle cx="740.9" cy="479.2" r="9.5" fill="#21908d"/>
<circle cx="691.2" cy="658.8" r="9.5" fill="#1f998a"/>
<circle cx="704.5" cy="484.9" r="9.5" fill="#37b878"/>
<circle cx="496.8" cy="668.6" r="9.5" fill="#73d056"/>
<circle cx="465.8" cy="553.9" r="9.5" fill="#7fd34e"/>
<circle cx="659.2" cy="610.4" r="9.5" fill="#1f998a"/>
<circle cx="364.7" cy="505.7" r="9.5" fill="#c2df23"/>
<circle cx="625.1" cy="634.8" r="9.5" fill="#24878e"/>
<circle cx="535.7" cy="452.0" r="9.5" fill="#7fd34e"/>
<circle cx="602.5" cy="620.0" r="9.5" fill="#26828e"/>
<circle cx="477.3" cy="740.2" r="9.5" fill="#46085c"/>
<circle cx="485.2" cy="398.1" r="9.5" fill="#eae51a"/>
<circle cx="586.4" cy="583.1" r="9.5" fill="#1e9c89"/>
<circle cx="497.9" cy="502.6" r="9.5" fill="#7cd250"/>
<circle cx="497.1" cy="793.2" r="9.5" fill="#482071"/>
<circle cx="784.6" cy="718.6" r="9.5" fill="#481769"/>
<circle cx="837.9" cy="733.7" r="9.5" fill="#25858e"/>
<circle cx="782.9" cy="712.1" r="9.5" fill="#2c718e"/>
<circle cx="463.9" cy="344.3" r="9.5" fill="#f1e51d"/>
<circle cx="489.4" cy="673.3" r="9.5" fill="#1f988b"/>
<circle cx="361.4" cy="367.3" r="9.5" fill="#efe51c"/>
<circle cx="503.2" cy="549.7" r="9.5" fill="#73d056"/>
<circle cx="703.6" cy="500.0" r="9.5" fill="#20938c"/>
<circle cx="664.5" cy="477.5" r="9.5" fill="#48c16e"/>
<circle cx="660.4" cy="701.5" r="9.5" fill="#2d708e"/>
<circle cx="453.5" cy="632.0" r="9.5" fill="#25838e"/>
<circle cx="673.6" cy="420.5" r="9.5" fill="#35b779"/>
<circle cx="470.7" cy="648.9" r="9.5" fill="#1fa188"/>
<circle cx="386.4" cy="478.1" r="9.5" fill="#fde725"/>
<circle cx="821.3" cy="598.8" r="9.5" fill="#32b67a"/>
<circle cx="512.2" cy="361.3" r="9.5" fill="#3a548c"/>
<circle cx="479.8" cy="701.6" r="9.5" fill="#22a785"/>
<circle cx="537.5" cy="535.3" r="9.5" fill="#7cd250"/>
<circle cx="719.6" cy="666.8" r="9.5" fill="#39568c"/>
<circle cx="516.7" cy="448.3" r="9.5" fill="#efe51c"/>
<circle cx="454.9" cy="642.6" r="9.5" fill="#3bbb75"/>
<circle cx="692.6" cy="564.1" r="9.5" fill="#38b977"/>
<circle cx="877.2" cy="702.8" r="9.5" fill="#38598c"/>
<circle cx="776.5" cy="741.0" r="9.5" fill="#424186"/>
<circle cx="880.3" cy="623.9" r="9.5" fill="#2a788e"/>
<circle cx="729.0" cy="563.2" r="9.5" fill="#3e4989"/>
<circle cx="769.5" cy="755.5" r="9.5" fill="#472e7c"/>
<circle cx="500.1" cy="776.5" r="9.5" fill="#2ab07f"/>
<circle cx="588.6" cy="501.7" r="9.5" fill="#f1e51d"/>
<circle cx="396.8" cy="603.0" r="9.5" fill="#6ece58"/>
<circle cx="410.9" cy="338.6" r="9.5" fill="#fde725"/>
<circle cx="369.2" cy="471.9" r="9.5" fill="#77d153"/>
<circle cx="896.8" cy="674.5" r="9.5" fill="#58c765"/>
<circle cx="712.1" cy="415.3" r="9.5" fill="#5cc863"/>
<circle cx="522.9" cy="595.7" r="9.5" fill="#86d549"/>
<circle cx="726.7" cy="644.5" r="9.5" fill="#2e6f8e"/>
<circle cx="580.0" cy="785.9" r="9.5" fill="#440154"/>
<circle cx="509.7" cy="543.5" r="9.5" fill="#33628d"/>
<circle cx="371.0" cy="412.1" r="9.5" fill="#fde725"/>
<circle cx="330.4" cy="457.9" r="9.5" fill="#e2e418"/>
<circle cx="488.6" cy="778.3" r="9.5" fill="#471063"/>
<circle cx="632.9" cy="713.4" r="9.5" fill="#287d8e"/>
<circle cx="513.2" cy="609.2" r="9.5" fill="#228d8d"/>
<circle cx="532.0" cy="637.2" r="9.5" fill="#2fb47c"/>
<circle cx="507.8" cy="679.7" r="9.5" fill="#375a8c"/>
<circle cx="594.1" cy="736.1" r="9.5" fill="#22a884"/>
<circle cx="437.9" cy="565.9" r="9.5" fill="#dfe318"/>
<circle cx="724.5" cy="709.1" r="9.5" fill="#22a884"/>
<circle cx="424.6" cy="448.2" r="9.5" fill="#d8e219"/>
<circle cx="736.2" cy="478.3" r="9.5" fill="#22a884"/>
<circle cx="402.4" cy="491.5" r="9.5" fill="#b2dd2d"/>
<circle cx="687.3" cy="489.5" r="9.5" fill="#63cb5f"/>
<circle cx="458.2" cy="687.0" r="9.5" fill="#21918c"/>
<circle cx="708.0" cy="465.5" r="9.5" fill="#7ad151"/>
<circle cx="751.5" cy="608.0" r="9.5" fill="#31688e"/>
<circle cx="574.5" cy="536.4" r="9.5" fill="#bade28"/>
<circle cx="614.7" cy="691.5" r="9.5" fill="#44bf70"/>
<circle cx="535.7" cy="715.0" r="9.5" fill="#29798e"/>
<circle cx="403.5" cy="611.2" r="9.5" fill="#8bd646"/>
<circle cx="564.5" cy="745.2" r="9.5" fill="#46327e"/>
<circle cx="528.0" cy="533.7" r="9.5" fill="#addc30"/>
<circle cx="355.6" cy="363.8" r="9.5" fill="#28ae80"/>
<circle cx="816.7" cy="711.8" r="9.5" fill="#30698e"/>
<circle cx="537.2" cy="430.1" r="9.5" fill="#5ac864"/>
<circle cx="611.1" cy="749.9" r="9.5" fill="#433d84"/>
<circle cx="707.2" cy="505.9" r="9.5" fill="#86d549"/>
<circle cx="442.4" cy="578.7" r="9.5" fill="#fde725"/>
<circle cx="709.0" cy="497.2" r="9.5" fill="#63cb5f"/>
<circle cx="778.7" cy="705.4" r="9.5" fill="#355e8d"/>
<circle cx="463.5" cy="709.7" r="9.5" fill="#2d708e"/>
<circle cx="760.8" cy="703.0" r="9.5" fill="#228d8d"/>
<circle cx="425.8" cy="569.8" r="9.5" fill="#25ab82"/>
<circle cx="718.2" cy="439.6" r="9.5" fill="#58c765"/>
<circle cx="444.4" cy="372.9" r="9.5" fill="#6ece58"/>
<circle cx="352.5" cy="609.1" r="9.5" fill="#5ec962"/>
<circle cx="718.8" cy="683.3" r="9.5" fill="#29af7f"/>
<circle cx="606.5" cy="794.8" r="9.5" fill="#2c718e"/>
<circle cx="465.8" cy="623.2" r="9.5" fill="#20a386"/>
<circle cx="427.3" cy="564.4" r="9.5" fill="#48c16e"/>
<circle cx="510.7" cy="424.1" r="9.5" fill="#b0dd2f"/>
<circle cx="678.2" cy="540.4" r="9.5" fill="#32658e"/>
<circle cx="458.6" cy="344.1" r="9.5" fill="#b8de29"/>
<circle cx="676.2" cy="711.0" r="9.5" fill="#34618d"/>
<circle cx="570.0" cy="594.4" r="9.5" fill="#1e9d89"/>
<circle cx="701.7" cy="578.5" r="9.5" fill="#1f9f88"/>
<circle cx="490.8" cy="471.7" r="9.5" fill="#fde725"/>
<circle cx="338.3" cy="532.4" r="9.5" fill="#a8db34"/>
<circle cx="530.3" cy="527.4" r="9.5" fill="#84d44b"/>
<circle cx="512.9" cy="368.4" r="9.5" fill="#27ad81"/>
<circle cx="652.9" cy="568.2" r="9.5" fill="#1f978b"/>
<circle cx="832.2" cy="763.4" r="9.5" fill="#440154"/>
<circle cx="411.7" cy="506.3" r="9.5" fill="#2ab07f"/>
<circle cx="544.4" cy="687.9" r="9.5" fill="#32648e"/>
<circle cx="498.6" cy="405.7" r="9.5" fill="#dae319"/>
<circle cx="705.3" cy="492.1" r="9.5" fill="#23898e"/>
<circle cx="609.3" cy="718.1" r="9.5" fill="#2a768e"/>
<circle cx="525.6" cy="720.3" r="9.5" fill="#27ad81"/>
<circle cx="465.4" cy="765.5" r="9.5" fill="#1f9e89"/>
<circle cx="429.3" cy="371.7" r="9.5" fill="#dde318"/>
<circle cx="755.6" cy="709.0" r="9.5" fill="#38598c"/>
<circle cx="589.5" cy="456.2" r="9.5" fill="#9bd93c"/>
<circle cx="330.3" cy="427.9" r="9.5" fill="#60ca60"/>
<circle cx="439.8" cy="729.9" r="9.5" fill="#472e7c"/>
<circle cx="558.8" cy="484.0" r="9.5" fill="#c5e021"/>
<circle cx="686.3" cy="398.2" r="9.5" fill="#58c765"/>
<circle cx="681.8" cy="512.8" r="9.5" fill="#58c765"/>
<circle cx="572.8" cy="726.3" r="9.5" fill="#453882"/>
<circle cx="585.1" cy="599.2" r="9.5" fill="#8bd646"/>
<circle cx="457.7" cy="549.7" r="9.5" fill="#54c568"/>
<circle cx="717.0" cy="532.9" r="9.5" fill="#29af7f"/>
<circle cx="639.7" cy="536.9" r="9.5" fill="#25ac82"/>
<circle cx="672.3" cy="580.4" r="9.5" fill="#218f8d"/>
<circle cx="753.0" cy="642.5" r="9.5" fill="#20938c"/>
<circle cx="462.6" cy="427.9" r="9.5" fill="#f8e621"/>
<circle cx="571.0" cy="455.4" r="9.5" fill="#23a983"/>
<circle cx="340.8" cy="438.7" r="9.5" fill="#84d44b"/>
<circle cx="454.2" cy="665.5" r="9.5" fill="#1f978b"/>
<circle cx="377.1" cy="528.2" r="9.5" fill="#3bbb75"/>
<circle cx="432.8" cy="535.4" r="9.5" fill="#cde11d"/>
<circle cx="617.6" cy="572.3" r="9.5" fill="#228c8d"/>
<circle cx="685.3" cy="575.5" r="9.5" fill="#1e9c89"/>
<circle cx="669.7" cy="662.9" r="9.5" fill="#3bbb75"/>
<circle cx="818.0" cy="607.6" r="9.5" fill="#1fa287"/>
<circle cx="435.2" cy="592.5" r="9.5" fill="#5ac864"/>
<circle cx="672.9" cy="615.7" r="9.5" fill="#25ab82"/>
<circle cx="489.0" cy="509.0" r="9.5" fill="#e7e419"/>
<circle cx="519.5" cy="462.3" r="9.5" fill="#77d153"/>
<circle cx="798.0" cy="674.5" r="9.5" fill="#306a8e"/>
<circle cx="632.1" cy="545.6" r="9.5" fill="#40bd72"/>
<circle cx="493.6" cy="793.5" r="9.5" fill="#2d718e"/>
<circle cx="677.1" cy="681.5" r="9.5" fill="#3e4a89"/>
<circle cx="456.0" cy="352.8" r="9.5" fill="#77d153"/>
<circle cx="461.8" cy="357.9" r="9.5" fill="#bade28"/>
<circle cx="392.2" cy="551.8" r="9.5" fill="#60ca60"/>
<circle cx="513.0" cy="540.2" r="9.5" fill="#84d44b"/>
<circle cx="731.8" cy="631.4" r="9.5" fill="#39558c"/>
<circle cx="341.2" cy="498.5" r="9.5" fill="#56c667"/>
<circle cx="811.4" cy="628.5" r="9.5" fill="#297a8e"/>
<circle cx="728.9" cy="660.3" r="9.5" fill="#39568c"/>
<circle cx="350.4" cy="426.2" r="9.5" fill="#b5de2b"/>
<circle cx="554.5" cy="552.3" r="9.5" fill="#1f998a"/>
<circle cx="612.6" cy="688.4" r="9.5" fill="#38588c"/>
<circle cx="660.6" cy="500.9" r="9.5" fill="#3dbc74"/>
<circle cx="522.1" cy="541.9" r="9.5" fill="#2db27d"/>
<circle cx="597.8" cy="435.1" r="9.5" fill="#63cb5f"/>
<circle cx="432.8" cy="609.1" r="9.5" fill="#5cc863"/>
<circle cx="738.7" cy="493.1" r="9.5" fill="#23a983"/>
<circle cx="566.5" cy="471.7" r="9.5" fill="#a2da37"/>
<circle cx="398.5" cy="454.0" r="9.5" fill="#93d741"/>
<circle cx="518.5" cy="549.3" r="9.5" fill="#6ece58"/>
<circle cx="510.6" cy="575.4" r="9.5" fill="#4ec36b"/>
<circle cx="435.8" cy="342.9" r="9.5" fill="#46c06f"/>
<circle cx="649.0" cy="572.8" r="9.5" fill="#2d708e"/>
<circle cx="707.5" cy="409.3" r="9.5" fill="#70cf57"/>
<circle cx="762.5" cy="569.1" r="9.5" fill="#32648e"/>
<circle cx="565.4" cy="772.6" r="9.5" fill="#287c8e"/>
<circle cx="631.1" cy="684.3" r="9.5" fill="#29af7f"/>
<circle cx="388.9" cy="369.4" r="9.5" fill="#35b779"/>
<circle cx="484.9" cy="438.2" r="9.5" fill="#4ec36b"/>
<circle cx="557.0" cy="354.7" r="9.5" fill="#cae11f"/>
<circle cx="730.7" cy="567.1" r="9.5" fill="#238a8d"/>
<circle cx="494.5" cy="320.2" r="9.5" fill="#e2e418"/>
<circle cx="486.6" cy="672.6" r="9.5" fill="#440154"/>
<circle cx="726.5" cy="557.1" r="9.5" fill="#25848e"/>
<circle cx="617.8" cy="577.7" r="9.5" fill="#482576"/>
<circle cx="780.4" cy="674.4" r="9.5" fill="#2b758e"/>
<circle cx="776.1" cy="427.8" r="9.5" fill="#84d44b"/>
<circle cx="349.1" cy="634.2" r="9.5" fill="#35b779"/>
<circle cx="406.9" cy="426.9" r="9.5" fill="#e5e419"/>
<circle cx="617.4" cy="471.7" r="9.5" fill="#86d549"/>
<circle cx="741.9" cy="662.9" r="9.5" fill="#443b84"/>
<circle cx="523.7" cy="413.8" r="9.5" fill="#aadc32"/>
<circle cx="614.7" cy="776.4" r="9.5" fill="#1f948c"/>
<circle cx="502.4" cy="325.7" r="9.5" fill="#95d840"/>
<circle cx="598.0" cy="482.2" r="9.5" fill="#81d34d"/>
<circle cx="809.4" cy="683.2" r="9.5" fill="#25838e"/>
<circle cx="540.0" cy="661.7" r="9.5" fill="#35b779"/>
<circle cx="427.0" cy="457.0" r="9.5" fill="#f1e51d"/>
<circle cx="778.3" cy="566.8" r="9.5" fill="#4cc26c"/>
<circle cx="636.2" cy="551.1" r="9.5" fill="#2e6d8e"/>
<circle cx="731.4" cy="572.9" r="9.5" fill="#28ae80"/>
<circle cx="359.9" cy="455.6" r="9.5" fill="#d2e21b"/>
<circle cx="785.7" cy="552.0" r="9.5" fill="#46075a"/>
<circle cx="487.9" cy="759.1" r="9.5" fill="#287d8e"/>
<circle cx="703.0" cy="548.8" r="9.5" fill="#25838e"/>
<circle cx="443.1" cy="487.5" r="9.5" fill="#f6e620"/>
<circle cx="608.3" cy="512.6" r="9.5" fill="#433e85"/>
<circle cx="392.2" cy="586.3" r="9.5" fill="#26828e"/>
<circle cx="801.1" cy="701.7" r="9.5" fill="#2d718e"/>
<circle cx="596.7" cy="437.3" r="9.5" fill="#56c667"/>
<circle cx="803.7" cy="639.0" r="9.5" fill="#c2df23"/>
<circle cx="470.3" cy="403.8" r="9.5" fill="#fde725"/>
<circle cx="391.0" cy="661.2" r="9.5" fill="#22a884"/>
<circle cx="618.8" cy="411.8" r="9.5" fill="#6ece58"/>
<circle cx="585.1" cy="503.5" r="9.5" fill="#95d840"/>
<circle cx="356.3" cy="623.0" r="9.5" fill="#24878e"/>
<circle cx="556.7" cy="527.2" r="9.5" fill="#4cc26c"/>
<circle cx="744.7" cy="532.1" r="9.5" fill="#1f9a8a"/>
<circle cx="754.5" cy="652.6" r="9.5" fill="#472e7c"/>
<circle cx="509.9" cy="484.0" r="9.5" fill="#7ad151"/>
<circle cx="750.5" cy="479.2" r="9.5" fill="#63cb5f"/>
<circle cx="544.0" cy="418.4" r="9.5" fill="#a0da39"/>
<circle cx="315.0" cy="559.4" r="9.5" fill="#67cc5c"/>
<circle cx="341.6" cy="647.4" r="9.5" fill="#4cc26c"/>
<circle cx="399.1" cy="689.1" r="9.5" fill="#277e8e"/>
<circle cx="863.2" cy="591.1" r="9.5" fill="#277e8e"/>
<circle cx="459.6" cy="760.7" r="9.5" fill="#32658e"/>
<circle cx="477.9" cy="622.6" r="9.5" fill="#25838e"/>
<circle cx="542.8" cy="743.3" r="9.5" fill="#277e8e"/>
<circle cx="439.0" cy="410.1" r="9.5" fill="#d0e11c"/>
<circle cx="533.8" cy="758.0" r="9.5" fill="#424186"/>
<circle cx="485.8" cy="649.2" r="9.5" fill="#25ab82"/>
<circle cx="601.3" cy="755.5" r="9.5" fill="#228b8d"/>
<circle cx="789.2" cy="703.7" r="9.5" fill="#33628d"/>
<circle cx="595.6" cy="644.7" r="9.5" fill="#277f8e"/>
<circle cx="511.3" cy="539.6" r="9.5" fill="#dfe318"/>
<circle cx="402.8" cy="155.9" r="9.5" fill="#eae51a"/>
<circle cx="352.0" cy="219.5" r="9.5" fill="#54c568"/>
<circle cx="394.2" cy="222.2" r="9.5" fill="#eae51a"/>
<circle cx="386.1" cy="233.0" r="9.5" fill="#a5db36"/>
<circle cx="436.6" cy="228.9" r="9.5" fill="#d2e21b"/>
<circle cx="445.7" cy="230.6" r="9.5" fill="#67cc5c"/>
<circle cx="478.7" cy="232.4" r="9.5" fill="#90d743"/>
<circle cx="343.7" cy="252.6" r="9.5" fill="#dfe318"/>
<circle cx="360.1" cy="259.3" r="9.5" fill="#7ad151"/>
<circle cx="368.7" cy="259.3" r="9.5" fill="#d2e21b"/>
<circle cx="378.1" cy="263.3" r="9.5" fill="#a5db36"/>
<circle cx="394.2" cy="249.9" r="9.5" fill="#67cc5c"/>
<circle cx="394.2" cy="261.1" r="9.5" fill="#67cc5c"/>
<circle cx="436.6" cy="251.2" r="9.5" fill="#dfe318"/>
<circle cx="436.6" cy="264.6" r="9.5" fill="#a5db36"/>
<circle cx="445.7" cy="274.0" r="9.5" fill="#67cc5c"/>
<circle cx="478.7" cy="266.5" r="9.5" fill="#dfe318"/>
<circle cx="293.5" cy="279.9" r="9.5" fill="#44bf70"/>
<circle cx="319.0" cy="270.0" r="9.5" fill="#44bf70"/>
<circle cx="328.4" cy="270.0" r="9.5" fill="#d2e21b"/>
<circle cx="327.1" cy="278.1" r="9.5" fill="#5ec962"/>
<circle cx="360.1" cy="279.4" r="9.5" fill="#dfe318"/>
<circle cx="386.1" cy="290.1" r="9.5" fill="#dfe318"/>
<circle cx="427.7" cy="286.1" r="9.5" fill="#dfe318"/>
<circle cx="419.7" cy="295.5" r="9.5" fill="#21918c"/>
<circle cx="403.6" cy="300.9" r="9.5" fill="#67cc5c"/>
<circle cx="386.1" cy="302.2" r="9.5" fill="#a5db36"/>
<circle cx="378.1" cy="311.6" r="9.5" fill="#a5db36"/>
<circle cx="343.7" cy="307.6" r="9.5" fill="#d2e21b"/>
<circle cx="360.6" cy="304.1" r="9.5" fill="#c8e020"/>
<circle cx="402.2" cy="317.0" r="9.5" fill="#d2e21b"/>
<circle cx="411.6" cy="317.0" r="9.5" fill="#bddf26"/>
<circle cx="419.7" cy="319.7" r="9.5" fill="#2ab07f"/>
<circle cx="445.2" cy="298.2" r="9.5" fill="#90d743"/>
<circle cx="453.2" cy="311.6" r="9.5" fill="#20a486"/>
<circle cx="461.3" cy="303.6" r="9.5" fill="#54c568"/>
<circle cx="470.7" cy="290.1" r="9.5" fill="#54c568"/>
<circle cx="480.1" cy="298.2" r="9.5" fill="#7ad151"/>
<circle cx="386.1" cy="327.7" r="9.5" fill="#35b779"/>
<circle cx="394.2" cy="335.8" r="9.5" fill="#67cc5c"/>
<circle cx="403.6" cy="333.1" r="9.5" fill="#a5db36"/>
<circle cx="436.6" cy="325.0" r="9.5" fill="#eae51a"/>
<circle cx="445.7" cy="335.8" r="9.5" fill="#bddf26"/>
<circle cx="462.6" cy="334.4" r="9.5" fill="#2d708e"/>
<circle cx="427.7" cy="342.5" r="9.5" fill="#bddf26"/>
<circle cx="478.7" cy="327.7" r="9.5" fill="#54c568"/>
<circle cx="301.6" cy="337.1" r="9.5" fill="#54c568"/>
<circle cx="327.1" cy="329.9" r="9.5" fill="#d2e21b"/>
<circle cx="335.1" cy="346.5" r="9.5" fill="#54c568"/>
<circle cx="368.7" cy="354.5" r="9.5" fill="#7ad151"/>
<circle cx="378.1" cy="362.6" r="9.5" fill="#90d743"/>
<circle cx="360.6" cy="362.6" r="9.5" fill="#a5db36"/>
<circle cx="343.2" cy="374.7" r="9.5" fill="#2a788e"/>
<circle cx="360.6" cy="372.0" r="9.5" fill="#20a486"/>
<circle cx="335.1" cy="384.1" r="9.5" fill="#90d743"/>
<circle cx="352.0" cy="382.7" r="9.5" fill="#d2e21b"/>
<circle cx="301.6" cy="381.4" r="9.5" fill="#dfe318"/>
<circle cx="301.6" cy="394.8" r="9.5" fill="#54c568"/>
<circle cx="276.1" cy="408.2" r="9.5" fill="#21918c"/>
<circle cx="284.9" cy="417.6" r="9.5" fill="#90d743"/>
<circle cx="294.9" cy="419.0" r="9.5" fill="#7ad151"/>
<circle cx="242.5" cy="423.0" r="9.5" fill="#54c568"/>
<circle cx="402.2" cy="374.7" r="9.5" fill="#bddf26"/>
<circle cx="419.7" cy="370.6" r="9.5" fill="#2ab07f"/>
<circle cx="436.6" cy="355.9" r="9.5" fill="#bddf26"/>
<circle cx="427.7" cy="382.7" r="9.5" fill="#90d743"/>
<circle cx="445.7" cy="376.0" r="9.5" fill="#90d743"/>
<circle cx="453.2" cy="351.9" r="9.5" fill="#90d743"/>
<circle cx="464.0" cy="368.0" r="9.5" fill="#bddf26"/>
<circle cx="478.7" cy="349.2" r="9.5" fill="#67cc5c"/>
<circle cx="638.6" cy="189.0" r="9.5" fill="#67cc5c"/>
<circle cx="563.0" cy="221.7" r="9.5" fill="#90d743"/>
<circle cx="554.6" cy="233.8" r="9.5" fill="#a5db36"/>
<circle cx="638.6" cy="220.4" r="9.5" fill="#67cc5c"/>
<circle cx="630.6" cy="233.8" r="9.5" fill="#bddf26"/>
<circle cx="622.0" cy="264.6" r="9.5" fill="#a5db36"/>
<circle cx="495.1" cy="257.9" r="9.5" fill="#dfe318"/>
<circle cx="489.7" cy="276.7" r="9.5" fill="#dfe318"/>
<circle cx="512.5" cy="272.7" r="9.5" fill="#7ad151"/>
<circle cx="520.5" cy="280.7" r="9.5" fill="#67cc5c"/>
<circle cx="538.0" cy="279.4" r="9.5" fill="#a5db36"/>
<circle cx="512.5" cy="290.1" r="9.5" fill="#dfe318"/>
<circle cx="503.1" cy="286.1" r="9.5" fill="#90d743"/>
<circle cx="529.9" cy="303.6" r="9.5" fill="#67cc5c"/>
<circle cx="538.0" cy="304.9" r="9.5" fill="#35b779"/>
<circle cx="554.1" cy="299.5" r="9.5" fill="#d2e21b"/>
<circle cx="571.5" cy="291.5" r="9.5" fill="#dfe318"/>
<circle cx="589.0" cy="295.5" r="9.5" fill="#a5db36"/>
<circle cx="597.0" cy="290.1" r="9.5" fill="#90d743"/>
<circle cx="605.1" cy="298.2" r="9.5" fill="#dfe318"/>
<circle cx="579.6" cy="306.2" r="9.5" fill="#90d743"/>
<circle cx="589.0" cy="311.6" r="9.5" fill="#a5db36"/>
<circle cx="563.0" cy="315.6" r="9.5" fill="#44bf70"/>
<circle cx="512.5" cy="302.2" r="9.5" fill="#bddf26"/>
<circle cx="495.1" cy="308.9" r="9.5" fill="#d2e21b"/>
<circle cx="512.5" cy="319.7" r="9.5" fill="#a5db36"/>
<circle cx="579.6" cy="330.4" r="9.5" fill="#67cc5c"/>
<circle cx="571.5" cy="338.4" r="9.5" fill="#54c568"/>
<circle cx="529.9" cy="335.8" r="9.5" fill="#7ad151"/>
<circle cx="546.0" cy="338.4" r="9.5" fill="#a5db36"/>
<circle cx="554.1" cy="337.1" r="9.5" fill="#bddf26"/>
<circle cx="580.9" cy="346.5" r="9.5" fill="#a5db36"/>
<circle cx="563.0" cy="359.9" r="9.5" fill="#5ec962"/>
<circle cx="596.5" cy="366.6" r="9.5" fill="#d2e21b"/>
<circle cx="538.0" cy="349.2" r="9.5" fill="#d2e21b"/>
<circle cx="504.4" cy="349.2" r="9.5" fill="#a5db36"/>
<circle cx="664.1" cy="345.2" r="9.5" fill="#67cc5c"/>
<circle cx="705.7" cy="326.4" r="9.5" fill="#67cc5c"/>
<circle cx="723.2" cy="318.3" r="9.5" fill="#dfe318"/>
<circle cx="731.8" cy="333.1" r="9.5" fill="#35b779"/>
<circle cx="723.2" cy="334.4" r="9.5" fill="#a5db36"/>
<circle cx="731.8" cy="346.5" r="9.5" fill="#2ab07f"/>
<circle cx="731.2" cy="359.9" r="9.5" fill="#bddf26"/>
<circle cx="723.2" cy="365.3" r="9.5" fill="#bddf26"/>
<circle cx="697.7" cy="354.5" r="9.5" fill="#27808e"/>
<circle cx="707.1" cy="373.3" r="9.5" fill="#7ad151"/>
<circle cx="773.6" cy="346.5" r="9.5" fill="#2d708e"/>
<circle cx="782.2" cy="343.3" r="9.5" fill="#a5db36"/>
<circle cx="773.6" cy="362.6" r="9.5" fill="#2ab07f"/>
<circle cx="833.2" cy="376.0" r="9.5" fill="#54c568"/>
<circle cx="849.3" cy="386.8" r="9.5" fill="#44bf70"/>
<circle cx="816.6" cy="390.8" r="9.5" fill="#67cc5c"/>
<circle cx="773.6" cy="400.2" r="9.5" fill="#dfe318"/>
<circle cx="731.2" cy="402.9" r="9.5" fill="#21918c"/>
<circle cx="807.7" cy="419.0" r="9.5" fill="#67cc5c"/>
<circle cx="764.8" cy="419.0" r="9.5" fill="#20a486"/>
<circle cx="739.3" cy="421.6" r="9.5" fill="#1f988b"/>
<circle cx="689.6" cy="392.1" r="9.5" fill="#d2e21b"/>
<circle cx="699.0" cy="408.2" r="9.5" fill="#2d708e"/>
<circle cx="715.1" cy="410.9" r="9.5" fill="#23888e"/>
<circle cx="680.2" cy="366.6" r="9.5" fill="#90d743"/>
<circle cx="672.2" cy="376.0" r="9.5" fill="#dfe318"/>
<circle cx="656.1" cy="370.6" r="9.5" fill="#d2e21b"/>
<circle cx="648.0" cy="363.9" r="9.5" fill="#1f988b"/>
<circle cx="621.2" cy="346.5" r="9.5" fill="#67cc5c"/>
<circle cx="621.2" cy="357.2" r="9.5" fill="#54c568"/>
<circle cx="611.8" cy="370.6" r="9.5" fill="#2ab07f"/>
<circle cx="621.2" cy="376.0" r="9.5" fill="#35b779"/>
<circle cx="630.6" cy="368.0" r="9.5" fill="#54c568"/>
<circle cx="621.2" cy="389.4" r="9.5" fill="#67cc5c"/>
<circle cx="648.0" cy="405.5" r="9.5" fill="#54c568"/>
<circle cx="631.9" cy="413.6" r="9.5" fill="#20a486"/>
<circle cx="900.5" cy="356.4" r="9.5" fill="#23888e"/>
<circle cx="892.0" cy="398.3" r="9.5" fill="#20a486"/>
<circle cx="242.5" cy="447.9" r="9.5" fill="#a5db36"/>
<circle cx="268.0" cy="465.9" r="9.5" fill="#dfe318"/>
<circle cx="285.5" cy="471.3" r="9.5" fill="#2a788e"/>
<circle cx="293.5" cy="467.3" r="9.5" fill="#54c568"/>
<circle cx="294.9" cy="478.0" r="9.5" fill="#90d743"/>
<circle cx="285.5" cy="483.4" r="9.5" fill="#67cc5c"/>
<circle cx="301.6" cy="435.1" r="9.5" fill="#a5db36"/>
<circle cx="311.0" cy="444.4" r="9.5" fill="#23888e"/>
<circle cx="268.0" cy="495.4" r="9.5" fill="#7ad151"/>
<circle cx="276.1" cy="507.5" r="9.5" fill="#d2e21b"/>
<circle cx="293.5" cy="499.5" r="9.5" fill="#d2e21b"/>
<circle cx="293.5" cy="507.5" r="9.5" fill="#a5db36"/>
<circle cx="301.6" cy="529.0" r="9.5" fill="#472f7d"/>
<circle cx="276.1" cy="541.9" r="9.5" fill="#23888e"/>
<circle cx="293.5" cy="564.4" r="9.5" fill="#d2e21b"/>
<circle cx="311.0" cy="542.4" r="9.5" fill="#44bf70"/>
<circle cx="319.0" cy="553.1" r="9.5" fill="#443983"/>
<circle cx="335.1" cy="537.0" r="9.5" fill="#472f7d"/>
<circle cx="335.1" cy="576.0" r="9.5" fill="#31688e"/>
<circle cx="276.1" cy="606.8" r="9.5" fill="#23888e"/>
<circle cx="301.6" cy="631.0" r="9.5" fill="#54c568"/>
<circle cx="327.1" cy="624.3" r="9.5" fill="#1f988b"/>
<circle cx="268.0" cy="644.4" r="9.5" fill="#2a788e"/>
<circle cx="284.1" cy="656.5" r="9.5" fill="#67cc5c"/>
<circle cx="293.5" cy="653.8" r="9.5" fill="#d2e21b"/>
<circle cx="319.0" cy="677.9" r="9.5" fill="#31688e"/>
<circle cx="319.0" cy="682.0" r="9.5" fill="#2a788e"/>
<circle cx="200.4" cy="712.0" r="9.5" fill="#443983"/>
<circle cx="343.2" cy="708.8" r="9.5" fill="#23888e"/>
<circle cx="352.0" cy="720.9" r="9.5" fill="#44bf70"/>
<circle cx="335.1" cy="731.6" r="9.5" fill="#414487"/>
<circle cx="343.2" cy="733.0" r="9.5" fill="#27808e"/>
<circle cx="292.2" cy="738.3" r="9.5" fill="#443983"/>
<circle cx="384.8" cy="695.4" r="9.5" fill="#414487"/>
<circle cx="360.6" cy="682.0" r="9.5" fill="#35b779"/>
<circle cx="378.1" cy="679.3" r="9.5" fill="#44bf70"/>
<circle cx="343.2" cy="668.5" r="9.5" fill="#23888e"/>
<circle cx="402.2" cy="735.6" r="9.5" fill="#44bf70"/>
<circle cx="419.7" cy="734.3" r="9.5" fill="#23888e"/>
<circle cx="435.8" cy="718.2" r="9.5" fill="#443983"/>
<circle cx="445.2" cy="720.9" r="9.5" fill="#bddf26"/>
<circle cx="799.7" cy="437.7" r="9.5" fill="#31688e"/>
<circle cx="824.6" cy="439.1" r="9.5" fill="#90d743"/>
<circle cx="824.6" cy="453.8" r="9.5" fill="#35b779"/>
<circle cx="824.6" cy="464.6" r="9.5" fill="#67cc5c"/>
<circle cx="849.3" cy="464.6" r="9.5" fill="#355f8d"/>
<circle cx="860.1" cy="467.3" r="9.5" fill="#90d743"/>
<circle cx="773.6" cy="448.5" r="9.5" fill="#54c568"/>
<circle cx="774.2" cy="465.9" r="9.5" fill="#bddf26"/>
<circle cx="782.2" cy="471.3" r="9.5" fill="#90d743"/>
<circle cx="766.1" cy="444.4" r="9.5" fill="#44bf70"/>
<circle cx="748.7" cy="447.1" r="9.5" fill="#90d743"/>
<circle cx="739.3" cy="451.2" r="9.5" fill="#dfe318"/>
<circle cx="731.2" cy="451.2" r="9.5" fill="#67cc5c"/>
<circle cx="715.1" cy="444.4" r="9.5" fill="#35b779"/>
<circle cx="799.7" cy="491.4" r="9.5" fill="#20a486"/>
<circle cx="807.7" cy="503.5" r="9.5" fill="#35b779"/>
<circle cx="815.8" cy="502.1" r="9.5" fill="#54c568"/>
<circle cx="824.6" cy="500.8" r="9.5" fill="#1fa188"/>
<circle cx="833.2" cy="515.6" r="9.5" fill="#23888e"/>
<circle cx="849.3" cy="518.3" r="9.5" fill="#67cc5c"/>
<circle cx="858.7" cy="491.4" r="9.5" fill="#1fa188"/>
<circle cx="849.3" cy="491.4" r="9.5" fill="#1f988b"/>
<circle cx="976.5" cy="457.9" r="9.5" fill="#1fa188"/>
<circle cx="908.6" cy="485.5" r="9.5" fill="#2ab07f"/>
<circle cx="900.5" cy="506.7" r="9.5" fill="#27808e"/>
<circle cx="892.0" cy="519.6" r="9.5" fill="#31688e"/>
<circle cx="900.5" cy="520.9" r="9.5" fill="#355f8d"/>
<circle cx="875.1" cy="518.3" r="9.5" fill="#1fa188"/>
<circle cx="934.1" cy="529.5" r="9.5" fill="#23888e"/>
<circle cx="943.0" cy="520.9" r="9.5" fill="#23888e"/>
<circle cx="950.2" cy="537.0" r="9.5" fill="#90d743"/>
<circle cx="967.6" cy="534.4" r="9.5" fill="#dfe318"/>
<circle cx="977.0" cy="537.0" r="9.5" fill="#54c568"/>
<circle cx="959.6" cy="546.4" r="9.5" fill="#472f7d"/>
<circle cx="993.1" cy="539.7" r="9.5" fill="#1f988b"/>
<circle cx="875.1" cy="531.7" r="9.5" fill="#54c568"/>
<circle cx="875.1" cy="557.2" r="9.5" fill="#bddf26"/>
<circle cx="883.1" cy="571.9" r="9.5" fill="#a5db36"/>
<circle cx="934.1" cy="555.8" r="9.5" fill="#27808e"/>
<circle cx="943.0" cy="569.2" r="9.5" fill="#39568c"/>
<circle cx="924.7" cy="574.6" r="9.5" fill="#21918c"/>
<circle cx="916.1" cy="571.9" r="9.5" fill="#1fa188"/>
<circle cx="943.0" cy="584.0" r="9.5" fill="#35b779"/>
<circle cx="908.6" cy="585.3" r="9.5" fill="#1fa188"/>
<circle cx="967.6" cy="566.6" r="9.5" fill="#2d708e"/>
<circle cx="985.1" cy="566.6" r="9.5" fill="#39568c"/>
<circle cx="993.1" cy="563.9" r="9.5" fill="#355f8d"/>
<circle cx="977.0" cy="580.0" r="9.5" fill="#54c568"/>
<circle cx="985.1" cy="582.1" r="9.5" fill="#27808e"/>
<circle cx="900.5" cy="593.4" r="9.5" fill="#443983"/>
<circle cx="899.2" cy="604.1" r="9.5" fill="#39568c"/>
<circle cx="916.7" cy="609.5" r="9.5" fill="#31688e"/>
<circle cx="924.7" cy="610.8" r="9.5" fill="#39568c"/>
<circle cx="951.5" cy="604.1" r="9.5" fill="#355f8d"/>
<circle cx="967.6" cy="605.5" r="9.5" fill="#27808e"/>
<circle cx="967.6" cy="618.9" r="9.5" fill="#31688e"/>
<circle cx="943.0" cy="610.8" r="9.5" fill="#355f8d"/>
<circle cx="892.0" cy="621.6" r="9.5" fill="#31688e"/>
<circle cx="875.1" cy="622.9" r="9.5" fill="#90d743"/>
<circle cx="907.3" cy="621.6" r="9.5" fill="#443983"/>
<circle cx="916.1" cy="629.6" r="9.5" fill="#39568c"/>
<circle cx="924.7" cy="620.2" r="9.5" fill="#482475"/>
<circle cx="951.5" cy="625.6" r="9.5" fill="#355f8d"/>
<circle cx="934.1" cy="628.3" r="9.5" fill="#2a788e"/>
<circle cx="943.0" cy="639.0" r="9.5" fill="#21918c"/>
<circle cx="959.6" cy="641.7" r="9.5" fill="#27808e"/>
<circle cx="975.7" cy="629.6" r="9.5" fill="#355f8d"/>
<circle cx="993.1" cy="633.7" r="9.5" fill="#31688e"/>
<circle cx="1018.6" cy="608.7" r="9.5" fill="#3d4d8a"/>
<circle cx="1068.3" cy="573.3" r="9.5" fill="#2ab07f"/>
<circle cx="1077.7" cy="588.0" r="9.5" fill="#31688e"/>
<circle cx="1093.8" cy="606.0" r="9.5" fill="#31688e"/>
<circle cx="1077.7" cy="618.4" r="9.5" fill="#2a788e"/>
<circle cx="1161.7" cy="607.4" r="9.5" fill="#31688e"/>
<circle cx="1195.8" cy="616.7" r="9.5" fill="#3d4d8a"/>
<circle cx="1035.5" cy="647.1" r="9.5" fill="#7ad151"/>
<circle cx="1045.5" cy="647.1" r="9.5" fill="#355f8d"/>
<circle cx="1009.2" cy="649.8" r="9.5" fill="#443983"/>
<circle cx="993.1" cy="655.1" r="9.5" fill="#31688e"/>
<circle cx="993.1" cy="668.5" r="9.5" fill="#2ab07f"/>
<circle cx="976.5" cy="669.9" r="9.5" fill="#27808e"/>
<circle cx="1052.2" cy="660.5" r="9.5" fill="#472f7d"/>
<circle cx="1068.3" cy="653.8" r="9.5" fill="#443983"/>
<circle cx="1060.2" cy="667.2" r="9.5" fill="#355f8d"/>
<circle cx="1069.6" cy="671.2" r="9.5" fill="#23888e"/>
<circle cx="1035.5" cy="669.9" r="9.5" fill="#2d708e"/>
<circle cx="1018.6" cy="677.9" r="9.5" fill="#3d4d8a"/>
<circle cx="1101.8" cy="639.0" r="9.5" fill="#27808e"/>
<circle cx="1111.2" cy="641.7" r="9.5" fill="#2ab07f"/>
<circle cx="1136.2" cy="639.0" r="9.5" fill="#39568c"/>
<circle cx="1109.9" cy="667.2" r="9.5" fill="#1fa188"/>
<circle cx="1119.3" cy="671.2" r="9.5" fill="#31688e"/>
<circle cx="1136.2" cy="677.1" r="9.5" fill="#3d4d8a"/>
<circle cx="1203.8" cy="680.1" r="9.5" fill="#23888e"/>
<circle cx="1136.2" cy="708.8" r="9.5" fill="#1f988b"/>
<circle cx="993.1" cy="688.7" r="9.5" fill="#3d4d8a"/>
<circle cx="1009.2" cy="698.1" r="9.5" fill="#443983"/>
<circle cx="1026.7" cy="695.4" r="9.5" fill="#39568c"/>
<circle cx="1035.5" cy="688.7" r="9.5" fill="#1f988b"/>
<circle cx="1052.2" cy="702.1" r="9.5" fill="#2d708e"/>
<circle cx="1018.6" cy="712.8" r="9.5" fill="#443983"/>
<circle cx="976.5" cy="706.1" r="9.5" fill="#355f8d"/>
<circle cx="993.1" cy="718.2" r="9.5" fill="#443983"/>
<circle cx="1001.2" cy="723.6" r="9.5" fill="#481a6c"/>
<circle cx="1035.5" cy="727.6" r="9.5" fill="#472f7d"/>
<circle cx="985.1" cy="733.0" r="9.5" fill="#21918c"/>
<circle cx="1022.7" cy="735.6" r="9.5" fill="#31688e"/>
<circle cx="1111.2" cy="727.6" r="9.5" fill="#443983"/>
<circle cx="1195.8" cy="730.3" r="9.5" fill="#355f8d"/>
<circle cx="1211.9" cy="721.4" r="9.5" fill="#443983"/>
<circle cx="1077.7" cy="739.7" r="9.5" fill="#3d4d8a"/>
<circle cx="875.1" cy="649.8" r="9.5" fill="#443983"/>
<circle cx="883.1" cy="651.1" r="9.5" fill="#44bf70"/>
<circle cx="900.5" cy="660.5" r="9.5" fill="#1fa188"/>
<circle cx="908.6" cy="644.4" r="9.5" fill="#90d743"/>
<circle cx="934.1" cy="668.5" r="9.5" fill="#443983"/>
<circle cx="943.0" cy="663.2" r="9.5" fill="#39568c"/>
<circle cx="951.5" cy="677.9" r="9.5" fill="#355f8d"/>
<circle cx="943.0" cy="680.6" r="9.5" fill="#23888e"/>
<circle cx="900.5" cy="692.7" r="9.5" fill="#482475"/>
<circle cx="892.0" cy="680.6" r="9.5" fill="#39568c"/>
<circle cx="916.1" cy="692.7" r="9.5" fill="#1fa188"/>
<circle cx="943.0" cy="698.1" r="9.5" fill="#21918c"/>
<circle cx="951.5" cy="702.1" r="9.5" fill="#355f8d"/>
<circle cx="934.1" cy="715.5" r="9.5" fill="#31688e"/>
<circle cx="900.5" cy="722.2" r="9.5" fill="#443983"/>
<circle cx="924.7" cy="727.6" r="9.5" fill="#31688e"/>
<circle cx="875.1" cy="700.8" r="9.5" fill="#2ab07f"/>
<circle cx="875.1" cy="676.6" r="9.5" fill="#443983"/>
<circle cx="149.9" cy="749.6" r="9.5" fill="#31688e"/>
<circle cx="301.6" cy="747.7" r="9.5" fill="#2a788e"/>
<circle cx="326.5" cy="757.1" r="9.5" fill="#443983"/>
<circle cx="318.5" cy="775.1" r="9.5" fill="#355f8d"/>
<circle cx="368.7" cy="749.1" r="9.5" fill="#414487"/>
<circle cx="376.7" cy="761.1" r="9.5" fill="#23888e"/>
<circle cx="393.6" cy="781.3" r="9.5" fill="#23888e"/>
<circle cx="402.2" cy="788.0" r="9.5" fill="#35b779"/>
<circle cx="419.1" cy="792.0" r="9.5" fill="#2a788e"/>
<circle cx="410.3" cy="770.5" r="9.5" fill="#1f988b"/>
<circle cx="418.3" cy="761.1" r="9.5" fill="#44bf70"/>
<circle cx="402.2" cy="743.7" r="9.5" fill="#54c568"/>
<circle cx="410.3" cy="755.8" r="9.5" fill="#443983"/>
<circle cx="435.8" cy="781.3" r="9.5" fill="#23888e"/>
<circle cx="443.8" cy="778.6" r="9.5" fill="#470d60"/>
<circle cx="445.2" cy="763.8" r="9.5" fill="#2ab07f"/>
<circle cx="453.2" cy="790.7" r="9.5" fill="#355f8d"/>
<circle cx="461.3" cy="798.7" r="9.5" fill="#21918c"/>
<circle cx="469.3" cy="808.1" r="9.5" fill="#31688e"/>
<circle cx="461.3" cy="821.5" r="9.5" fill="#355f8d"/>
<circle cx="461.3" cy="758.4" r="9.5" fill="#443983"/>
<circle cx="469.3" cy="775.9" r="9.5" fill="#355f8d"/>
<circle cx="480.1" cy="781.3" r="9.5" fill="#482475"/>
<circle cx="478.7" cy="789.3" r="9.5" fill="#54c568"/>
<circle cx="470.7" cy="751.7" r="9.5" fill="#23888e"/>
<circle cx="293.5" cy="815.6" r="9.5" fill="#23888e"/>
<circle cx="310.2" cy="820.7" r="9.5" fill="#443983"/>
<circle cx="310.2" cy="841.6" r="9.5" fill="#3d4d8a"/>
<circle cx="402.2" cy="815.6" r="9.5" fill="#355f8d"/>
<circle cx="402.2" cy="828.2" r="9.5" fill="#472f7d"/>
<circle cx="402.2" cy="845.7" r="9.5" fill="#23888e"/>
<circle cx="435.8" cy="847.5" r="9.5" fill="#443983"/>
<circle cx="444.6" cy="847.5" r="9.5" fill="#2ab07f"/>
<circle cx="444.6" cy="830.9" r="9.5" fill="#31688e"/>
<circle cx="444.6" cy="869.8" r="9.5" fill="#35b779"/>
<circle cx="419.7" cy="887.3" r="9.5" fill="#39568c"/>
<circle cx="461.3" cy="904.2" r="9.5" fill="#23888e"/>
<circle cx="394.2" cy="912.8" r="9.5" fill="#31688e"/>
<circle cx="360.6" cy="911.4" r="9.5" fill="#44bf70"/>
<circle cx="360.6" cy="918.1" r="9.5" fill="#31688e"/>
<circle cx="284.1" cy="905.3" r="9.5" fill="#3d4d8a"/>
<circle cx="209.0" cy="878.4" r="9.5" fill="#443983"/>
<circle cx="310.2" cy="942.3" r="9.5" fill="#2d708e"/>
<circle cx="453.2" cy="948.5" r="9.5" fill="#443983"/>
<circle cx="482.7" cy="829.6" r="9.5" fill="#355f8d"/>
<circle cx="482.7" cy="859.1" r="9.5" fill="#443983"/>
<circle cx="484.1" cy="875.2" r="9.5" fill="#21918c"/>
<circle cx="484.1" cy="887.3" r="9.5" fill="#23888e"/>
<circle cx="538.0" cy="790.7" r="9.5" fill="#3d4d8a"/>
<circle cx="504.4" cy="790.7" r="9.5" fill="#31688e"/>
<circle cx="512.5" cy="804.1" r="9.5" fill="#2d708e"/>
<circle cx="520.5" cy="814.8" r="9.5" fill="#2a788e"/>
<circle cx="538.0" cy="820.2" r="9.5" fill="#414487"/>
<circle cx="554.1" cy="812.1" r="9.5" fill="#31688e"/>
<circle cx="563.0" cy="813.5" r="9.5" fill="#27808e"/>
<circle cx="563.0" cy="796.0" r="9.5" fill="#355f8d"/>
<circle cx="579.6" cy="802.7" r="9.5" fill="#23888e"/>
<circle cx="587.6" cy="798.7" r="9.5" fill="#443983"/>
<circle cx="605.1" cy="801.4" r="9.5" fill="#443983"/>
<circle cx="605.1" cy="813.5" r="9.5" fill="#27808e"/>
<circle cx="621.2" cy="808.1" r="9.5" fill="#355f8d"/>
<circle cx="629.2" cy="798.7" r="9.5" fill="#31688e"/>
<circle cx="638.6" cy="798.7" r="9.5" fill="#23888e"/>
<circle cx="656.1" cy="804.1" r="9.5" fill="#35b779"/>
<circle cx="664.1" cy="812.1" r="9.5" fill="#443983"/>
<circle cx="672.2" cy="797.4" r="9.5" fill="#2a788e"/>
<circle cx="681.6" cy="816.1" r="9.5" fill="#1fa188"/>
<circle cx="699.0" cy="805.4" r="9.5" fill="#443983"/>
<circle cx="707.1" cy="805.4" r="9.5" fill="#31688e"/>
<circle cx="715.1" cy="788.0" r="9.5" fill="#355f8d"/>
<circle cx="748.7" cy="789.3" r="9.5" fill="#443983"/>
<circle cx="739.3" cy="812.1" r="9.5" fill="#31688e"/>
<circle cx="748.7" cy="812.1" r="9.5" fill="#39568c"/>
<circle cx="782.2" cy="792.0" r="9.5" fill="#443983"/>
<circle cx="790.3" cy="790.7" r="9.5" fill="#3d4d8a"/>
<circle cx="799.7" cy="801.4" r="9.5" fill="#1fa188"/>
<circle cx="823.8" cy="801.4" r="9.5" fill="#2a788e"/>
<circle cx="833.2" cy="801.4" r="9.5" fill="#31688e"/>
<circle cx="841.3" cy="801.4" r="9.5" fill="#3d4d8a"/>
<circle cx="833.2" cy="775.9" r="9.5" fill="#31688e"/>
<circle cx="849.3" cy="770.5" r="9.5" fill="#443983"/>
<circle cx="861.4" cy="767.8" r="9.5" fill="#472f7d"/>
<circle cx="815.8" cy="770.5" r="9.5" fill="#355f8d"/>
<circle cx="487.0" cy="832.3" r="9.5" fill="#44bf70"/>
<circle cx="495.1" cy="848.4" r="9.5" fill="#355f8d"/>
<circle cx="512.5" cy="829.6" r="9.5" fill="#355f8d"/>
<circle cx="520.5" cy="845.7" r="9.5" fill="#2a788e"/>
<circle cx="529.9" cy="829.6" r="9.5" fill="#27808e"/>
<circle cx="563.0" cy="834.9" r="9.5" fill="#481a6c"/>
<circle cx="571.5" cy="849.7" r="9.5" fill="#443983"/>
<circle cx="587.6" cy="848.4" r="9.5" fill="#35b779"/>
<circle cx="597.0" cy="837.6" r="9.5" fill="#2d708e"/>
<circle cx="597.0" cy="822.9" r="9.5" fill="#355f8d"/>
<circle cx="621.2" cy="840.3" r="9.5" fill="#472f7d"/>
<circle cx="629.2" cy="829.6" r="9.5" fill="#3d4d8a"/>
<circle cx="638.6" cy="830.9" r="9.5" fill="#3d4d8a"/>
<circle cx="648.0" cy="839.0" r="9.5" fill="#31688e"/>
<circle cx="656.1" cy="856.4" r="9.5" fill="#2d708e"/>
<circle cx="664.1" cy="841.6" r="9.5" fill="#2a788e"/>
<circle cx="672.2" cy="828.2" r="9.5" fill="#443983"/>
<circle cx="681.6" cy="836.3" r="9.5" fill="#482475"/>
<circle cx="697.7" cy="830.9" r="9.5" fill="#23888e"/>
<circle cx="707.1" cy="839.0" r="9.5" fill="#3d4d8a"/>
<circle cx="697.7" cy="853.7" r="9.5" fill="#44bf70"/>
<circle cx="723.2" cy="859.1" r="9.5" fill="#443983"/>
<circle cx="731.2" cy="840.3" r="9.5" fill="#2a788e"/>
<circle cx="739.3" cy="834.9" r="9.5" fill="#470d60"/>
<circle cx="748.7" cy="826.9" r="9.5" fill="#443983"/>
<circle cx="748.7" cy="863.1" r="9.5" fill="#443983"/>
<circle cx="756.7" cy="872.5" r="9.5" fill="#443983"/>
<circle cx="731.2" cy="872.5" r="9.5" fill="#21918c"/>
<circle cx="739.3" cy="848.4" r="9.5" fill="#443983"/>
<circle cx="764.8" cy="824.2" r="9.5" fill="#31688e"/>
<circle cx="774.2" cy="824.2" r="9.5" fill="#355f8d"/>
<circle cx="774.2" cy="841.6" r="9.5" fill="#355f8d"/>
<circle cx="782.2" cy="847.0" r="9.5" fill="#443983"/>
<circle cx="790.3" cy="824.2" r="9.5" fill="#1f988b"/>
<circle cx="790.3" cy="843.0" r="9.5" fill="#443983"/>
<circle cx="815.8" cy="837.6" r="9.5" fill="#3d4d8a"/>
<circle cx="833.2" cy="840.3" r="9.5" fill="#355f8d"/>
<circle cx="841.3" cy="832.3" r="9.5" fill="#481a6c"/>
<circle cx="849.3" cy="868.5" r="9.5" fill="#443983"/>
<circle cx="815.8" cy="877.9" r="9.5" fill="#443983"/>
<circle cx="823.8" cy="888.6" r="9.5" fill="#31688e"/>
<circle cx="799.7" cy="892.6" r="9.5" fill="#39568c"/>
<circle cx="774.2" cy="907.4" r="9.5" fill="#472f7d"/>
<circle cx="782.2" cy="911.4" r="9.5" fill="#3d4d8a"/>
<circle cx="739.3" cy="904.7" r="9.5" fill="#27808e"/>
<circle cx="723.2" cy="892.6" r="9.5" fill="#31688e"/>
<circle cx="713.8" cy="896.7" r="9.5" fill="#1f988b"/>
<circle cx="707.1" cy="880.6" r="9.5" fill="#355f8d"/>
<circle cx="688.3" cy="896.7" r="9.5" fill="#355f8d"/>
<circle cx="697.7" cy="905.3" r="9.5" fill="#22a884"/>
<circle cx="664.1" cy="910.1" r="9.5" fill="#2a788e"/>
<circle cx="664.1" cy="923.5" r="9.5" fill="#3d4d8a"/>
<circle cx="648.0" cy="890.0" r="9.5" fill="#443983"/>
<circle cx="638.6" cy="904.7" r="9.5" fill="#443983"/>
<circle cx="629.2" cy="885.9" r="9.5" fill="#355f8d"/>
<circle cx="613.1" cy="865.8" r="9.5" fill="#31688e"/>
<circle cx="629.2" cy="865.0" r="9.5" fill="#1fa188"/>
<circle cx="656.1" cy="864.5" r="9.5" fill="#1f988b"/>
<circle cx="621.2" cy="868.5" r="9.5" fill="#443983"/>
<circle cx="597.0" cy="881.9" r="9.5" fill="#31688e"/>
<circle cx="587.6" cy="887.3" r="9.5" fill="#23888e"/>
<circle cx="597.0" cy="891.3" r="9.5" fill="#39568c"/>
<circle cx="587.6" cy="904.7" r="9.5" fill="#355f8d"/>
<circle cx="613.1" cy="908.7" r="9.5" fill="#21918c"/>
<circle cx="613.1" cy="916.8" r="9.5" fill="#27808e"/>
<circle cx="597.0" cy="918.1" r="9.5" fill="#443983"/>
<circle cx="571.5" cy="915.4" r="9.5" fill="#31688e"/>
<circle cx="571.5" cy="863.1" r="9.5" fill="#443983"/>
<circle cx="554.1" cy="869.8" r="9.5" fill="#31688e"/>
<circle cx="546.0" cy="869.8" r="9.5" fill="#2a788e"/>
<circle cx="546.0" cy="896.7" r="9.5" fill="#2d708e"/>
<circle cx="520.5" cy="877.9" r="9.5" fill="#443983"/>
<circle cx="512.5" cy="896.7" r="9.5" fill="#481a6c"/>
<circle cx="504.4" cy="869.3" r="9.5" fill="#23888e"/>
<circle cx="487.0" cy="880.6" r="9.5" fill="#23888e"/>
<circle cx="487.0" cy="887.3" r="9.5" fill="#21918c"/>
<circle cx="520.5" cy="930.2" r="9.5" fill="#443983"/>
<circle cx="512.5" cy="938.3" r="9.5" fill="#1fa188"/>
<circle cx="520.5" cy="951.7" r="9.5" fill="#22a884"/>
<circle cx="613.1" cy="936.9" r="9.5" fill="#31688e"/>
<circle cx="587.6" cy="965.1" r="9.5" fill="#1f988b"/>
<circle cx="622.0" cy="974.5" r="9.5" fill="#443983"/>
<circle cx="630.6" cy="1011.5" r="9.5" fill="#443983"/>
<circle cx="697.7" cy="934.8" r="9.5" fill="#443983"/>
<circle cx="756.7" cy="949.0" r="9.5" fill="#481a6c"/>
<circle cx="764.8" cy="943.6" r="9.5" fill="#23888e"/>
<circle cx="815.8" cy="975.8" r="9.5" fill="#443983"/>
<circle cx="833.2" cy="935.6" r="9.5" fill="#443983"/>
<circle cx="858.7" cy="931.6" r="9.5" fill="#23888e"/>
<circle cx="866.8" cy="902.0" r="9.5" fill="#31688e"/>
<circle cx="866.8" cy="834.9" r="9.5" fill="#443983"/>
<circle cx="875.1" cy="749.1" r="9.5" fill="#31688e"/>
<circle cx="883.1" cy="759.8" r="9.5" fill="#443983"/>
<circle cx="900.5" cy="765.2" r="9.5" fill="#31688e"/>
<circle cx="908.6" cy="763.8" r="9.5" fill="#443983"/>
<circle cx="883.1" cy="774.5" r="9.5" fill="#31688e"/>
<circle cx="900.5" cy="779.9" r="9.5" fill="#482475"/>
<circle cx="934.1" cy="747.7" r="9.5" fill="#3d4d8a"/>
<circle cx="943.0" cy="747.7" r="9.5" fill="#2a788e"/>
<circle cx="951.5" cy="750.4" r="9.5" fill="#31688e"/>
<circle cx="959.6" cy="753.1" r="9.5" fill="#2a788e"/>
<circle cx="968.4" cy="757.1" r="9.5" fill="#355f8d"/>
<circle cx="985.1" cy="747.7" r="9.5" fill="#39568c"/>
<circle cx="993.1" cy="759.8" r="9.5" fill="#3d4d8a"/>
<circle cx="1002.0" cy="757.1" r="9.5" fill="#443983"/>
<circle cx="1018.6" cy="747.7" r="9.5" fill="#2ab07f"/>
<circle cx="1028.0" cy="742.3" r="9.5" fill="#2a788e"/>
<circle cx="951.5" cy="777.2" r="9.5" fill="#443983"/>
<circle cx="968.4" cy="771.9" r="9.5" fill="#443983"/>
<circle cx="985.1" cy="771.9" r="9.5" fill="#3d4d8a"/>
<circle cx="950.2" cy="785.3" r="9.5" fill="#482475"/>
<circle cx="959.6" cy="790.7" r="9.5" fill="#443983"/>
<circle cx="976.5" cy="790.7" r="9.5" fill="#31688e"/>
<circle cx="1010.0" cy="781.3" r="9.5" fill="#481a6c"/>
<circle cx="1026.7" cy="774.5" r="9.5" fill="#443983"/>
<circle cx="1035.5" cy="780.7" r="9.5" fill="#31688e"/>
<circle cx="883.1" cy="803.3" r="9.5" fill="#481a6c"/>
<circle cx="908.6" cy="810.8" r="9.5" fill="#414487"/>
<circle cx="925.5" cy="818.8" r="9.5" fill="#31688e"/>
<circle cx="892.0" cy="829.6" r="9.5" fill="#21918c"/>
<circle cx="875.1" cy="833.6" r="9.5" fill="#482475"/>
<circle cx="875.1" cy="847.0" r="9.5" fill="#472f7d"/>
<circle cx="892.0" cy="851.0" r="9.5" fill="#443983"/>
<circle cx="892.0" cy="859.1" r="9.5" fill="#482475"/>
<circle cx="900.5" cy="867.1" r="9.5" fill="#443983"/>
<circle cx="916.7" cy="831.7" r="9.5" fill="#443983"/>
<circle cx="934.1" cy="844.3" r="9.5" fill="#23888e"/>
<circle cx="951.5" cy="825.5" r="9.5" fill="#481a6c"/>
<circle cx="968.4" cy="824.2" r="9.5" fill="#470d60"/>
<circle cx="976.5" cy="816.1" r="9.5" fill="#481a6c"/>
<circle cx="1018.6" cy="825.5" r="9.5" fill="#443983"/>
<circle cx="1060.2" cy="850.5" r="9.5" fill="#481a6c"/>
<circle cx="1044.1" cy="881.1" r="9.5" fill="#31688e"/>
<circle cx="1136.2" cy="845.1" r="9.5" fill="#443983"/>
<circle cx="1153.6" cy="824.2" r="9.5" fill="#21918c"/>
<circle cx="1220.7" cy="796.8" r="9.5" fill="#443983"/>
<circle cx="1237.4" cy="814.0" r="9.5" fill="#355f8d"/>
<circle cx="951.0" cy="892.6" r="9.5" fill="#443983"/>
<circle cx="1018.6" cy="925.4" r="9.5" fill="#443983"/>
<circle cx="908.6" cy="936.1" r="9.5" fill="#3d4d8a"/>
<circle cx="883.1" cy="884.6" r="9.5" fill="#23888e"/>
<circle cx="875.1" cy="892.6" r="9.5" fill="#31688e"/>
<circle cx="875.1" cy="906.1" r="9.5" fill="#443983"/>
<circle cx="892.0" cy="904.7" r="9.5" fill="#1fa188"/>
<circle cx="892.0" cy="912.8" r="9.5" fill="#3d4d8a"/>
<circle cx="1110.7" cy="907.4" r="9.5" fill="#443983"/>
<circle cx="1127.3" cy="896.1" r="9.5" fill="#31688e"/>
<circle cx="1144.8" cy="891.3" r="9.5" fill="#482475"/>
</g>
<path d="M552.8 517.9L590.8 555.9M552.8 555.9L590.8 517.9" stroke="#ff0000" stroke-width="2.8" fill="none"/>
<path d="M108 113V1055.5M107 1054.5H1248" stroke="#000" stroke-width="2.2" fill="none"/>
<path d="M149.7 1054.5V1064.2M318.3 1054.5V1064.2M487.0 1054.5V1064.2M655.6 1054.5V1064.2M824.3 1054.5V1064.2M992.9 1054.5V1064.2M1161.6 1054.5V1064.2M98.3 1026.0H108M98.3 886.2H108M98.3 746.3H108M98.3 606.5H108M98.3 466.7H108M98.3 326.8H108M98.3 187.0H108" stroke="#000" stroke-width="2.2" fill="none"/>
<text x="132.0" y="1094" font-size="28.6" textLength="35.4" lengthAdjust="spacingAndGlyphs">80</text>
<text x="291.8" y="1094" font-size="28.6" textLength="53.1" lengthAdjust="spacingAndGlyphs">100</text>
<text x="460.4" y="1094" font-size="28.6" textLength="53.1" lengthAdjust="spacingAndGlyphs">120</text>
<text x="629.1" y="1094" font-size="28.6" textLength="53.1" lengthAdjust="spacingAndGlyphs">140</text>
<text x="797.8" y="1094" font-size="28.6" textLength="53.1" lengthAdjust="spacingAndGlyphs">160</text>
<text x="966.4" y="1094" font-size="28.6" textLength="53.1" lengthAdjust="spacingAndGlyphs">180</text>
<text x="1135.0" y="1094" font-size="28.6" textLength="53.1" lengthAdjust="spacingAndGlyphs">200</text>
<text x="72.3" y="1036.0" font-size="28.6" textLength="17.7" lengthAdjust="spacingAndGlyphs">0</text>
<text x="72.3" y="896.2" font-size="28.6" textLength="17.7" lengthAdjust="spacingAndGlyphs">1</text>
<text x="72.3" y="756.3" font-size="28.6" textLength="17.7" lengthAdjust="spacingAndGlyphs">2</text>
<text x="72.3" y="616.5" font-size="28.6" textLength="17.7" lengthAdjust="spacingAndGlyphs">3</text>
<text x="72.3" y="476.7" font-size="28.6" textLength="17.7" lengthAdjust="spacingAndGlyphs">4</text>
<text x="72.3" y="336.8" font-size="28.6" textLength="17.7" lengthAdjust="spacingAndGlyphs">5</text>
<text x="72.3" y="197.0" font-size="28.6" textLength="17.7" lengthAdjust="spacingAndGlyphs">6</text>
<text x="231.5" y="1135" font-size="34" textLength="891" lengthAdjust="spacingAndGlyphs">Систолическое артериальное давление (мм рт. ст.)</text>
<text transform="translate(54 993.5) rotate(-90)" x="0" y="0" font-size="34" textLength="816" lengthAdjust="spacingAndGlyphs">Объём форсированного выдоха за 1 секунду, л</text>
<text x="97.5" y="57.5" font-size="36.5" textLength="1160" lengthAdjust="spacingAndGlyphs">Зависимость объёма форсированного выдоха за 1 секунду от</text>
<text x="72" y="97.5" font-size="36.5" textLength="1222" lengthAdjust="spacingAndGlyphs">систолического артериального давления с окраской по возрасту</text>
<rect x="1317" y="114" width="47" height="940.4" fill="url(#cb)" stroke="#000" stroke-width="2.2"/>
<text x="1384" y="124.0" font-size="28.6" textLength="35.4" lengthAdjust="spacingAndGlyphs">90</text>
<text x="1384" y="280.7" font-size="28.6" textLength="35.4" lengthAdjust="spacingAndGlyphs">80</text>
<text x="1384" y="437.5" font-size="28.6" textLength="35.4" lengthAdjust="spacingAndGlyphs">70</text>
<text x="1384" y="594.2" font-size="28.6" textLength="35.4" lengthAdjust="spacingAndGlyphs">60</text>
<text x="1384" y="750.9" font-size="28.6" textLength="35.4" lengthAdjust="spacingAndGlyphs">50</text>
<text x="1384" y="907.6" font-size="28.6" textLength="35.4" lengthAdjust="spacingAndGlyphs">40</text>
<text x="1384" y="1064.4" font-size="28.6" textLength="35.4" lengthAdjust="spacingAndGlyphs">30</text>
<path d="M1364 114.0H1374M1364 270.7H1374M1364 427.5H1374M1364 584.2H1374M1364 740.9H1374M1364 897.6H1374M1364 1054.4H1374" stroke="#000" stroke-width="2.2" fill="none"/>
<text transform="translate(1451 802.5) rotate(-90)" x="0" y="0" font-size="31.5" textLength="436" lengthAdjust="spacingAndGlyphs">Возраст по паспорту (годы)</text>
<rect x="915.5" y="128.5" width="316" height="46" rx="4" fill="#fff" fill-opacity="0.8" stroke="#d0d0d0" stroke-width="2"/>
<path d="M933.5 132.5L971.5 170.5M933.5 170.5L971.5 132.5" stroke="#ff0000" stroke-width="2.8" fill="none"/>
<text x="1000.8" y="158.7" font-size="28.6" textLength="222" lengthAdjust="spacingAndGlyphs">Новый пациент</text>
</svg></body></html>
